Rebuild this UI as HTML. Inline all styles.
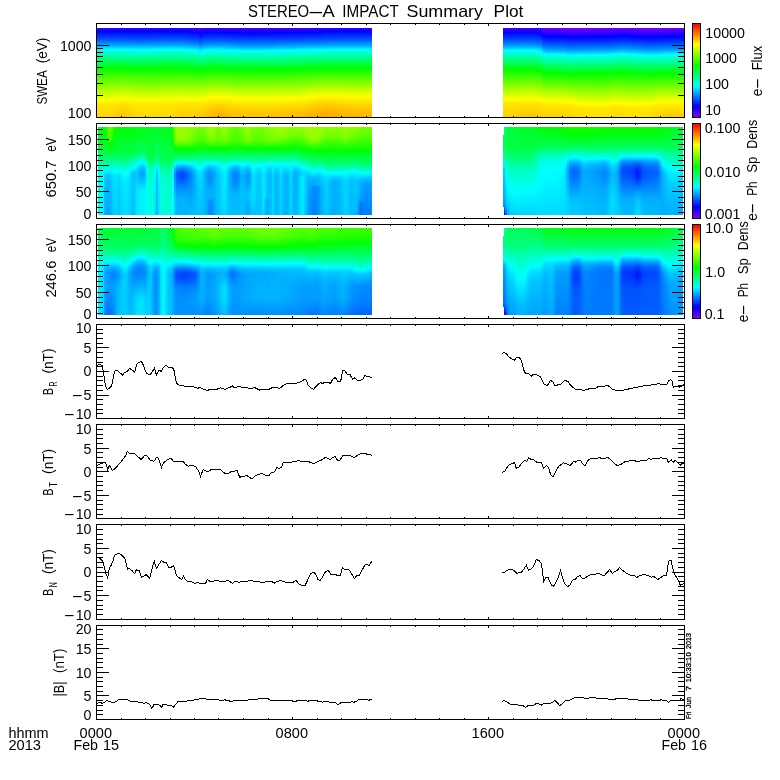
<!DOCTYPE html>
<html lang="en"><head><meta charset="utf-8"><title>STEREO-A IMPACT Summary Plot</title>
<style>
html,body{margin:0;padding:0;background:#fff;width:780px;height:780px;overflow:hidden}
#plot{position:relative;width:780px;height:780px;background:#fff;overflow:hidden}
.bk{position:absolute;overflow:hidden}
.cb{position:absolute;left:693px;width:7px;background:linear-gradient(#f00,#ff0 22.2%,#0f0 45.2%,#0ff 66.9%,#00f 88.2%,#8000ff)}
.bk i{position:absolute;top:0;height:100%;width:2px}
.w3 i{width:3px}
svg{position:absolute;left:0;top:0;display:block;font-family:"Liberation Sans",sans-serif;font-size:14px;fill:#000}
</style></head><body>
<div id="plot">
<div class="bk w3" style="left:97px;top:28px;width:275px;height:89px"><i style="left:0px;background:linear-gradient(#2c00ff 0.5px,#00f 3.5px,#05f 11.5px,#00abff 17.5px,#00feff 21.5px,#00ff9b 28.5px,#02ff00 40.5px,#ff0 72.5px,#ffe800 76.5px,#ffd400 88.5px)"></i><i style="left:3px;background:linear-gradient(#2c00ff 0.5px,#00f 3.5px,#05f 11.5px,#00abff 17.5px,#00feff 21.5px,#00ff9b 28.5px,#02ff00 40.5px,#ff0 72.5px,#ffe800 76.5px,#ffd400 88.5px)"></i><i style="left:6px;background:linear-gradient(#2c00ff 0.5px,#00f 3.5px,#05f 11.5px,#00abff 17.5px,#00feff 21.5px,#00ff9b 28.5px,#02ff00 40.5px,#ff0 72.5px,#ffe800 76.5px,#ffd400 88.5px)"></i><i style="left:9px;background:linear-gradient(#2c00ff 0.5px,#00f 3.5px,#05f 11.5px,#00abff 17.5px,#00feff 21.5px,#00ff9b 28.5px,#02ff00 40.5px,#ff0 72.5px,#ffe800 76.5px,#ffd400 88.5px)"></i><i style="left:12px;background:linear-gradient(#2c00ff 0.5px,#00f 3.5px,#05f 11.5px,#00abff 17.5px,#00feff 21.5px,#00ff9b 28.5px,#02ff00 40.5px,#fffe00 72.5px,#ffe800 76.5px,#ffd300 88.5px)"></i><i style="left:15px;background:linear-gradient(#2c00ff 0.5px,#00f 3.5px,#05f 11.5px,#00abff 17.5px,#00feff 21.5px,#00ff9b 28.5px,#02ff00 40.5px,#fcff00 71.5px,#ffe600 76.5px,#ffce00 88.5px)"></i><i style="left:18px;background:linear-gradient(#2c00ff 0.5px,#00f 3.5px,#05f 11.5px,#00abff 17.5px,#00feff 21.5px,#00ff9b 28.5px,#02ff00 40.5px,#fffe00 71.5px,#ffe500 76.5px,#ffc900 88.5px)"></i><i style="left:21px;background:linear-gradient(#2c00ff 0.5px,#00f 3.5px,#05f 11.5px,#00abff 17.5px,#00feff 21.5px,#00ff9b 28.5px,#02ff00 40.5px,#fcff00 70.5px,#ffe600 75.5px,#ffc400 88.5px)"></i><i style="left:24px;background:linear-gradient(#2c00ff 0.5px,#00f 3.5px,#05f 11.5px,#00abff 17.5px,#00feff 21.5px,#00ff9b 28.5px,#02ff00 40.5px,#ff0 70.5px,#ffe400 75.5px,#ffbf00 88.5px)"></i><i style="left:27px;background:linear-gradient(#2c00ff 0.5px,#00f 3.5px,#05f 11.5px,#00abff 17.5px,#00feff 21.5px,#00ff9b 28.5px,#02ff00 40.5px,#fdff00 70.5px,#ffe500 75.5px,#ffc200 88.5px)"></i><i style="left:30px;background:linear-gradient(#2c00ff 0.5px,#00f 3.5px,#0054ff 11.5px,#00abff 17.5px,#00fdff 21.5px,#00ff9b 28.5px,#01ff00 40.5px,#faff00 70.5px,#ffe400 76.5px,#ffc800 88.5px)"></i><i style="left:33px;background:linear-gradient(#2e00ff 0.5px,#0200ff 3.5px,#0053ff 11.5px,#00a9ff 17.5px,#00fbff 21.5px,#00fff3 22.5px,#00ff9c 28.5px,#0f0 40.5px,#feff00 71.5px,#ffe500 76.5px,#ffce00 88.5px)"></i><i style="left:36px;background:linear-gradient(#2f00ff 0.5px,#0300ff 3.5px,#0052ff 11.5px,#0086ff 15.5px,#00faff 21.5px,#00fff5 22.5px,#00ff01 40.5px,#faff00 71.5px,#ffe700 76.5px,#ffd500 88.5px)"></i><i style="left:39px;background:linear-gradient(#3000ff 0.5px,#0400ff 3.5px,#0052ff 11.5px,#0086ff 15.5px,#00b9ff 18.5px,#00f9ff 21.5px,#00fff6 22.5px,#00ff01 40.5px,#fffe00 72.5px,#ffe800 76.5px,#ffd900 88.5px)"></i><i style="left:42px;background:linear-gradient(#3000ff 0.5px,#0400ff 3.5px,#0052ff 11.5px,#0086ff 15.5px,#00f9ff 21.5px,#00fff5 22.5px,#00ff01 40.5px,#fffe00 72.5px,#ffe800 76.5px,#ffd900 88.5px)"></i><i style="left:45px;background:linear-gradient(#2f00ff 0.5px,#0400ff 3.5px,#0052ff 11.5px,#0086ff 15.5px,#00f9ff 21.5px,#00fff5 22.5px,#00ff01 40.5px,#fffe00 72.5px,#ffe800 76.5px,#ffda00 88.5px)"></i><i style="left:48px;background:linear-gradient(#2f00ff 0.5px,#0300ff 3.5px,#0052ff 11.5px,#00a8ff 17.5px,#00faff 21.5px,#00fff5 22.5px,#0f0 40.5px,#fffe00 72.5px,#ffe800 76.5px,#ffda00 88.5px)"></i><i style="left:51px;background:linear-gradient(#2f00ff 0.5px,#0300ff 3.5px,#0052ff 11.5px,#00a8ff 17.5px,#00faff 21.5px,#00fff4 22.5px,#0f0 40.5px,#fffe00 72.5px,#ffe800 76.5px,#ffdb00 88.5px)"></i><i style="left:54px;background:linear-gradient(#2e00ff 0.5px,#0200ff 3.5px,#0053ff 11.5px,#00a9ff 17.5px,#00fbff 21.5px,#00fff4 22.5px,#0f0 40.5px,#fffe00 72.5px,#ffe800 76.5px,#ffda00 88.5px)"></i><i style="left:57px;background:linear-gradient(#2d00ff 0.5px,#0200ff 3.5px,#0054ff 11.5px,#0af 17.5px,#00fcff 21.5px,#00fff3 22.5px,#00ff9c 28.5px,#01ff00 40.5px,#fffd00 72.5px,#ffe800 76.5px,#ffda00 88.5px)"></i><i style="left:60px;background:linear-gradient(#2c00ff 0.5px,#0100ff 3.5px,#0054ff 11.5px,#00abff 17.5px,#00fdff 21.5px,#00ff9b 28.5px,#01ff00 40.5px,#fffd00 72.5px,#ffe800 76.5px,#ffda00 88.5px)"></i><i style="left:63px;background:linear-gradient(#2b00ff 0.5px,#00f 3.5px,#05f 11.5px,#00acff 17.5px,#00feff 21.5px,#00ffa8 27.5px,#02ff00 40.5px,#faff00 71.5px,#ffe800 76.5px,#ffd900 88.5px)"></i><i style="left:66px;background:linear-gradient(#2a00ff 0.5px,#00f 3.5px,#05f 11.5px,#00adff 17.5px,#0ff 21.5px,#00ffa7 27.5px,#02ff00 40.5px,#faff00 71.5px,#ffe700 76.5px,#ffd900 88.5px)"></i><i style="left:69px;background:linear-gradient(#2a00ff 0.5px,#0001ff 3.5px,#0056ff 11.5px,#00aeff 17.5px,#00fffe 21.5px,#00ffa6 27.5px,#03ff00 40.5px,#fbff00 71.5px,#ffe700 76.5px,#ffd900 88.5px)"></i><i style="left:72px;background:linear-gradient(#2900ff 0.5px,#0001ff 3.5px,#0056ff 11.5px,#00aeff 17.5px,#0df 19.5px,#00fffd 21.5px,#00ffa5 27.5px,#03ff00 40.5px,#fbff00 71.5px,#ffe700 76.5px,#ffd800 88.5px)"></i><i style="left:75px;background:linear-gradient(#2a00ff 0.5px,#0001ff 3.5px,#0056ff 11.5px,#00aeff 17.5px,#0df 19.5px,#00fffe 21.5px,#00ffa6 27.5px,#03ff00 40.5px,#fdff00 71.5px,#ffe700 76.5px,#ffd500 88.5px)"></i><i style="left:78px;background:linear-gradient(#2a00ff 0.5px,#0001ff 3.5px,#0056ff 11.5px,#00adff 17.5px,#0ff 21.5px,#00ffa7 27.5px,#02ff00 40.5px,#feff00 71.5px,#ffe600 76.5px,#ffd200 88.5px)"></i><i style="left:81px;background:linear-gradient(#2b00ff 0.5px,#00f 3.5px,#05f 11.5px,#00acff 17.5px,#0ff 21.5px,#00ffa7 27.5px,#02ff00 40.5px,#fffe00 71.5px,#ffe800 75.5px,#ffcf00 88.5px)"></i><i style="left:84px;background:linear-gradient(#2c00ff 0.5px,#00f 3.5px,#0054ff 11.5px,#00abff 17.5px,#00feff 21.5px,#00ff9b 28.5px,#02ff00 40.5px,#faff00 70.5px,#ffe700 75.5px,#fc0 88.5px)"></i><i style="left:87px;background:linear-gradient(#2e00ff 0.5px,#0300ff 3.5px,#0053ff 11.5px,#00a9ff 17.5px,#00fbff 21.5px,#00fff4 22.5px,#0f0 40.5px,#fffd00 71.5px,#ffe700 75.5px,#ffcd00 88.5px)"></i><i style="left:90px;background:linear-gradient(#3100ff 0.5px,#0600ff 3.5px,#0005ff 4.5px,#005cff 12.5px,#0084ff 15.5px,#00b6ff 18.5px,#00f7ff 21.5px,#00fff7 22.5px,#00ffa0 28.5px,#00ff03 40.5px,#fffe00 71.5px,#ffe800 75.5px,#ffcf00 88.5px)"></i><i style="left:93px;background:linear-gradient(#3400ff 0.5px,#0003ff 4.5px,#0059ff 12.5px,#00b2ff 18.5px,#00e1ff 20.5px,#00fffa 22.5px,#00ffa2 28.5px,#00ff05 40.5px,#05ff00 41.5px,#ff0 71.5px,#ffe800 75.5px,#ffd000 88.5px)"></i><i style="left:96px;background:linear-gradient(#3700ff 0.5px,#0002ff 4.5px,#0057ff 12.5px,#00afff 18.5px,#00deff 20.5px,#00fffd 22.5px,#00ffa5 28.5px,#03ff00 41.5px,#ff0 71.5px,#ffe800 75.5px,#ffd000 88.5px)"></i><i style="left:99px;background:linear-gradient(#3b00ff 0.5px,#0200ff 4.5px,#0032ff 9.5px,#008aff 16.5px,#00fcff 22.5px,#00fff3 23.5px,#00ffa9 28.5px,#01ff00 41.5px,#ff0 71.5px,#ffe800 75.5px,#ffcf00 88.5px)"></i><i style="left:102px;background:linear-gradient(#4b00ff 0.5px,#0600ff 5.5px,#0010ff 7.5px,#0087ff 17.5px,#00e7ff 22.5px,#00fff5 24.5px,#00ff9e 30.5px,#00ff03 42.5px,#faff00 70.5px,#ffe700 75.5px,#ffcb00 88.5px)"></i><i style="left:105px;background:linear-gradient(#3e00ff 0.5px,#0500ff 4.5px,#002fff 9.5px,#0086ff 16.5px,#00f7ff 22.5px,#00fff7 23.5px,#00ffa0 29.5px,#00ff03 41.5px,#feff00 70.5px,#ffe500 75.5px,#ffc400 88.5px)"></i><i style="left:108px;background:linear-gradient(#3800ff 0.5px,#0001ff 4.5px,#0056ff 12.5px,#00aeff 18.5px,#00fffe 22.5px,#00ffa6 28.5px,#03ff00 41.5px,#fffd00 70.5px,#ffd500 79.5px,#ffbe00 88.5px)"></i><i style="left:111px;background:linear-gradient(#3500ff 0.5px,#0003ff 4.5px,#0058ff 12.5px,#00b1ff 18.5px,#00e0ff 20.5px,#00fffb 22.5px,#00ffa3 28.5px,#00ff06 40.5px,#05ff00 41.5px,#fcff00 69.5px,#ffd100 79.5px,#ffb900 88.5px)"></i><i style="left:114px;background:linear-gradient(#30f 0.5px,#0004ff 4.5px,#005aff 12.5px,#00b3ff 18.5px,#00e3ff 20.5px,#00fff9 22.5px,#00ffa1 28.5px,#00ff04 40.5px,#06ff00 41.5px,#ff0 69.5px,#ffcd00 79.5px,#ffb400 88.5px)"></i><i style="left:117px;background:linear-gradient(#30f 0.5px,#0004ff 4.5px,#005aff 12.5px,#00b4ff 18.5px,#00e3ff 20.5px,#00fff9 22.5px,#00ffa1 28.5px,#00ff04 40.5px,#06ff00 41.5px,#fffe00 69.5px,#ffcb00 79.5px,#ffb100 88.5px)"></i><i style="left:120px;background:linear-gradient(#30f 0.5px,#0004ff 4.5px,#005aff 12.5px,#00b4ff 18.5px,#00e3ff 20.5px,#00fff9 22.5px,#00ffa1 28.5px,#00ff04 40.5px,#06ff00 41.5px,#fffd00 69.5px,#ffc900 79.5px,#ffae00 88.5px)"></i><i style="left:123px;background:linear-gradient(#30f 0.5px,#0004ff 4.5px,#005aff 12.5px,#00b3ff 18.5px,#00e2ff 20.5px,#00fff9 22.5px,#00ffa1 28.5px,#00ff05 40.5px,#06ff00 41.5px,#fffd00 69.5px,#ffcd00 78.5px,#ffad00 88.5px)"></i><i style="left:126px;background:linear-gradient(#3500ff 0.5px,#0002ff 4.5px,#0058ff 12.5px,#00b0ff 18.5px,#00dfff 20.5px,#00fffc 22.5px,#00ffa4 28.5px,#05ff00 41.5px,#ff0 69.5px,#ffd000 78.5px,#ffb100 88.5px)"></i><i style="left:129px;background:linear-gradient(#3800ff 0.5px,#0001ff 4.5px,#0056ff 12.5px,#00aeff 18.5px,#00dcff 20.5px,#00fffe 22.5px,#00ffa6 28.5px,#03ff00 41.5px,#fdff00 69.5px,#ffcf00 79.5px,#ffb500 88.5px)"></i><i style="left:132px;background:linear-gradient(#3a00ff 0.5px,#00f 4.5px,#0054ff 12.5px,#00abff 18.5px,#00feff 22.5px,#00ff9b 29.5px,#02ff00 41.5px,#faff00 69.5px,#ffd200 79.5px,#ffb900 88.5px)"></i><i style="left:135px;background:linear-gradient(#3b00ff 0.5px,#0200ff 4.5px,#0031ff 9.5px,#0089ff 16.5px,#00fcff 22.5px,#00fff3 23.5px,#00ff9c 29.5px,#0f0 41.5px,#fffd00 70.5px,#ffd300 79.5px,#ffba00 88.5px)"></i><i style="left:138px;background:linear-gradient(#3c00ff 0.5px,#0300ff 4.5px,#0030ff 9.5px,#0087ff 16.5px,#00faff 22.5px,#00fff5 23.5px,#00ff9d 29.5px,#00ff01 41.5px,#ff0 70.5px,#ffd400 79.5px,#fb0 88.5px)"></i><i style="left:141px;background:linear-gradient(#3e00ff 0.5px,#0500ff 4.5px,#002fff 9.5px,#0085ff 16.5px,#00b8ff 19.5px,#00f8ff 22.5px,#00fff6 23.5px,#00ff9f 29.5px,#00ff02 41.5px,#feff00 70.5px,#ffd500 79.5px,#ffbc00 88.5px)"></i><i style="left:144px;background:linear-gradient(#3f00ff 0.5px,#0600ff 4.5px,#000dff 6.5px,#0084ff 16.5px,#00b6ff 19.5px,#00f6ff 22.5px,#00fff8 23.5px,#00ffa0 29.5px,#00ff03 41.5px,#fdff00 70.5px,#ffd600 79.5px,#ffbd00 88.5px)"></i><i style="left:147px;background:linear-gradient(#4000ff 0.5px,#0700ff 4.5px,#000cff 6.5px,#0083ff 16.5px,#00b4ff 19.5px,#00f5ff 22.5px,#00fff9 23.5px,#00ffa1 29.5px,#00ff04 41.5px,#06ff00 42.5px,#fcff00 70.5px,#ffd300 80.5px,#ffbe00 88.5px)"></i><i style="left:150px;background:linear-gradient(#4000ff 0.5px,#0700ff 4.5px,#000cff 6.5px,#0082ff 16.5px,#00b4ff 19.5px,#00f5ff 22.5px,#00fff9 23.5px,#00ffa1 29.5px,#00ff04 41.5px,#06ff00 42.5px,#fcff00 70.5px,#ffd300 80.5px,#ffbe00 88.5px)"></i><i style="left:153px;background:linear-gradient(#4000ff 0.5px,#0700ff 4.5px,#000cff 6.5px,#0082ff 16.5px,#00b4ff 19.5px,#00f5ff 22.5px,#00fff9 23.5px,#00ffa1 29.5px,#00ff04 41.5px,#06ff00 42.5px,#fcff00 70.5px,#ffd400 80.5px,#ffbe00 88.5px)"></i><i style="left:156px;background:linear-gradient(#4000ff 0.5px,#0700ff 4.5px,#000cff 6.5px,#0082ff 16.5px,#00b4ff 19.5px,#00f5ff 22.5px,#00fff9 23.5px,#00ffa1 29.5px,#00ff04 41.5px,#06ff00 42.5px,#fbff00 70.5px,#ffd400 80.5px,#ffbe00 88.5px)"></i><i style="left:159px;background:linear-gradient(#4000ff 0.5px,#0700ff 4.5px,#000cff 6.5px,#0082ff 16.5px,#00b4ff 19.5px,#00f5ff 22.5px,#00fff9 23.5px,#00ffa1 29.5px,#00ff04 41.5px,#06ff00 42.5px,#fbff00 70.5px,#ffd400 80.5px,#ffbe00 88.5px)"></i><i style="left:162px;background:linear-gradient(#4000ff 0.5px,#0700ff 4.5px,#000cff 6.5px,#0083ff 16.5px,#00b4ff 19.5px,#00f5ff 22.5px,#00fff9 23.5px,#00ffa1 29.5px,#00ff04 41.5px,#06ff00 42.5px,#fbff00 70.5px,#ffd400 80.5px,#ffbe00 88.5px)"></i><i style="left:165px;background:linear-gradient(#4000ff 0.5px,#0700ff 4.5px,#000dff 6.5px,#0083ff 16.5px,#00b5ff 19.5px,#00f6ff 22.5px,#00fff8 23.5px,#00ffa0 29.5px,#00ff03 41.5px,#fbff00 70.5px,#ffd400 80.5px,#ffbd00 88.5px)"></i><i style="left:168px;background:linear-gradient(#3f00ff 0.5px,#0600ff 4.5px,#000dff 6.5px,#0084ff 16.5px,#00b6ff 19.5px,#00f7ff 22.5px,#00fff7 23.5px,#00ffa0 29.5px,#00ff03 41.5px,#fbff00 70.5px,#ffd300 80.5px,#ffbd00 88.5px)"></i><i style="left:171px;background:linear-gradient(#3e00ff 0.5px,#0500ff 4.5px,#000eff 6.5px,#0085ff 16.5px,#00b7ff 19.5px,#00f7ff 22.5px,#00fff7 23.5px,#00ff9f 29.5px,#00ff02 41.5px,#fbff00 70.5px,#ffd300 80.5px,#ffbd00 88.5px)"></i><i style="left:174px;background:linear-gradient(#3e00ff 0.5px,#0500ff 4.5px,#002fff 9.5px,#0085ff 16.5px,#00b8ff 19.5px,#00f8ff 22.5px,#00fff6 23.5px,#00ff9f 29.5px,#00ff02 41.5px,#fcff00 70.5px,#ffd300 80.5px,#ffbc00 88.5px)"></i><i style="left:177px;background:linear-gradient(#3d00ff 0.5px,#0400ff 4.5px,#0030ff 9.5px,#0086ff 16.5px,#00baff 19.5px,#00f9ff 22.5px,#00fff5 23.5px,#00ff01 41.5px,#fcff00 70.5px,#ffd300 80.5px,#ffbc00 88.5px)"></i><i style="left:180px;background:linear-gradient(#3c00ff 0.5px,#0300ff 4.5px,#0030ff 9.5px,#0087ff 16.5px,#00faff 22.5px,#00fff5 23.5px,#0f0 41.5px,#fcff00 70.5px,#ffd200 80.5px,#ffbc00 88.5px)"></i><i style="left:183px;background:linear-gradient(#3c00ff 0.5px,#0300ff 4.5px,#0031ff 9.5px,#08f 16.5px,#00fbff 22.5px,#00fff4 23.5px,#0f0 41.5px,#fdff00 70.5px,#ffd200 80.5px,#fb0 88.5px)"></i><i style="left:186px;background:linear-gradient(#3b00ff 0.5px,#0200ff 4.5px,#0032ff 9.5px,#0089ff 16.5px,#00fcff 22.5px,#00fff3 23.5px,#00ff9c 29.5px,#01ff00 41.5px,#feff00 70.5px,#ffd500 79.5px,#fb0 88.5px)"></i><i style="left:189px;background:linear-gradient(#3a00ff 0.5px,#0100ff 4.5px,#0032ff 9.5px,#008aff 16.5px,#00fdff 22.5px,#00fff2 23.5px,#00ff9b 29.5px,#01ff00 41.5px,#feff00 70.5px,#ffd400 79.5px,#fb0 88.5px)"></i><i style="left:192px;background:linear-gradient(#3900ff 0.5px,#0100ff 4.5px,#05f 12.5px,#00acff 18.5px,#00feff 22.5px,#00ffa8 28.5px,#02ff00 41.5px,#ff0 70.5px,#ffd400 79.5px,#ffba00 88.5px)"></i><i style="left:195px;background:linear-gradient(#3900ff 0.5px,#00f 4.5px,#05f 12.5px,#00adff 18.5px,#0ff 22.5px,#00ffa7 28.5px,#02ff00 41.5px,#fffe00 70.5px,#ffd300 79.5px,#ffba00 88.5px)"></i><i style="left:198px;background:linear-gradient(#3800ff 0.5px,#0001ff 4.5px,#0056ff 12.5px,#00aeff 18.5px,#00fffe 22.5px,#00ffa6 28.5px,#03ff00 41.5px,#fffd00 70.5px,#ffd300 79.5px,#ffba00 88.5px)"></i><i style="left:201px;background:linear-gradient(#3700ff 0.5px,#0001ff 4.5px,#0056ff 12.5px,#00afff 18.5px,#0df 20.5px,#00fffd 22.5px,#00ffa5 28.5px,#03ff00 41.5px,#fbff00 69.5px,#ffd200 79.5px,#ffb900 88.5px)"></i><i style="left:204px;background:linear-gradient(#3600ff 0.5px,#0002ff 4.5px,#0057ff 12.5px,#00b0ff 18.5px,#00dfff 20.5px,#00fffc 22.5px,#00ffa4 28.5px,#04ff00 41.5px,#fdff00 69.5px,#ffd400 78.5px,#ffb700 88.5px)"></i><i style="left:207px;background:linear-gradient(#3500ff 0.5px,#0003ff 4.5px,#0058ff 12.5px,#00b1ff 18.5px,#00e0ff 20.5px,#00fffb 22.5px,#00ffa3 28.5px,#00ff06 40.5px,#05ff00 41.5px,#ff0 69.5px,#ffd100 78.5px,#ffb500 88.5px)"></i><i style="left:210px;background:linear-gradient(#3400ff 0.5px,#0003ff 4.5px,#0059ff 12.5px,#00b2ff 18.5px,#00e1ff 20.5px,#00fffa 22.5px,#00ffa2 28.5px,#00ff05 40.5px,#06ff00 41.5px,#fbff00 68.5px,#ffce00 78.5px,#ffb300 88.5px)"></i><i style="left:213px;background:linear-gradient(#30f 0.5px,#0004ff 4.5px,#005aff 12.5px,#00b3ff 18.5px,#00e3ff 20.5px,#00fff9 22.5px,#00ffa1 28.5px,#00ff04 40.5px,#06ff00 41.5px,#feff00 68.5px,#fc0 78.5px,#ffb000 88.5px)"></i><i style="left:216px;background:linear-gradient(#3200ff 0.5px,#0004ff 4.5px,#005bff 12.5px,#0083ff 15.5px,#00b5ff 18.5px,#00f6ff 21.5px,#00fff8 22.5px,#00ffa0 28.5px,#00ff03 40.5px,#fffe00 68.5px,#ffca00 78.5px,#ffae00 88.5px)"></i><i style="left:219px;background:linear-gradient(#3100ff 0.5px,#0600ff 3.5px,#0005ff 4.5px,#005cff 12.5px,#0084ff 15.5px,#00b7ff 18.5px,#00f7ff 21.5px,#00fff7 22.5px,#00ff9f 28.5px,#00ff02 40.5px,#fffd00 68.5px,#ffc800 78.5px,#ffac00 88.5px)"></i><i style="left:222px;background:linear-gradient(#3000ff 0.5px,#0500ff 3.5px,#0005ff 4.5px,#005dff 12.5px,#00a6ff 17.5px,#00f8ff 21.5px,#00fff6 22.5px,#00ff9f 28.5px,#00ff02 40.5px,#fbff00 67.5px,#ffca00 77.5px,#ffa900 88.5px)"></i><i style="left:225px;background:linear-gradient(#2f00ff 0.5px,#0400ff 3.5px,#0052ff 11.5px,#0086ff 15.5px,#00f9ff 21.5px,#00fff5 22.5px,#00ff01 40.5px,#fdff00 67.5px,#ffc800 77.5px,#ffa700 88.5px)"></i><i style="left:228px;background:linear-gradient(#2f00ff 0.5px,#0300ff 3.5px,#0053ff 11.5px,#00a8ff 17.5px,#00faff 21.5px,#00fff4 22.5px,#0f0 40.5px,#ff0 67.5px,#ffc600 77.5px,#ffa500 88.5px)"></i><i style="left:231px;background:linear-gradient(#2e00ff 0.5px,#0200ff 3.5px,#0053ff 11.5px,#00a9ff 17.5px,#00fbff 21.5px,#00fff4 22.5px,#0f0 40.5px,#feff00 67.5px,#ffc800 77.5px,#ffa700 88.5px)"></i><i style="left:234px;background:linear-gradient(#2d00ff 0.5px,#0200ff 3.5px,#0053ff 11.5px,#0af 17.5px,#00fcff 21.5px,#00fff3 22.5px,#00ff9c 28.5px,#01ff00 40.5px,#fdff00 67.5px,#ffc900 77.5px,#fa0 88.5px)"></i><i style="left:237px;background:linear-gradient(#2d00ff 0.5px,#0100ff 3.5px,#0054ff 11.5px,#0af 17.5px,#00fdff 21.5px,#00fff2 22.5px,#00ff9b 28.5px,#01ff00 40.5px,#fcff00 67.5px,#ffcb00 77.5px,#ffac00 88.5px)"></i><i style="left:240px;background:linear-gradient(#2c00ff 0.5px,#00f 3.5px,#0054ff 11.5px,#00abff 17.5px,#00fdff 21.5px,#00ff9b 28.5px,#02ff00 40.5px,#fbff00 67.5px,#ffcd00 77.5px,#ffaf00 88.5px)"></i><i style="left:243px;background:linear-gradient(#2c00ff 0.5px,#00f 3.5px,#05f 11.5px,#00abff 17.5px,#00feff 21.5px,#00ff9b 28.5px,#02ff00 40.5px,#faff00 67.5px,#ffca00 78.5px,#ffb000 88.5px)"></i><i style="left:246px;background:linear-gradient(#2c00ff 0.5px,#00f 3.5px,#05f 11.5px,#00abff 17.5px,#00feff 21.5px,#00ff9b 28.5px,#02ff00 40.5px,#fffd00 68.5px,#ffcb00 78.5px,#ffb100 88.5px)"></i><i style="left:249px;background:linear-gradient(#2c00ff 0.5px,#00f 3.5px,#05f 11.5px,#00abff 17.5px,#00feff 21.5px,#00ff9b 28.5px,#02ff00 40.5px,#fffe00 68.5px,#fc0 78.5px,#ffb200 88.5px)"></i><i style="left:252px;background:linear-gradient(#2c00ff 0.5px,#00f 3.5px,#05f 11.5px,#00abff 17.5px,#00feff 21.5px,#00ff9b 28.5px,#02ff00 40.5px,#fffe00 68.5px,#ffcd00 78.5px,#ffb300 88.5px)"></i><i style="left:255px;background:linear-gradient(#2c00ff 0.5px,#00f 3.5px,#05f 11.5px,#00abff 17.5px,#00feff 21.5px,#00ff9b 28.5px,#02ff00 40.5px,#ff0 68.5px,#ffcd00 78.5px,#ffb400 88.5px)"></i><i style="left:258px;background:linear-gradient(#2c00ff 0.5px,#00f 3.5px,#05f 11.5px,#00abff 17.5px,#00feff 21.5px,#00ff9b 28.5px,#02ff00 40.5px,#ff0 68.5px,#ffce00 78.5px,#ffb400 88.5px)"></i><i style="left:261px;background:linear-gradient(#2c00ff 0.5px,#00f 3.5px,#05f 11.5px,#00abff 17.5px,#00feff 21.5px,#00ff9b 28.5px,#02ff00 40.5px,#ff0 68.5px,#ffce00 78.5px,#ffb400 88.5px)"></i><i style="left:264px;background:linear-gradient(#2c00ff 0.5px,#00f 3.5px,#05f 11.5px,#00abff 17.5px,#00feff 21.5px,#00ff9b 28.5px,#02ff00 40.5px,#ff0 68.5px,#ffce00 78.5px,#ffb400 88.5px)"></i><i style="left:267px;background:linear-gradient(#2c00ff 0.5px,#00f 3.5px,#05f 11.5px,#00abff 17.5px,#00feff 21.5px,#00ff9b 28.5px,#02ff00 40.5px,#ff0 68.5px,#ffce00 78.5px,#ffb400 88.5px)"></i><i style="left:270px;background:linear-gradient(#2c00ff 0.5px,#00f 3.5px,#05f 11.5px,#00abff 17.5px,#00feff 21.5px,#00ff9b 28.5px,#02ff00 40.5px,#ff0 68.5px,#ffce00 78.5px,#ffb400 88.5px)"></i><i style="left:273px;width:2px;background:linear-gradient(#2c00ff 0.5px,#00f 3.5px,#05f 11.5px,#00abff 17.5px,#00feff 21.5px,#00ff9b 28.5px,#02ff00 40.5px,#ff0 68.5px,#ffce00 78.5px,#ffb400 88.5px)"></i></div>
<div class="bk w3" style="left:503px;top:28px;width:181px;height:89px"><i style="left:0px;background:linear-gradient(#3b00ff 0.5px,#0100ff 4.5px,#0032ff 9.5px,#0089ff 16.5px,#00fcff 22.5px,#00fff3 23.5px,#00ff9c 29.5px,#01ff00 41.5px,#ff0 71.5px,#ffe800 75.5px,#ffd300 88.5px)"></i><i style="left:3px;background:linear-gradient(#3b00ff 0.5px,#0100ff 4.5px,#0032ff 9.5px,#0089ff 16.5px,#00fcff 22.5px,#00fff3 23.5px,#00ff9c 29.5px,#01ff00 41.5px,#fffe00 71.5px,#ffe800 75.5px,#ffd200 88.5px)"></i><i style="left:6px;background:linear-gradient(#3b00ff 0.5px,#0100ff 4.5px,#0032ff 9.5px,#0089ff 16.5px,#00fcff 22.5px,#00fff3 23.5px,#00ff9c 29.5px,#01ff00 41.5px,#fffe00 71.5px,#ffe800 75.5px,#ffd000 88.5px)"></i><i style="left:9px;background:linear-gradient(#3b00ff 0.5px,#0100ff 4.5px,#0032ff 9.5px,#0089ff 16.5px,#00fcff 22.5px,#00fff3 23.5px,#00ff9c 29.5px,#01ff00 41.5px,#fffd00 71.5px,#ffe700 75.5px,#ffce00 88.5px)"></i><i style="left:12px;background:linear-gradient(#3b00ff 0.5px,#0100ff 4.5px,#0032ff 9.5px,#0089ff 16.5px,#00fcff 22.5px,#00fff3 23.5px,#00ff9c 29.5px,#01ff00 41.5px,#fffd00 71.5px,#ffe700 75.5px,#fc0 88.5px)"></i><i style="left:15px;background:linear-gradient(#3a00ff 0.5px,#0100ff 4.5px,#0054ff 12.5px,#00abff 18.5px,#00fdff 22.5px,#00ff9b 29.5px,#01ff00 41.5px,#faff00 70.5px,#ffe700 75.5px,#ffca00 88.5px)"></i><i style="left:18px;background:linear-gradient(#3900ff 0.5px,#00f 4.5px,#05f 12.5px,#00acff 18.5px,#00feff 22.5px,#00ffa8 28.5px,#02ff00 41.5px,#fbff00 70.5px,#ffe600 75.5px,#ffc800 88.5px)"></i><i style="left:21px;background:linear-gradient(#3900ff 0.5px,#00f 4.5px,#05f 12.5px,#00acff 18.5px,#0ff 22.5px,#00ffa7 28.5px,#02ff00 41.5px,#fcff00 70.5px,#ffe600 75.5px,#ffc600 88.5px)"></i><i style="left:24px;background:linear-gradient(#3900ff 0.5px,#00f 4.5px,#05f 12.5px,#00adff 18.5px,#0ff 22.5px,#00ffa7 28.5px,#02ff00 41.5px,#fcff00 70.5px,#ffe600 75.5px,#ffc500 88.5px)"></i><i style="left:27px;background:linear-gradient(#3a00ff 0.5px,#0100ff 4.5px,#0054ff 12.5px,#00abff 18.5px,#00fdff 22.5px,#01ff00 41.5px,#fbff00 70.5px,#ffe600 75.5px,#ffc600 88.5px)"></i><i style="left:30px;background:linear-gradient(#3c00ff 0.5px,#0300ff 4.5px,#0031ff 9.5px,#08f 16.5px,#00fbff 22.5px,#00fff4 23.5px,#0f0 41.5px,#faff00 70.5px,#ffe700 75.5px,#ffc700 88.5px)"></i><i style="left:33px;background:linear-gradient(#3e00ff 0.5px,#0500ff 4.5px,#002fff 9.5px,#0085ff 16.5px,#00b9ff 19.5px,#00f8ff 22.5px,#00fff6 23.5px,#00ff02 41.5px,#fffd00 71.5px,#ffe700 75.5px,#ffc900 88.5px)"></i><i style="left:36px;background:linear-gradient(#4600ff 0.5px,#0100ff 5.5px,#03f 10.5px,#008cff 17.5px,#00fdff 23.5px,#00ffa8 29.5px,#01ff00 42.5px,#fcff00 71.5px,#ffe600 76.5px,#ffce00 88.5px)"></i><i style="left:39px;background:linear-gradient(#6100ff 0.5px,#0500ff 7.5px,#01f 9.5px,#0060ff 16.5px,#009bff 20.5px,#00fbff 25.5px,#00fff3 26.5px,#00ff9c 32.5px,#00ff01 44.5px,#feff00 72.5px,#ffe900 76.5px,#ffd100 88.5px)"></i><i style="left:42px;background:linear-gradient(#6900ff 0.5px,#0c00ff 7.5px,#000aff 9.5px,#007fff 19.5px,#00afff 22.5px,#00deff 24.5px,#00fffd 26.5px,#00ffa5 32.5px,#04ff00 45.5px,#fcff00 72.5px,#ffe700 77.5px,#ffd100 88.5px)"></i><i style="left:45px;background:linear-gradient(#6a00ff 0.5px,#0001ff 8.5px,#0009ff 9.5px,#007eff 19.5px,#00aeff 22.5px,#00fffe 26.5px,#00ffa6 32.5px,#03ff00 45.5px,#fcff00 72.5px,#ffe700 77.5px,#ffd100 88.5px)"></i><i style="left:48px;background:linear-gradient(#6b00ff 0.5px,#0001ff 8.5px,#0009ff 9.5px,#007dff 19.5px,#00adff 22.5px,#0ff 26.5px,#00ffa7 32.5px,#03ff00 45.5px,#fbff00 72.5px,#ffe700 77.5px,#ffd000 88.5px)"></i><i style="left:51px;background:linear-gradient(#6b00ff 0.5px,#00f 8.5px,#0008ff 9.5px,#007dff 19.5px,#00acff 22.5px,#0ff 26.5px,#00ffa7 32.5px,#02ff00 45.5px,#fbff00 72.5px,#ffe700 77.5px,#ffd000 88.5px)"></i><i style="left:54px;background:linear-gradient(#6c00ff 0.5px,#00f 8.5px,#0008ff 9.5px,#05f 16.5px,#008bff 20.5px,#00feff 26.5px,#00ffa8 32.5px,#02ff00 45.5px,#fbff00 72.5px,#ffe700 77.5px,#ffcf00 88.5px)"></i><i style="left:57px;background:linear-gradient(#6d00ff 0.5px,#0200ff 8.5px,#0007ff 9.5px,#007bff 19.5px,#0af 22.5px,#00fcff 26.5px,#00fff3 27.5px,#00ff9c 33.5px,#01ff00 45.5px,#faff00 72.5px,#ffe700 77.5px,#ffcf00 88.5px)"></i><i style="left:60px;background:linear-gradient(#6f00ff 0.5px,#0400ff 8.5px,#000fff 10.5px,#0086ff 20.5px,#00f8ff 26.5px,#00fff6 27.5px,#00ff02 45.5px,#fffd00 73.5px,#ffe700 77.5px,#ffd100 88.5px)"></i><i style="left:63px;background:linear-gradient(#7200ff 0.5px,#0700ff 8.5px,#000dff 10.5px,#0083ff 20.5px,#00b5ff 23.5px,#00f5ff 26.5px,#00fff9 27.5px,#00ffa1 33.5px,#00ff04 45.5px,#06ff00 46.5px,#fffe00 73.5px,#ffe800 77.5px,#ffd200 88.5px)"></i><i style="left:66px;background:linear-gradient(#7400ff 0.5px,#0a00ff 8.5px,#000bff 10.5px,#0080ff 20.5px,#00fffc 27.5px,#00ffa4 33.5px,#05ff00 46.5px,#ff0 73.5px,#ffe800 77.5px,#ffd400 88.5px)"></i><i style="left:69px;background:linear-gradient(#7400ff 0.5px,#0a00ff 8.5px,#000aff 10.5px,#0080ff 20.5px,#00b0ff 23.5px,#00dfff 25.5px,#00fffc 27.5px,#00ffa4 33.5px,#04ff00 46.5px,#faff00 73.5px,#ffe500 79.5px,#ffd700 88.5px)"></i><i style="left:72px;background:linear-gradient(#7300ff 0.5px,#0800ff 8.5px,#000bff 10.5px,#0081ff 20.5px,#00b2ff 23.5px,#00f3ff 26.5px,#00fffa 27.5px,#00ffa2 33.5px,#00ff05 45.5px,#05ff00 46.5px,#faff00 74.5px,#ffe700 79.5px,#ffdc00 88.5px)"></i><i style="left:75px;background:linear-gradient(#7200ff 0.5px,#0700ff 8.5px,#000cff 10.5px,#0083ff 20.5px,#00b4ff 23.5px,#00f5ff 26.5px,#00fff9 27.5px,#00ffa1 33.5px,#00ff04 45.5px,#ff0 75.5px,#ffe800 79.5px,#ffdf00 88.5px)"></i><i style="left:78px;background:linear-gradient(#7100ff 0.5px,#0700ff 8.5px,#000dff 10.5px,#0083ff 20.5px,#00b5ff 23.5px,#00f6ff 26.5px,#00fff8 27.5px,#00ffa0 33.5px,#00ff03 45.5px,#fdff00 75.5px,#ffe900 79.5px,#ffe000 88.5px)"></i><i style="left:81px;background:linear-gradient(#7100ff 0.5px,#0600ff 8.5px,#000dff 10.5px,#0084ff 20.5px,#00b6ff 23.5px,#00f6ff 26.5px,#00fff8 27.5px,#00ffa0 33.5px,#00ff03 45.5px,#fcff00 75.5px,#ffe800 80.5px,#ffe100 88.5px)"></i><i style="left:84px;background:linear-gradient(#7000ff 0.5px,#0500ff 8.5px,#000dff 10.5px,#0084ff 20.5px,#00b7ff 23.5px,#00f7ff 26.5px,#00fff7 27.5px,#00ff9f 33.5px,#00ff02 45.5px,#faff00 75.5px,#ffe800 80.5px,#ffe100 88.5px)"></i><i style="left:87px;background:linear-gradient(#7000ff 0.5px,#0500ff 8.5px,#000eff 10.5px,#0085ff 20.5px,#00b8ff 23.5px,#00f8ff 26.5px,#00fff6 27.5px,#00ff9f 33.5px,#00ff02 45.5px,#f9ff00 75.5px,#ffe800 80.5px,#ffe100 88.5px)"></i><i style="left:90px;background:linear-gradient(#6f00ff 0.5px,#0400ff 8.5px,#000eff 10.5px,#0085ff 20.5px,#00b8ff 23.5px,#00f8ff 26.5px,#00fff6 27.5px,#00ff9e 33.5px,#00ff01 45.5px,#fffe00 76.5px,#ffe800 80.5px,#ffe200 88.5px)"></i><i style="left:93px;background:linear-gradient(#6f00ff 0.5px,#0400ff 8.5px,#000eff 10.5px,#0085ff 20.5px,#00b9ff 23.5px,#00f8ff 26.5px,#00fff6 27.5px,#00ff01 45.5px,#fffe00 76.5px,#ffe800 80.5px,#ffe200 88.5px)"></i><i style="left:96px;background:linear-gradient(#6f00ff 0.5px,#0400ff 8.5px,#000eff 10.5px,#0085ff 20.5px,#00b9ff 23.5px,#00f8ff 26.5px,#00fff6 27.5px,#00ff01 45.5px,#fffe00 76.5px,#ffe800 80.5px,#ffe200 88.5px)"></i><i style="left:99px;background:linear-gradient(#6f00ff 0.5px,#0400ff 8.5px,#000eff 10.5px,#0085ff 20.5px,#00b9ff 23.5px,#00f8ff 26.5px,#00fff6 27.5px,#00ff01 45.5px,#fffe00 76.5px,#ffe800 80.5px,#ffe200 88.5px)"></i><i style="left:102px;background:linear-gradient(#6f00ff 0.5px,#0400ff 8.5px,#000eff 10.5px,#0086ff 20.5px,#00b9ff 23.5px,#00f9ff 26.5px,#00fff6 27.5px,#00ff01 45.5px,#f9ff00 75.5px,#ffe800 80.5px,#ffe200 88.5px)"></i><i style="left:105px;background:linear-gradient(#6e00ff 0.5px,#0300ff 8.5px,#0010ff 10.5px,#0087ff 20.5px,#00faff 26.5px,#00fff4 27.5px,#0f0 45.5px,#fcff00 75.5px,#ffe700 80.5px,#ffe000 88.5px)"></i><i style="left:108px;background:linear-gradient(#6c00ff 0.5px,#0100ff 8.5px,#0008ff 9.5px,#05f 16.5px,#008bff 20.5px,#00feff 26.5px,#00ffa8 32.5px,#02ff00 45.5px,#faff00 74.5px,#ffe900 79.5px,#ffdc00 88.5px)"></i><i style="left:111px;background:linear-gradient(#6900ff 0.5px,#0b00ff 7.5px,#000aff 9.5px,#007fff 19.5px,#00afff 22.5px,#00deff 24.5px,#00fffd 26.5px,#00ffa5 32.5px,#04ff00 45.5px,#feff00 74.5px,#ffe900 78.5px,#ffda00 88.5px)"></i><i style="left:114px;background:linear-gradient(#6700ff 0.5px,#0800ff 7.5px,#000cff 9.5px,#0082ff 19.5px,#00b4ff 22.5px,#00f4ff 25.5px,#00fffa 26.5px,#00ffa2 32.5px,#00ff05 44.5px,#05ff00 45.5px,#fbff00 74.5px,#ffe700 79.5px,#ffdc00 88.5px)"></i><i style="left:117px;background:linear-gradient(#6400ff 0.5px,#0500ff 7.5px,#000eff 9.5px,#0085ff 19.5px,#00b7ff 22.5px,#00f7ff 25.5px,#00fff7 26.5px,#00ff9f 32.5px,#00ff02 44.5px,#fffe00 75.5px,#ffe800 79.5px,#ffdf00 88.5px)"></i><i style="left:120px;background:linear-gradient(#60f 0.5px,#0700ff 7.5px,#000dff 9.5px,#0083ff 19.5px,#00b6ff 22.5px,#00f6ff 25.5px,#00fff8 26.5px,#00ffa1 32.5px,#00ff03 44.5px,#feff00 75.5px,#ffe900 79.5px,#ffe000 88.5px)"></i><i style="left:123px;background:linear-gradient(#6800ff 0.5px,#0900ff 7.5px,#000bff 9.5px,#0081ff 19.5px,#00fffb 26.5px,#00ffa3 32.5px,#00ff06 44.5px,#05ff00 45.5px,#fdff00 75.5px,#ffe900 79.5px,#ffe000 88.5px)"></i><i style="left:126px;background:linear-gradient(#6a00ff 0.5px,#0001ff 8.5px,#000aff 9.5px,#007fff 19.5px,#00afff 22.5px,#00fffe 26.5px,#00ffa6 32.5px,#03ff00 45.5px,#fcff00 75.5px,#ffe800 80.5px,#ffe100 88.5px)"></i><i style="left:129px;background:linear-gradient(#6c00ff 0.5px,#0100ff 8.5px,#0008ff 9.5px,#05f 16.5px,#008aff 20.5px,#00fdff 26.5px,#00ff9b 33.5px,#02ff00 45.5px,#fbff00 75.5px,#ffe800 80.5px,#ffe100 88.5px)"></i><i style="left:132px;background:linear-gradient(#6e00ff 0.5px,#0200ff 8.5px,#0010ff 10.5px,#08f 20.5px,#00fbff 26.5px,#00fff4 27.5px,#0f0 45.5px,#fbff00 75.5px,#ffe800 80.5px,#ffe100 88.5px)"></i><i style="left:135px;background:linear-gradient(#6f00ff 0.5px,#0400ff 8.5px,#000fff 10.5px,#0086ff 20.5px,#00f8ff 26.5px,#00fff6 27.5px,#00ff9f 33.5px,#00ff02 45.5px,#fcff00 75.5px,#ffe800 80.5px,#ffe100 88.5px)"></i><i style="left:138px;background:linear-gradient(#7100ff 0.5px,#0700ff 8.5px,#000dff 10.5px,#0084ff 20.5px,#00b6ff 23.5px,#00f6ff 26.5px,#00fff8 27.5px,#00ffa0 33.5px,#00ff04 45.5px,#fdff00 75.5px,#ffe900 79.5px,#ffe000 88.5px)"></i><i style="left:141px;background:linear-gradient(#7300ff 0.5px,#0800ff 8.5px,#000cff 10.5px,#0082ff 20.5px,#00b3ff 23.5px,#00f3ff 26.5px,#00fffa 27.5px,#00ffa2 33.5px,#00ff05 45.5px,#feff00 75.5px,#ffe900 79.5px,#ffe000 88.5px)"></i><i style="left:144px;background:linear-gradient(#7400ff 0.5px,#0a00ff 8.5px,#000bff 10.5px,#0080ff 20.5px,#00fffb 27.5px,#00ffa3 33.5px,#00ff06 45.5px,#05ff00 46.5px,#fffe00 75.5px,#ffe800 79.5px,#ffdf00 88.5px)"></i><i style="left:147px;background:linear-gradient(#7300ff 0.5px,#0900ff 8.5px,#000bff 10.5px,#0081ff 20.5px,#00fffb 27.5px,#00ffa3 33.5px,#00ff06 45.5px,#05ff00 46.5px,#fbff00 74.5px,#ffe700 79.5px,#ffdb00 88.5px)"></i><i style="left:150px;background:linear-gradient(#7200ff 0.5px,#0800ff 8.5px,#000cff 10.5px,#0082ff 20.5px,#00b3ff 23.5px,#00f4ff 26.5px,#00fffa 27.5px,#00ffa2 33.5px,#00ff05 45.5px,#06ff00 46.5px,#ff0 74.5px,#ffe600 79.5px,#ffd700 88.5px)"></i><i style="left:153px;background:linear-gradient(#7100ff 0.5px,#0700ff 8.5px,#000cff 10.5px,#0083ff 20.5px,#00b4ff 23.5px,#00f5ff 26.5px,#00fff9 27.5px,#00ffa1 33.5px,#00ff04 45.5px,#faff00 73.5px,#ffe700 78.5px,#ffd400 88.5px)"></i><i style="left:156px;background:linear-gradient(#7000ff 0.5px,#0600ff 8.5px,#000dff 10.5px,#0084ff 20.5px,#00b6ff 23.5px,#00f7ff 26.5px,#00fff7 27.5px,#00ffa0 33.5px,#00ff03 45.5px,#fcff00 73.5px,#ffe700 78.5px,#ffd000 88.5px)"></i><i style="left:159px;background:linear-gradient(#6f00ff 0.5px,#0400ff 8.5px,#000eff 10.5px,#0086ff 20.5px,#00b9ff 23.5px,#00f8ff 26.5px,#00fff6 27.5px,#00ff9e 33.5px,#00ff02 45.5px,#fdff00 73.5px,#ffe600 78.5px,#ffcd00 88.5px)"></i><i style="left:162px;background:linear-gradient(#6e00ff 0.5px,#0300ff 8.5px,#000fff 10.5px,#0087ff 20.5px,#00faff 26.5px,#00fff5 27.5px,#0f0 45.5px,#feff00 73.5px,#ffe900 77.5px,#ffc900 88.5px)"></i><i style="left:165px;background:linear-gradient(#6d00ff 0.5px,#0200ff 8.5px,#0007ff 9.5px,#007bff 19.5px,#0af 22.5px,#00fcff 26.5px,#00fff3 27.5px,#00ff9c 33.5px,#01ff00 45.5px,#ff0 73.5px,#ffe800 77.5px,#ffc600 88.5px)"></i><i style="left:168px;background:linear-gradient(#6d00ff 0.5px,#0100ff 8.5px,#0007ff 9.5px,#007bff 19.5px,#0af 22.5px,#00fdff 26.5px,#00fff3 27.5px,#00ff9b 33.5px,#01ff00 45.5px,#feff00 73.5px,#ffe900 77.5px,#ffc700 88.5px)"></i><i style="left:171px;background:linear-gradient(#6c00ff 0.5px,#00f 8.5px,#0008ff 9.5px,#0054ff 16.5px,#008aff 20.5px,#00fdff 26.5px,#00ff9b 33.5px,#02ff00 45.5px,#fdff00 73.5px,#ffe900 77.5px,#ffca00 88.5px)"></i><i style="left:174px;background:linear-gradient(#6c00ff 0.5px,#00f 8.5px,#0008ff 9.5px,#0054ff 16.5px,#008aff 20.5px,#00feff 26.5px,#00ff9b 33.5px,#02ff00 45.5px,#fcff00 73.5px,#ffe600 78.5px,#fc0 88.5px)"></i><i style="left:177px;background:linear-gradient(#6c00ff 0.5px,#00f 8.5px,#0008ff 9.5px,#05f 16.5px,#008aff 20.5px,#00feff 26.5px,#00ff9b 33.5px,#02ff00 45.5px,#fbff00 73.5px,#ffe700 78.5px,#ffcf00 88.5px)"></i><i style="left:180px;width:1px;background:linear-gradient(#6c00ff 0.5px,#00f 8.5px,#0008ff 9.5px,#05f 16.5px,#008aff 20.5px,#00feff 26.5px,#00ff9b 33.5px,#02ff00 45.5px,#fbff00 73.5px,#ffe700 78.5px,#ffd000 88.5px)"></i></div>
<div class="bk" style="left:98px;top:127px;width:274px;height:88px"><i style="left:0px;background:linear-gradient(#00ff29 0.5px,#00ff29 16.5px,#00ff30 20.5px,#00ff7a 31.5px,#00ffd1 40.5px,#00ffeb 46.5px,#00fff9 87.5px)"></i><i style="left:2px;background:linear-gradient(#00ff28 0.5px,#00ff29 16.5px,#00ff30 20.5px,#00ff7a 31.5px,#00ffd1 40.5px,#00ffeb 46.5px,#00fff9 87.5px)"></i><i style="left:4px;background:linear-gradient(#00ff1d 0.5px,#00ff28 16.5px,#00ff34 21.5px,#00ff78 31.5px,#00ffdb 41.5px,#00fffb 47.5px,#00f1ff 87.5px)"></i><i style="left:6px;background:linear-gradient(#07ff00 0.5px,#00ff01 5.5px,#00ff12 12.5px,#00ff45 25.5px,#00ff62 29.5px,#00ff9a 35.5px,#00fffe 43.5px,#00dcff 47.5px,#00ceff 52.5px,#00c3ff 61.5px,#00b9ff 87.5px)"></i><i style="left:8px;background:linear-gradient(#30ff00 0.5px,#12ff00 12.5px,#0f0 14.5px,#00ff12 16.5px,#00ff3a 24.5px,#00ff56 28.5px,#0f9 35.5px,#00fff7 42.5px,#00f8ff 43.5px,#00ceff 47.5px,#0bf 53.5px,#00b0ff 61.5px,#00a6ff 87.5px)"></i><i style="left:10px;background:linear-gradient(#5bff00 0.5px,#3fff00 12.5px,#07ff00 15.5px,#00ff0f 18.5px,#00ff45 26.5px,#00ff85 33.5px,#00ffb0 37.5px,#00fff7 42.5px,#00f9ff 43.5px,#00cfff 47.5px,#00bdff 53.5px,#00b2ff 61.5px,#00a7ff 87.5px)"></i><i style="left:12px;background:linear-gradient(#5bff00 0.5px,#3fff00 12.5px,#07ff00 15.5px,#00ff0e 18.5px,#00ff3d 25.5px,#00ff68 30.5px,#00ffa5 36.5px,#00fcff 43.5px,#00d6ff 47.5px,#00c7ff 52.5px,#00bcff 61.5px,#00b2ff 87.5px)"></i><i style="left:14px;background:linear-gradient(#2fff00 0.5px,#13ff00 12.5px,#01ff00 14.5px,#00ff39 24.5px,#00ff7d 32.5px,#00fffc 43.5px,#00e1ff 47.5px,#00d8ff 51.5px,#00c5ff 87.5px)"></i><i style="left:16px;background:linear-gradient(#0eff00 0.5px,#00ff01 7.5px,#00ff42 25.5px,#00ff73 31.5px,#00fffe 44.5px,#00eaff 47.5px,#00e3ff 50.5px,#00d3ff 87.5px)"></i><i style="left:18px;background:linear-gradient(#01ff00 0.5px,#00ff1f 13.5px,#00ff49 26.5px,#00ff68 30.5px,#00ffd7 40.5px,#00fbff 45.5px,#00e6ff 47.5px,#00deff 50.5px,#00cfff 87.5px)"></i><i style="left:20px;background:linear-gradient(#00ff01 0.5px,#00ff49 26.5px,#00ff6e 31.5px,#00ffcb 39.5px,#00fcff 45.5px,#00e0ff 47.5px,#00d4ff 51.5px,#00c4ff 87.5px)"></i><i style="left:22px;background:linear-gradient(#00ff01 0.5px,#00ff39 22.5px,#00ff4d 27.5px,#00ff6b 31.5px,#00ffca 39.5px,#00fffc 45.5px,#00e7ff 48.5px,#00dbff 53.5px,#0cf 87.5px)"></i><i style="left:24px;background:linear-gradient(#00ff01 0.5px,#00ff4c 27.5px,#00ff72 32.5px,#00ffd2 40.5px,#00fffc 46.5px,#00e6ff 55.5px,#00d7ff 87.5px)"></i><i style="left:26px;background:linear-gradient(#00ff02 0.5px,#00ff4c 27.5px,#00ff71 32.5px,#00ffd3 40.5px,#00fffe 47.5px,#00e9ff 55.5px,#00daff 87.5px)"></i><i style="left:28px;background:linear-gradient(#00ff04 0.5px,#00ff49 26.5px,#00ff6f 31.5px,#00ffdb 40.5px,#0ff 46.5px,#00e8ff 54.5px,#00dbff 87.5px)"></i><i style="left:30px;background:linear-gradient(#00ff06 0.5px,#00ff3b 22.5px,#00ff4b 26.5px,#00ff79 31.5px,#00ffdc 39.5px,#00fcff 44.5px,#00e2ff 53.5px,#00d8ff 87.5px)"></i><i style="left:32px;background:linear-gradient(#00ff09 0.5px,#00ff47 25.5px,#00ff6a 29.5px,#00ffdc 38.5px,#0ff 42.5px,#0df 45.5px,#00d2ff 50.5px,#00caff 87.5px)"></i><i style="left:34px;background:linear-gradient(#00ff0c 0.5px,#00ff39 21.5px,#00ff48 25.5px,#00ff64 28.5px,#00ffdc 37.5px,#00feff 41.5px,#00c8ff 45.5px,#00c3ff 47.5px,#00bfff 87.5px)"></i><i style="left:36px;background:linear-gradient(#00ff0e 0.5px,#00ff3b 21.5px,#00ff4b 25.5px,#00ff5d 27.5px,#00ffc3 34.5px,#00fffd 39.5px,#00e9ff 42.5px,#00caff 45.5px,#00c6ff 47.5px,#00d0ff 63.5px,#00cfff 87.5px)"></i><i style="left:38px;background:linear-gradient(#00ff0f 0.5px,#00ff41 21.5px,#00ff52 25.5px,#00ff74 28.5px,#00ffe0 35.5px,#00faff 38.5px,#00d3ff 43.5px,#00c6ff 47.5px,#00e4ff 64.5px,#00e3ff 87.5px)"></i><i style="left:40px;background:linear-gradient(#00ff10 0.5px,#00ff54 24.5px,#00ff70 27.5px,#00fffe 36.5px,#00cdff 41.5px,#00bdff 44.5px,#00b8ff 47.5px,#00bfff 51.5px,#0ef 64.5px,#00ecff 87.5px)"></i><i style="left:42px;background:linear-gradient(#00ff10 0.5px,#00ff5b 24.5px,#00ff6b 26.5px,#00ff86 28.5px,#00fffe 35.5px,#00c5ff 40.5px,#00b2ff 43.5px,#0af 46.5px,#00b3ff 51.5px,#00e4ff 60.5px,#00f2ff 64.5px,#00efff 87.5px)"></i><i style="left:44px;background:linear-gradient(#00ff10 0.5px,#00ff5c 24.5px,#00ff79 27.5px,#00fdff 35.5px,#00c1ff 40.5px,#00aeff 43.5px,#00a6ff 46.5px,#00b0ff 51.5px,#00e4ff 60.5px,#00f3ff 64.5px,#00f0ff 87.5px)"></i><i style="left:46px;background:linear-gradient(#00ff12 0.5px,#00ff4d 21.5px,#00ff5f 25.5px,#00ff80 28.5px,#0ff 36.5px,#00caff 41.5px,#0bf 44.5px,#00b6ff 47.5px,#00c2ff 52.5px,#00f9ff 64.5px,#00f4ff 87.5px)"></i><i style="left:48px;background:linear-gradient(#00ff16 0.5px,#00ff45 22.5px,#0f5 26.5px,#00ff83 31.5px,#00ffe9 39.5px,#0ff 42.5px,#00f0ff 49.5px,#0ff 57.5px,#00fff1 65.5px,#00fff8 87.5px)"></i><i style="left:50px;background:linear-gradient(#00ff1b 0.5px,#00ff3c 23.5px,#00ff4b 29.5px,#0f6 33.5px,#00ffb9 40.5px,#00ffd1 46.5px,#00ffdc 53.5px,#00ffe7 87.5px)"></i><i style="left:52px;background:linear-gradient(#00ff1c 0.5px,#00ff45 30.5px,#00ff57 33.5px,#00ffa9 40.5px,#00ffb9 43.5px,#00ffc9 49.5px,#00ffd5 58.5px,#00ffe3 87.5px)"></i><i style="left:54px;background:linear-gradient(#00ff1c 0.5px,#00ff4a 30.5px,#00ff5d 33.5px,#00ffb3 40.5px,#00ffd0 47.5px,#00ffde 56.5px,#0fe 87.5px)"></i><i style="left:56px;background:linear-gradient(#00ff1e 0.5px,#0f6 31.5px,#00ff82 34.5px,#00ffed 41.5px,#00fffd 44.5px,#00efff 54.5px,#00e1ff 87.5px)"></i><i style="left:58px;background:linear-gradient(#00ff1e 0.5px,#00ff78 31.5px,#00ffa3 35.5px,#00ffd3 38.5px,#00fcff 40.5px,#00e8ff 41.5px,#00e0ff 42.5px,#00c8ff 48.5px,#00b8ff 87.5px)"></i><i style="left:60px;background:linear-gradient(#00ff1e 0.5px,#00ff6b 31.5px,#00ff8d 35.5px,#00ffe3 41.5px,#00feff 46.5px,#00efff 58.5px,#00e6ff 87.5px)"></i><i style="left:62px;background:linear-gradient(#00ff1c 0.5px,#00ff58 31.5px,#00ff68 34.5px,#00ffb7 43.5px,#00ffcd 48.5px,#00ffdc 60.5px,#00ffe5 87.5px)"></i><i style="left:64px;background:linear-gradient(#00ff1a 0.5px,#00ff52 31.5px,#00ff61 34.5px,#00ffaf 44.5px,#00ffc2 49.5px,#00ffd0 60.5px,#00ffd9 87.5px)"></i><i style="left:66px;background:linear-gradient(#00ff18 0.5px,#00ff52 31.5px,#00ff61 34.5px,#00ffaf 44.5px,#00ffc1 49.5px,#00ffd0 60.5px,#00ffd8 87.5px)"></i><i style="left:68px;background:linear-gradient(#00ff15 0.5px,#00ff51 31.5px,#00ff61 34.5px,#00ffa8 43.5px,#00ffbf 48.5px,#00ffd0 60.5px,#00ffd8 87.5px)"></i><i style="left:70px;background:linear-gradient(#00ff13 0.5px,#00ff51 31.5px,#00ff61 34.5px,#00ffa9 43.5px,#00ffc0 48.5px,#00ffd0 60.5px,#00ffd8 87.5px)"></i><i style="left:72px;background:linear-gradient(#00ff08 0.5px,#00ff1f 12.5px,#00ff50 30.5px,#0f6 34.5px,#00ffb3 43.5px,#00ffca 48.5px,#00ffd7 59.5px,#00ffde 87.5px)"></i><i style="left:74px;background:linear-gradient(#28ff00 0.5px,#18ff00 11.5px,#00ff01 16.5px,#00ff26 21.5px,#00ff59 30.5px,#00ffdb 41.5px,#00fdff 46.5px,#00f6ff 51.5px,#0ff 66.5px,#00fffc 87.5px)"></i><i style="left:76px;background:linear-gradient(#7bff00 0.5px,#7f0 9.5px,#6dff00 12.5px,#50ff00 15.5px,#05ff00 20.5px,#00ff5b 29.5px,#00ff7d 31.5px,#00fffd 37.5px,#0cf 40.5px,#00a4ff 43.5px,#08f 47.5px,#008cff 51.5px,#00c7ff 71.5px,#00caff 87.5px)"></i><i style="left:78px;background:linear-gradient(#97ff00 0.5px,#95ff00 9.5px,#8cff00 12.5px,#6bff00 15.5px,#02ff00 21.5px,#00ff5f 29.5px,#00ff86 31.5px,#00fbff 36.5px,#00baff 39.5px,#08f 42.5px,#06f 45.5px,#005cff 47.5px,#0060ff 50.5px,#00b2ff 71.5px,#00b7ff 87.5px)"></i><i style="left:80px;background:linear-gradient(#98ff00 0.5px,#97ff00 9.5px,#8eff00 12.5px,#6fff00 15.5px,#03ff00 21.5px,#00ff5f 29.5px,#00ff86 31.5px,#00ffec 35.5px,#00f9ff 36.5px,#00b5ff 39.5px,#0080ff 42.5px,#005bff 45.5px,#0051ff 47.5px,#0056ff 50.5px,#008aff 60.5px,#00afff 70.5px,#00b6ff 87.5px)"></i><i style="left:82px;background:linear-gradient(#98ff00 0.5px,#96ff00 10.5px,#89ff00 13.5px,#71ff00 15.5px,#04ff00 21.5px,#00ff5f 29.5px,#00ff86 31.5px,#00ffed 35.5px,#00f7ff 36.5px,#00b1ff 39.5px,#0079ff 42.5px,#0053ff 45.5px,#0048ff 47.5px,#004dff 50.5px,#0089ff 60.5px,#00afff 70.5px,#00b6ff 87.5px)"></i><i style="left:84px;background:linear-gradient(#97ff00 0.5px,#95ff00 10.5px,#89ff00 13.5px,#72ff00 15.5px,#04ff00 21.5px,#00ff5f 29.5px,#00ff86 31.5px,#00ffed 35.5px,#00f7ff 36.5px,#00b0ff 39.5px,#07f 42.5px,#004fff 45.5px,#0045ff 47.5px,#004aff 50.5px,#008aff 60.5px,#00acff 69.5px,#00b5ff 74.5px,#00b6ff 87.5px)"></i><i style="left:86px;background:linear-gradient(#95ff00 0.5px,#91ff00 10.5px,#84ff00 13.5px,#6eff00 15.5px,#03ff00 21.5px,#00ff5f 29.5px,#00ff86 31.5px,#00faff 36.5px,#00b6ff 39.5px,#0080ff 42.5px,#005bff 45.5px,#0050ff 47.5px,#0054ff 50.5px,#008bff 60.5px,#00adff 70.5px,#00b8ff 87.5px)"></i><i style="left:88px;background:linear-gradient(#92ff00 0.5px,#8bff00 10.5px,#7eff00 13.5px,#67ff00 15.5px,#02ff00 21.5px,#00ff5e 29.5px,#00ff85 31.5px,#00feff 36.5px,#00bfff 39.5px,#008dff 42.5px,#006bff 45.5px,#0061ff 47.5px,#0067ff 51.5px,#008eff 60.5px,#00abff 70.5px,#00baff 87.5px)"></i><i style="left:90px;background:linear-gradient(#90ff00 0.5px,#85ff00 10.5px,#7f0 13.5px,#61ff00 15.5px,#01ff00 21.5px,#00ff5e 29.5px,#00ff84 31.5px,#00fffc 36.5px,#00edff 37.5px,#00b7ff 40.5px,#008fff 43.5px,#0076ff 46.5px,#0072ff 48.5px,#00a8ff 70.5px,#00bcff 87.5px)"></i><i style="left:92px;background:linear-gradient(#8dff00 0.5px,#80ff00 9.5px,#70ff00 13.5px,#5bff00 15.5px,#0f0 21.5px,#00ff5e 29.5px,#00ff84 31.5px,#00fff7 36.5px,#00f3ff 37.5px,#00c2ff 40.5px,#009eff 43.5px,#08f 46.5px,#0083ff 48.5px,#00beff 87.5px)"></i><i style="left:94px;background:linear-gradient(#8f0 0.5px,#6eff00 12.5px,#53ff00 15.5px,#00ff01 21.5px,#00ff60 29.5px,#00fcff 37.5px,#00d0ff 40.5px,#00b1ff 43.5px,#09f 48.5px,#009eff 59.5px,#00c0ff 87.5px)"></i><i style="left:96px;background:linear-gradient(#82ff00 0.5px,#64ff00 12.5px,#4bff00 15.5px,#00ff03 21.5px,#00ff63 29.5px,#00ffe6 36.5px,#00f9ff 38.5px,#00c6ff 43.5px,#00b1ff 48.5px,#00afff 60.5px,#00c1ff 87.5px)"></i><i style="left:98px;background:linear-gradient(#7cff00 0.5px,#5aff00 12.5px,#43ff00 15.5px,#00ff06 21.5px,#00ff67 29.5px,#00ffdc 36.5px,#00fcff 39.5px,#00d7ff 44.5px,#00c8ff 49.5px,#00bfff 61.5px,#00c2ff 87.5px)"></i><i style="left:100px;background:linear-gradient(#76ff00 0.5px,#51ff00 12.5px,#3cff00 15.5px,#04ff00 20.5px,#00ff6a 29.5px,#00ffd5 36.5px,#00fffe 40.5px,#00e1ff 46.5px,#00cfff 58.5px,#00c2ff 87.5px)"></i><i style="left:102px;background:linear-gradient(#73ff00 0.5px,#4cff00 12.5px,#38ff00 15.5px,#03ff00 20.5px,#00ff6c 29.5px,#00ffd6 36.5px,#0ff 40.5px,#00e7ff 44.5px,#00daff 49.5px,#00cdff 61.5px,#00c2ff 87.5px)"></i><i style="left:104px;background:linear-gradient(#74ff00 0.5px,#4dff00 12.5px,#38ff00 15.5px,#03ff00 20.5px,#00ff60 28.5px,#00ffdf 36.5px,#00fff9 38.5px,#00faff 39.5px,#00d3ff 44.5px,#00c7ff 48.5px,#00c0ff 87.5px)"></i><i style="left:106px;background:linear-gradient(#7bff00 0.5px,#56ff00 12.5px,#3fff00 15.5px,#05ff00 20.5px,#00ff6f 29.5px,#00ffea 36.5px,#00fffa 37.5px,#00f6ff 38.5px,#00c3ff 43.5px,#00b0ff 48.5px,#0bf 67.5px,#00b7ff 87.5px)"></i><i style="left:108px;background:linear-gradient(#89ff00 0.5px,#7dff00 6.5px,#65ff00 12.5px,#4bff00 15.5px,#07ff00 20.5px,#00ff06 21.5px,#00ff6f 29.5px,#00fff3 36.5px,#00f9ff 37.5px,#00d8ff 39.5px,#00b7ff 42.5px,#009dff 47.5px,#009cff 52.5px,#00b6ff 67.5px,#00abff 73.5px,#00a5ff 87.5px)"></i><i style="left:110px;background:linear-gradient(#94ff00 0.5px,#8bff00 6.5px,#73ff00 12.5px,#5f0 15.5px,#00ff05 21.5px,#00ff70 29.5px,#00ffa5 32.5px,#00fff9 36.5px,#00f0ff 37.5px,#00b2ff 41.5px,#009bff 44.5px,#0090ff 47.5px,#0090ff 52.5px,#00b4ff 67.5px,#00b1ff 70.5px,#009aff 73.5px,#008eff 87.5px)"></i><i style="left:112px;background:linear-gradient(#97ff00 0.5px,#8fff00 6.5px,#7f0 12.5px,#58ff00 15.5px,#00ff04 21.5px,#00ff70 29.5px,#00ffa5 32.5px,#00fffa 36.5px,#00f0ff 37.5px,#00b3ff 41.5px,#0094ff 46.5px,#0092ff 51.5px,#00afff 63.5px,#00b3ff 68.5px,#00b0ff 70.5px,#0092ff 73.5px,#0087ff 87.5px)"></i><i style="left:114px;background:linear-gradient(#94ff00 0.5px,#8cff00 6.5px,#75ff00 12.5px,#57ff00 15.5px,#00ff04 21.5px,#00ff70 29.5px,#00fff8 36.5px,#00f3ff 37.5px,#00b9ff 41.5px,#009dff 46.5px,#009cff 50.5px,#00b5ff 68.5px,#00b3ff 70.5px,#009dff 73.5px,#0096ff 87.5px)"></i><i style="left:116px;background:linear-gradient(#8aff00 0.5px,#81ff00 6.5px,#6dff00 12.5px,#51ff00 15.5px,#00ff05 21.5px,#00ff70 29.5px,#00fff4 36.5px,#00f8ff 37.5px,#00c5ff 41.5px,#00acff 46.5px,#00baff 67.5px,#00b0ff 73.5px,#00abff 87.5px)"></i><i style="left:118px;background:linear-gradient(#7eff00 0.5px,#65ff00 12.5px,#4cff00 15.5px,#00ff06 21.5px,#00ff6f 29.5px,#00feff 37.5px,#00d2ff 41.5px,#0bf 47.5px,#00c0ff 67.5px,#0bf 87.5px)"></i><i style="left:120px;background:linear-gradient(#7cff00 0.5px,#63ff00 12.5px,#4bff00 15.5px,#00ff06 21.5px,#00ff6d 29.5px,#00ffe8 36.5px,#00faff 38.5px,#00d9ff 42.5px,#00caff 47.5px,#00c5ff 87.5px)"></i><i style="left:122px;background:linear-gradient(#84ff00 0.5px,#79ff00 7.5px,#68ff00 12.5px,#4eff00 15.5px,#00ff05 21.5px,#00ff69 29.5px,#00ffde 36.5px,#00fcff 39.5px,#00e3ff 43.5px,#00d8ff 47.5px,#00cdff 87.5px)"></i><i style="left:124px;background:linear-gradient(#8dff00 0.5px,#85ff00 6.5px,#6fff00 12.5px,#53ff00 15.5px,#00ff04 21.5px,#00ff72 30.5px,#00ffe1 37.5px,#00fffe 40.5px,#00ecff 44.5px,#00e5ff 48.5px,#00e2ff 67.5px,#00d4ff 87.5px)"></i><i style="left:126px;background:linear-gradient(#91ff00 0.5px,#89ff00 6.5px,#72ff00 12.5px,#5f0 15.5px,#00ff03 21.5px,#00ff6f 30.5px,#00ffdb 37.5px,#0ff 41.5px,#00e9ff 48.5px,#00e7ff 67.5px,#00d7ff 87.5px)"></i><i style="left:128px;background:linear-gradient(#86ff00 0.5px,#7bff00 7.5px,#6aff00 12.5px,#4fff00 15.5px,#00ff04 21.5px,#00ff71 30.5px,#00ffd7 36.5px,#0ff 39.5px,#00e3ff 43.5px,#00d5ff 48.5px,#00cfff 87.5px)"></i><i style="left:130px;background:linear-gradient(#76ff00 0.5px,#5eff00 12.5px,#47ff00 15.5px,#00ff06 21.5px,#00ff76 30.5px,#00ffe5 36.5px,#00f9ff 38.5px,#00e1ff 40.5px,#00c9ff 43.5px,#00baff 48.5px,#00c4ff 87.5px)"></i><i style="left:132px;background:linear-gradient(#6bff00 0.5px,#5f0 12.5px,#40ff00 15.5px,#06ff00 20.5px,#00ff6b 29.5px,#00fcff 37.5px,#00dcff 39.5px,#0bf 42.5px,#00a8ff 45.5px,#00a2ff 48.5px,#00a5ff 55.5px,#00baff 67.5px,#00c2ff 87.5px)"></i><i style="left:134px;background:linear-gradient(#63ff00 0.5px,#4dff00 12.5px,#3aff00 15.5px,#04ff00 20.5px,#00ff6e 29.5px,#00ffa2 32.5px,#00fff7 36.5px,#00f3ff 37.5px,#00c0ff 40.5px,#00a9ff 42.5px,#0095ff 45.5px,#008dff 48.5px,#0093ff 55.5px,#00b7ff 67.5px,#00c1ff 87.5px)"></i><i style="left:136px;background:linear-gradient(#5eff00 0.5px,#49ff00 12.5px,#37ff00 15.5px,#03ff00 20.5px,#00ff6f 29.5px,#00ffa5 32.5px,#00fffb 36.5px,#0ef 37.5px,#00b8ff 40.5px,#00a0ff 42.5px,#008aff 45.5px,#0082ff 48.5px,#008aff 55.5px,#00b6ff 67.5px,#00c1ff 87.5px)"></i><i style="left:138px;background:linear-gradient(#5fff00 0.5px,#49ff00 12.5px,#37ff00 15.5px,#03ff00 20.5px,#00ff70 29.5px,#00ffa5 32.5px,#00fffb 36.5px,#0ef 37.5px,#00b9ff 40.5px,#00a1ff 42.5px,#008bff 45.5px,#0083ff 48.5px,#008bff 55.5px,#00b6ff 67.5px,#00c1ff 87.5px)"></i><i style="left:140px;background:linear-gradient(#64ff00 0.5px,#4eff00 12.5px,#3bff00 15.5px,#04ff00 20.5px,#00ff70 29.5px,#00fff7 36.5px,#00f4ff 37.5px,#00d2ff 39.5px,#00afff 42.5px,#009cff 45.5px,#0094ff 48.5px,#09f 55.5px,#00b9ff 67.5px,#00c1ff 87.5px)"></i><i style="left:142px;background:linear-gradient(#6eff00 0.5px,#58ff00 12.5px,#42ff00 15.5px,#06ff00 20.5px,#00ff07 21.5px,#00ff70 29.5px,#00fcff 37.5px,#00e1ff 39.5px,#00c5ff 42.5px,#00adff 48.5px,#00beff 67.5px,#00c2ff 87.5px)"></i><i style="left:144px;background:linear-gradient(#79ff00 0.5px,#61ff00 12.5px,#49ff00 15.5px,#07ff00 20.5px,#00ff06 21.5px,#00ff70 29.5px,#0ff 37.5px,#00cdff 42.5px,#00b5ff 48.5px,#00c1ff 67.5px,#00c0ff 87.5px)"></i><i style="left:146px;background:linear-gradient(#83ff00 0.5px,#79ff00 7.5px,#68ff00 12.5px,#4eff00 15.5px,#00ff06 21.5px,#00ff70 29.5px,#00fcff 37.5px,#00e0ff 39.5px,#00c4ff 42.5px,#00acff 47.5px,#00aeff 55.5px,#00c2ff 68.5px,#00b9ff 87.5px)"></i><i style="left:148px;background:linear-gradient(#8dff00 0.5px,#85ff00 6.5px,#6fff00 12.5px,#53ff00 15.5px,#00ff05 21.5px,#00ff70 29.5px,#00fff5 36.5px,#00f7ff 37.5px,#00d8ff 39.5px,#00b7ff 42.5px,#009dff 47.5px,#00a1ff 55.5px,#00c2ff 68.5px,#00c2ff 72.5px,#00adff 76.5px,#00adff 87.5px)"></i><i style="left:150px;background:linear-gradient(#91ff00 0.5px,#89ff00 6.5px,#72ff00 12.5px,#5f0 15.5px,#00ff05 21.5px,#00ff6f 29.5px,#00fff4 36.5px,#00f8ff 37.5px,#00d8ff 39.5px,#00b6ff 42.5px,#009bff 47.5px,#00a0ff 55.5px,#00bfff 64.5px,#00c6ff 68.5px,#00c6ff 72.5px,#00afff 76.5px,#00adff 87.5px)"></i><i style="left:152px;background:linear-gradient(#86ff00 0.5px,#7bff00 7.5px,#6aff00 12.5px,#4fff00 15.5px,#00ff05 21.5px,#00ff6b 29.5px,#00ffe6 36.5px,#00faff 38.5px,#00d4ff 42.5px,#00bfff 47.5px,#00c0ff 55.5px,#00d4ff 68.5px,#0bf 87.5px)"></i><i style="left:154px;background:linear-gradient(#78ff00 0.5px,#60ff00 12.5px,#49ff00 15.5px,#00ff05 21.5px,#00ff76 30.5px,#00ffe6 37.5px,#00fcff 40.5px,#00e3ff 47.5px,#00deff 70.5px,#00c3ff 87.5px)"></i><i style="left:156px;background:linear-gradient(#75ff00 0.5px,#5eff00 12.5px,#47ff00 15.5px,#00ff06 21.5px,#00ff67 29.5px,#00ffdb 36.5px,#00fffc 39.5px,#00e6ff 44.5px,#0df 48.5px,#00d3ff 71.5px,#00c3ff 87.5px)"></i><i style="left:158px;background:linear-gradient(#74ff00 0.5px,#5eff00 12.5px,#47ff00 15.5px,#00ff06 21.5px,#00ff67 29.5px,#00ffe0 36.5px,#00fffb 38.5px,#00f9ff 39.5px,#00deff 43.5px,#00ceff 48.5px,#00c2ff 87.5px)"></i><i style="left:160px;background:linear-gradient(#74ff00 0.5px,#5eff00 12.5px,#47ff00 15.5px,#00ff06 21.5px,#00ff76 30.5px,#00ffe2 36.5px,#00fffd 38.5px,#00dbff 43.5px,#0cf 48.5px,#00c2ff 87.5px)"></i><i style="left:162px;background:linear-gradient(#75ff00 0.5px,#5eff00 12.5px,#47ff00 15.5px,#00ff06 21.5px,#00ff76 30.5px,#00ffe2 36.5px,#00fffd 38.5px,#0df 43.5px,#00cfff 48.5px,#00c5ff 87.5px)"></i><i style="left:164px;background:linear-gradient(#78ff00 0.5px,#61ff00 12.5px,#49ff00 15.5px,#00ff05 21.5px,#00ff69 29.5px,#00ffe4 36.5px,#0ff 38.5px,#00f5ff 39.5px,#00f7ff 42.5px,#00e6ff 48.5px,#00e5ff 70.5px,#00daff 87.5px)"></i><i style="left:166px;background:linear-gradient(#7dff00 0.5px,#6f0 12.5px,#4dff00 15.5px,#00ff05 21.5px,#00ff6a 29.5px,#00ffe6 36.5px,#00fcff 38.5px,#00f1ff 39.5px,#00f2ff 42.5px,#00e1ff 48.5px,#00e2ff 69.5px,#00cdff 73.5px,#00c9ff 87.5px)"></i><i style="left:168px;background:linear-gradient(#83ff00 0.5px,#6bff00 12.5px,#51ff00 15.5px,#00ff05 21.5px,#00ff6c 29.5px,#00ffe9 36.5px,#00f9ff 38.5px,#00d7ff 42.5px,#00c4ff 47.5px,#00c5ff 69.5px,#00c4ff 70.5px,#00a9ff 73.5px,#00a8ff 87.5px)"></i><i style="left:170px;background:linear-gradient(#8f0 0.5px,#70ff00 12.5px,#5f0 15.5px,#00ff04 21.5px,#00ff6e 29.5px,#00ffeb 36.5px,#00fffa 37.5px,#00f6ff 38.5px,#00d1ff 42.5px,#00bdff 47.5px,#00bfff 69.5px,#00b6ff 73.5px,#00b7ff 87.5px)"></i><i style="left:172px;background:linear-gradient(#8cff00 0.5px,#81ff00 8.5px,#73ff00 12.5px,#56ff00 15.5px,#00ff04 21.5px,#00ff6f 29.5px,#00fffc 37.5px,#00f5ff 38.5px,#00cdff 43.5px,#00beff 48.5px,#00c3ff 87.5px)"></i><i style="left:174px;background:linear-gradient(#8fff00 0.5px,#84ff00 8.5px,#73ff00 12.5px,#5f0 15.5px,#00ff04 21.5px,#00ff70 29.5px,#00fffc 37.5px,#00f5ff 38.5px,#00e9ff 39.5px,#00eaff 42.5px,#00d5ff 49.5px,#00daff 87.5px)"></i><i style="left:176px;background:linear-gradient(#91ff00 0.5px,#8aff00 7.5px,#7bff00 11.5px,#60ff00 14.5px,#00ff04 21.5px,#00ff71 29.5px,#00fffb 37.5px,#00f5ff 38.5px,#00cdff 43.5px,#00bcff 48.5px,#00bdff 87.5px)"></i><i style="left:178px;background:linear-gradient(#93ff00 0.5px,#8dff00 7.5px,#7cff00 11.5px,#5eff00 14.5px,#00ff05 21.5px,#00ff71 29.5px,#00ffec 36.5px,#00fffb 37.5px,#00f6ff 38.5px,#00cbff 43.5px,#00b9ff 48.5px,#00b6ff 87.5px)"></i><i style="left:180px;background:linear-gradient(#95ff00 0.5px,#90ff00 7.5px,#84ff00 10.5px,#68ff00 13.5px,#00ff05 21.5px,#00ff72 29.5px,#00ffec 36.5px,#00fffb 37.5px,#00f6ff 38.5px,#00e6ff 40.5px,#00c9ff 48.5px,#00c2ff 87.5px)"></i><i style="left:182px;background:linear-gradient(#96ff00 0.5px,#92ff00 7.5px,#85ff00 10.5px,#67ff00 13.5px,#00ff05 21.5px,#00ff72 29.5px,#00ffec 36.5px,#00f7ff 38.5px,#00ecff 39.5px,#00f1ff 42.5px,#00deff 46.5px,#00d9ff 49.5px,#00d1ff 87.5px)"></i><i style="left:184px;background:linear-gradient(#96ff00 0.5px,#90ff00 7.5px,#82ff00 10.5px,#00ff05 21.5px,#00ff72 29.5px,#00ffeb 36.5px,#00f8ff 38.5px,#00edff 39.5px,#00d0ff 45.5px,#00c8ff 48.5px,#00bfff 87.5px)"></i><i style="left:186px;background:linear-gradient(#93ff00 0.5px,#8dff00 6.5px,#7aff00 10.5px,#00ff04 21.5px,#00ff62 28.5px,#00ffea 36.5px,#00f9ff 38.5px,#00c6ff 44.5px,#00b9ff 48.5px,#00b1ff 87.5px)"></i><i style="left:188px;background:linear-gradient(#8fff00 0.5px,#86ff00 6.5px,#79ff00 9.5px,#61ff00 12.5px,#00ff04 21.5px,#00ff6f 29.5px,#00ffe9 36.5px,#00faff 38.5px,#00cbff 43.5px,#00b7ff 48.5px,#00b2ff 87.5px)"></i><i style="left:190px;background:linear-gradient(#8cff00 0.5px,#83ff00 5.5px,#72ff00 9.5px,#00ff04 21.5px,#00ff6e 29.5px,#00ffe8 36.5px,#00fbff 38.5px,#00ceff 44.5px,#00c1ff 48.5px,#00bfff 87.5px)"></i><i style="left:192px;background:linear-gradient(#8bff00 0.5px,#80ff00 5.5px,#6eff00 9.5px,#00ff05 21.5px,#00ff60 28.5px,#00ffe8 36.5px,#00faff 38.5px,#0ef 39.5px,#00f2ff 42.5px,#0df 46.5px,#00d9ff 49.5px,#00d9ff 87.5px)"></i><i style="left:194px;background:linear-gradient(#8aff00 0.5px,#7fff00 5.5px,#6dff00 9.5px,#05ff00 20.5px,#00ff07 21.5px,#00ff62 28.5px,#00ffeb 36.5px,#00f7ff 38.5px,#00c9ff 44.5px,#00bdff 48.5px,#00c0ff 87.5px)"></i><i style="left:196px;background:linear-gradient(#8aff00 0.5px,#7fff00 5.5px,#6dff00 9.5px,#03ff00 20.5px,#00ff65 28.5px,#00fffc 37.5px,#00c2ff 43.5px,#00b1ff 47.5px,#00b7ff 87.5px)"></i><i style="left:198px;background:linear-gradient(#8aff00 0.5px,#7fff00 5.5px,#6dff00 9.5px,#03ff00 20.5px,#00ff64 28.5px,#00ffec 36.5px,#00fffb 37.5px,#00f5ff 38.5px,#00c2ff 43.5px,#00b2ff 47.5px,#00bcff 87.5px)"></i><i style="left:200px;background:linear-gradient(#8aff00 0.5px,#7fff00 5.5px,#6dff00 9.5px,#00ff04 21.5px,#00ff69 29.5px,#00fffc 38.5px,#00cfff 43.5px,#00bfff 47.5px,#00caff 50.5px,#00cdff 87.5px)"></i><i style="left:202px;background:linear-gradient(#8aff00 0.5px,#6eff00 9.5px,#03ff00 21.5px,#00ff5c 29.5px,#00ffec 38.5px,#00f9ff 40.5px,#00dfff 43.5px,#00d1ff 47.5px,#00e6ff 50.5px,#00e1ff 87.5px)"></i><i style="left:204px;background:linear-gradient(#8cff00 0.5px,#71ff00 9.5px,#00ff01 22.5px,#00ff6b 31.5px,#00ffde 38.5px,#00fbff 41.5px,#00e6ff 44.5px,#00dcff 47.5px,#00efff 50.5px,#00e4ff 87.5px)"></i><i style="left:206px;background:linear-gradient(#90ff00 0.5px,#87ff00 6.5px,#76ff00 10.5px,#02ff00 22.5px,#00ff65 31.5px,#00ffd8 38.5px,#0ff 41.5px,#00d7ff 47.5px,#00dbff 50.5px,#00c9ff 87.5px)"></i><i style="left:208px;background:linear-gradient(#95ff00 0.5px,#8fff00 7.5px,#82ff00 10.5px,#5eff00 14.5px,#04ff00 22.5px,#00ff6f 32.5px,#00fffd 41.5px,#00d4ff 46.5px,#00c3ff 51.5px,#00abff 87.5px)"></i><i style="left:210px;background:linear-gradient(#97ff00 0.5px,#95ff00 7.5px,#85ff00 11.5px,#69ff00 14.5px,#06ff00 22.5px,#00ff05 23.5px,#00ff74 33.5px,#0ff 42.5px,#00cdff 47.5px,#00b6ff 52.5px,#00a5ff 61.5px,#0098ff 87.5px)"></i><i style="left:212px;background:linear-gradient(#98ff00 0.5px,#96ff00 8.5px,#87ff00 12.5px,#69ff00 15.5px,#00ff03 23.5px,#00ff73 34.5px,#00fffc 43.5px,#00f5ff 44.5px,#00bdff 50.5px,#00acff 57.5px,#09f 60.5px,#008dff 87.5px)"></i><i style="left:214px;background:linear-gradient(#98ff00 0.5px,#97ff00 8.5px,#8dff00 12.5px,#71ff00 15.5px,#00ff01 23.5px,#00ff72 35.5px,#00ff9c 38.5px,#0ff 44.5px,#00c0ff 50.5px,#00b0ff 53.5px,#0af 57.5px,#008eff 60.5px,#0084ff 87.5px)"></i><i style="left:216px;background:linear-gradient(#98ff00 0.5px,#96ff00 8.5px,#89ff00 12.5px,#6dff00 15.5px,#00ff01 23.5px,#00ff73 35.5px,#00feff 44.5px,#00c0ff 50.5px,#00b1ff 53.5px,#00acff 57.5px,#008aff 60.5px,#0082ff 87.5px)"></i><i style="left:218px;background:linear-gradient(#98ff00 0.5px,#97ff00 7.5px,#8aff00 11.5px,#70ff00 14.5px,#00ff03 23.5px,#00ff6e 34.5px,#00ff97 37.5px,#00ffeb 42.5px,#00f7ff 44.5px,#00bfff 50.5px,#00b4ff 53.5px,#00b0ff 57.5px,#008fff 60.5px,#0089ff 87.5px)"></i><i style="left:220px;background:linear-gradient(#97ff00 0.5px,#95ff00 7.5px,#8bff00 10.5px,#72ff00 13.5px,#00ff04 23.5px,#00ff72 34.5px,#0ff 43.5px,#00c6ff 49.5px,#00b9ff 52.5px,#00b5ff 57.5px,#009aff 60.5px,#0097ff 87.5px)"></i><i style="left:222px;background:linear-gradient(#95ff00 0.5px,#90ff00 7.5px,#83ff00 10.5px,#00ff05 23.5px,#00ff70 34.5px,#0fe 42.5px,#00f7ff 44.5px,#00daff 47.5px,#00c7ff 50.5px,#00bdff 57.5px,#00abff 60.5px,#00a8ff 87.5px)"></i><i style="left:224px;background:linear-gradient(#91ff00 0.5px,#8aff00 6.5px,#79ff00 10.5px,#00ff05 23.5px,#00ff75 35.5px,#00fffc 44.5px,#00d3ff 50.5px,#00beff 60.5px,#00b9ff 87.5px)"></i><i style="left:226px;background:linear-gradient(#8dff00 0.5px,#75ff00 9.5px,#00ff05 23.5px,#00ff76 36.5px,#00fffc 45.5px,#00e3ff 49.5px,#00d3ff 54.5px,#00caff 61.5px,#00c4ff 87.5px)"></i><i style="left:228px;background:linear-gradient(#8bff00 0.5px,#70ff00 9.5px,#00ff04 23.5px,#00ff6f 36.5px,#00ff97 39.5px,#00ffe9 44.5px,#00fdff 46.5px,#00e1ff 50.5px,#00d1ff 55.5px,#00c6ff 87.5px)"></i><i style="left:230px;background:linear-gradient(#8aff00 0.5px,#6eff00 9.5px,#00ff04 23.5px,#00ff78 37.5px,#00ffe7 44.5px,#00fdff 46.5px,#00d6ff 51.5px,#00c7ff 55.5px,#00beff 87.5px)"></i><i style="left:232px;background:linear-gradient(#8aff00 0.5px,#6eff00 9.5px,#00ff04 23.5px,#0f7 37.5px,#00ff92 39.5px,#00ffe7 44.5px,#00fcff 46.5px,#00cdff 51.5px,#00baff 55.5px,#00b4ff 87.5px)"></i><i style="left:234px;background:linear-gradient(#8aff00 0.5px,#6eff00 9.5px,#00ff04 23.5px,#00ff76 37.5px,#00ff91 39.5px,#00ffe6 44.5px,#00fbff 46.5px,#00c6ff 51.5px,#00b1ff 55.5px,#00adff 87.5px)"></i><i style="left:236px;background:linear-gradient(#8aff00 0.5px,#6eff00 9.5px,#00ff04 23.5px,#00ff76 37.5px,#00ff91 39.5px,#00ffe7 44.5px,#00faff 46.5px,#00c5ff 51.5px,#00b1ff 55.5px,#00aeff 87.5px)"></i><i style="left:238px;background:linear-gradient(#8aff00 0.5px,#6eff00 9.5px,#00ff04 23.5px,#0f7 37.5px,#00ff92 39.5px,#00ffe8 44.5px,#00faff 46.5px,#00c7ff 51.5px,#00b4ff 55.5px,#00b1ff 87.5px)"></i><i style="left:240px;background:linear-gradient(#8bff00 0.5px,#70ff00 9.5px,#00ff04 23.5px,#00ff78 37.5px,#00ffe9 44.5px,#00faff 46.5px,#00caff 51.5px,#00b8ff 55.5px,#00b5ff 87.5px)"></i><i style="left:242px;background:linear-gradient(#8dff00 0.5px,#75ff00 9.5px,#00ff04 23.5px,#00ff78 37.5px,#00ffe9 44.5px,#00fbff 46.5px,#00cfff 51.5px,#00bfff 55.5px,#00bdff 87.5px)"></i><i style="left:244px;background:linear-gradient(#91ff00 0.5px,#8aff00 6.5px,#79ff00 10.5px,#00ff03 23.5px,#00ff6e 36.5px,#00ff95 39.5px,#00ffe9 44.5px,#00fdff 46.5px,#00d7ff 51.5px,#00caff 55.5px,#00c8ff 87.5px)"></i><i style="left:246px;background:linear-gradient(#94ff00 0.5px,#8eff00 7.5px,#81ff00 10.5px,#00ff03 23.5px,#00ff6f 36.5px,#00ff96 39.5px,#00ffe9 44.5px,#00feff 46.5px,#00e2ff 50.5px,#00d2ff 55.5px,#00d1ff 87.5px)"></i><i style="left:248px;background:linear-gradient(#94ff00 0.5px,#8dff00 7.5px,#80ff00 10.5px,#00ff03 23.5px,#00ff70 36.5px,#00ff98 39.5px,#00ffeb 44.5px,#00fcff 46.5px,#00e0ff 50.5px,#00d1ff 55.5px,#00d0ff 87.5px)"></i><i style="left:250px;background:linear-gradient(#90ff00 0.5px,#87ff00 6.5px,#75ff00 10.5px,#00ff04 23.5px,#00ff72 36.5px,#00fffc 45.5px,#00d7ff 50.5px,#00c6ff 55.5px,#00c4ff 87.5px)"></i><i style="left:252px;background:linear-gradient(#8cff00 0.5px,#71ff00 9.5px,#00ff05 23.5px,#00ff75 36.5px,#00feff 45.5px,#00d0ff 50.5px,#00beff 54.5px,#00baff 87.5px)"></i><i style="left:254px;background:linear-gradient(#8aff00 0.5px,#6eff00 9.5px,#00ff05 23.5px,#00ff78 36.5px,#00ffe8 43.5px,#00fcff 45.5px,#00d2ff 50.5px,#00c2ff 54.5px,#0bf 87.5px)"></i><i style="left:256px;background:linear-gradient(#89ff00 0.5px,#6dff00 9.5px,#00ff05 23.5px,#00ff6e 35.5px,#00ff96 38.5px,#00ffea 43.5px,#00fcff 45.5px,#00d6ff 50.5px,#00c8ff 54.5px,#00bdff 87.5px)"></i><i style="left:258px;background:linear-gradient(#86ff00 0.5px,#6aff00 9.5px,#00ff05 23.5px,#00ff78 36.5px,#00ffe6 43.5px,#0ff 45.5px,#00d8ff 50.5px,#00c5ff 55.5px,#00b1ff 87.5px)"></i><i style="left:260px;background:linear-gradient(#7fff00 0.5px,#64ff00 9.5px,#00ff05 23.5px,#00ff72 36.5px,#00ff9a 39.5px,#00ffeb 44.5px,#00faff 46.5px,#00cfff 51.5px,#00bdff 55.5px,#00adff 72.5px,#0092ff 76.5px,#008cff 87.5px)"></i><i style="left:262px;background:linear-gradient(#78ff00 0.5px,#5dff00 9.5px,#00ff05 23.5px,#00ff76 37.5px,#00feff 46.5px,#00caff 51.5px,#00b3ff 55.5px,#009dff 72.5px,#0078ff 76.5px,#0071ff 87.5px)"></i><i style="left:264px;background:linear-gradient(#74ff00 0.5px,#5aff00 9.5px,#00ff05 23.5px,#00ff71 37.5px,#0f9 40.5px,#00fffd 46.5px,#00beff 52.5px,#00a8ff 56.5px,#0093ff 72.5px,#0083ff 76.5px,#007bff 87.5px)"></i><i style="left:266px;background:linear-gradient(#73ff00 0.5px,#59ff00 9.5px,#00ff05 23.5px,#00ff70 37.5px,#00ff98 40.5px,#00fffe 46.5px,#00baff 52.5px,#00a3ff 56.5px,#0080ff 87.5px)"></i><i style="left:268px;background:linear-gradient(#73ff00 0.5px,#59ff00 9.5px,#00ff05 23.5px,#00ff71 37.5px,#00ff98 40.5px,#0ff 46.5px,#00c1ff 51.5px,#00a0ff 56.5px,#008fff 67.5px,#007eff 87.5px)"></i><i style="left:270px;background:linear-gradient(#73ff00 0.5px,#59ff00 9.5px,#00ff05 23.5px,#00ff73 37.5px,#00ff8c 39.5px,#00fcff 46.5px,#00c0ff 51.5px,#00a1ff 56.5px,#007fff 87.5px)"></i><i style="left:272px;background:linear-gradient(#73ff00 0.5px,#59ff00 9.5px,#00ff05 23.5px,#00ff76 37.5px,#00ff91 39.5px,#00fff7 45.5px,#00f9ff 46.5px,#00bfff 51.5px,#00a3ff 56.5px,#0083ff 87.5px)"></i></div>
<div class="bk" style="left:503px;top:127px;width:180px;height:88px"><i style="left:0px;background:linear-gradient(#00ff9e 0.5px,#00ff62 9.5px,#00ff56 18.5px,#00ff65 22.5px,#00ffa3 30.5px,#00ffb7 32.5px,#00f9ff 37.5px,#00e2ff 39.5px,#00d4ff 42.5px,#00a3ff 74.5px,#008bff 78.5px,#002fff 84.5px,#000cff 87.5px)"></i><i style="left:2px;background:linear-gradient(#00ff62 0.5px,#00ff4a 9.5px,#00ff50 20.5px,#00ff97 31.5px,#00ffe4 39.5px,#00feff 48.5px,#00c2ff 76.5px,#00afff 79.5px,#0067ff 87.5px)"></i><i style="left:4px;background:linear-gradient(#00ff3b 0.5px,#00ff3d 11.5px,#00ff48 20.5px,#00ff78 29.5px,#00ffc3 40.5px,#00fffd 58.5px,#00daff 76.5px,#00afff 87.5px)"></i><i style="left:6px;background:linear-gradient(#00ff32 0.5px,#00ff46 20.5px,#00ff6c 28.5px,#00ffbe 41.5px,#00fffb 60.5px,#00c6ff 87.5px)"></i><i style="left:8px;background:linear-gradient(#00ff32 0.5px,#00ff49 21.5px,#00ff6f 29.5px,#0fb 41.5px,#00fff9 60.5px,#0ff 63.5px,#00cdff 87.5px)"></i><i style="left:10px;background:linear-gradient(#00ff31 0.5px,#00ff48 21.5px,#00ff6c 29.5px,#00ffb9 41.5px,#00fff7 60.5px,#0ff 64.5px,#00d3ff 87.5px)"></i><i style="left:12px;background:linear-gradient(#00ff2d 0.5px,#00ff48 21.5px,#00ff6b 29.5px,#00ffb8 41.5px,#00fff6 60.5px,#00feff 65.5px,#00d5ff 87.5px)"></i><i style="left:14px;background:linear-gradient(#00ff27 0.5px,#00ff48 21.5px,#00ff6b 29.5px,#00ffb8 41.5px,#00fff6 60.5px,#00feff 65.5px,#00d5ff 87.5px)"></i><i style="left:16px;background:linear-gradient(#00ff23 0.5px,#00ff48 21.5px,#00ff6c 29.5px,#00ffb9 41.5px,#00fff4 59.5px,#00feff 65.5px,#00d5ff 87.5px)"></i><i style="left:18px;background:linear-gradient(#0f2 0.5px,#00ff48 21.5px,#00ff6d 29.5px,#00ffb9 41.5px,#00fff4 59.5px,#0ff 64.5px,#00d5ff 87.5px)"></i><i style="left:20px;background:linear-gradient(#0f2 0.5px,#00ff48 21.5px,#00ff6f 29.5px,#00ffba 41.5px,#00fff5 59.5px,#0ff 64.5px,#00d4ff 87.5px)"></i><i style="left:22px;background:linear-gradient(#0f2 0.5px,#00ff45 20.5px,#00ff70 29.5px,#00ffbc 41.5px,#00fff6 59.5px,#00feff 64.5px,#00d4ff 87.5px)"></i><i style="left:24px;background:linear-gradient(#0f2 0.5px,#00ff45 20.5px,#00ff72 29.5px,#00ffb8 40.5px,#00fff6 59.5px,#00fdff 64.5px,#00d4ff 87.5px)"></i><i style="left:26px;background:linear-gradient(#0f2 0.5px,#00ff45 20.5px,#00ff6e 28.5px,#00ffb9 40.5px,#00fff7 59.5px,#0ff 63.5px,#00d3ff 87.5px)"></i><i style="left:28px;background:linear-gradient(#0f2 0.5px,#00ff45 20.5px,#00ff6f 28.5px,#0fb 40.5px,#00fff5 58.5px,#00feff 63.5px,#00d3ff 87.5px)"></i><i style="left:30px;background:linear-gradient(#00ff20 0.5px,#00ff43 19.5px,#0fb 39.5px,#00fff7 58.5px,#0ff 62.5px,#00d4ff 87.5px)"></i><i style="left:32px;background:linear-gradient(#00ff17 0.5px,#00ff48 19.5px,#00ffb7 35.5px,#00ffda 44.5px,#0ff 60.5px,#00d6ff 87.5px)"></i><i style="left:34px;background:linear-gradient(#00ff0d 0.5px,#00ff48 18.5px,#00ffb7 31.5px,#00ffce 35.5px,#00ffe0 40.5px,#0ff 57.5px,#00d9ff 87.5px)"></i><i style="left:36px;background:linear-gradient(#00ff05 0.5px,#00ff4c 18.5px,#00ff65 21.5px,#0fb 29.5px,#00ffd7 33.5px,#00ffe7 37.5px,#0ff 52.5px,#00dbff 87.5px)"></i><i style="left:38px;background:linear-gradient(#00ff03 0.5px,#00ff4d 18.5px,#00ff67 21.5px,#00ffc1 29.5px,#0fd 33.5px,#00ffe9 36.5px,#0ff 48.5px,#00dcff 87.5px)"></i><i style="left:40px;background:linear-gradient(#00ff03 0.5px,#00ff4d 18.5px,#00ff67 21.5px,#00ffc1 29.5px,#0fd 33.5px,#00ffed 37.5px,#0ff 47.5px,#00dbff 87.5px)"></i><i style="left:42px;background:linear-gradient(#00ff03 0.5px,#00ff4d 18.5px,#00ff67 21.5px,#00ffc1 29.5px,#0fd 33.5px,#00ffed 37.5px,#0ff 46.5px,#00dbff 87.5px)"></i><i style="left:44px;background:linear-gradient(#00ff03 0.5px,#00ff4d 18.5px,#00ff67 21.5px,#00ffc2 29.5px,#00ffde 33.5px,#0fe 37.5px,#00feff 46.5px,#00dbff 87.5px)"></i><i style="left:46px;background:linear-gradient(#00ff03 0.5px,#00ff4d 18.5px,#00ff68 21.5px,#00ffc4 29.5px,#00ffe0 33.5px,#00ffef 37.5px,#0ff 45.5px,#00dbff 87.5px)"></i><i style="left:48px;background:linear-gradient(#00ff03 0.5px,#00ff4d 18.5px,#00ff68 21.5px,#00ffc6 29.5px,#00ffe1 33.5px,#00fff0 37.5px,#0ff 44.5px,#00dbff 87.5px)"></i><i style="left:50px;background:linear-gradient(#00ff02 0.5px,#00ff4d 18.5px,#00ff69 21.5px,#00ffa9 26.5px,#00ffc8 29.5px,#0fd 32.5px,#0fe 36.5px,#00feff 44.5px,#00dbff 87.5px)"></i><i style="left:52px;background:linear-gradient(#00ff01 0.5px,#00ff4d 18.5px,#00ff69 21.5px,#0fa 26.5px,#00ffc9 29.5px,#00ffde 32.5px,#00ffef 36.5px,#0ff 43.5px,#00dbff 87.5px)"></i><i style="left:54px;background:linear-gradient(#01ff00 0.5px,#00ff10 5.5px,#00ff4d 18.5px,#00ff69 21.5px,#0fa 26.5px,#00ffc9 29.5px,#00ffe4 33.5px,#00fff3 37.5px,#00feff 43.5px,#00dbff 87.5px)"></i><i style="left:56px;background:linear-gradient(#03ff00 0.5px,#00ff09 4.5px,#00ff4c 18.5px,#00ff5e 20.5px,#0fa 26.5px,#00ffc9 29.5px,#00ffe4 33.5px,#00fff3 37.5px,#0ff 42.5px,#00f1ff 52.5px,#00dbff 87.5px)"></i><i style="left:58px;background:linear-gradient(#05ff00 0.5px,#00ff07 4.5px,#00ff4c 18.5px,#00ff5d 20.5px,#0fa 26.5px,#00ffc9 29.5px,#00ffe5 33.5px,#00fff4 37.5px,#00fdff 42.5px,#00f1ff 50.5px,#00dbff 87.5px)"></i><i style="left:60px;background:linear-gradient(#08ff00 0.5px,#00ff04 4.5px,#00ff45 17.5px,#00ff5d 20.5px,#00ffac 26.5px,#00ffcb 29.5px,#00ffe8 33.5px,#00fffd 38.5px,#00ecff 48.5px,#00daff 87.5px)"></i><i style="left:62px;background:linear-gradient(#0bff00 0.5px,#00ff01 4.5px,#00ff4b 18.5px,#00ff6b 21.5px,#00ffc9 28.5px,#0ff 34.5px,#00e0ff 40.5px,#00d1ff 47.5px,#00daff 71.5px,#00d7ff 87.5px)"></i><i style="left:64px;background:linear-gradient(#0fff00 0.5px,#00ff01 5.5px,#00ff4b 18.5px,#00ff6e 21.5px,#0fb 26.5px,#00fffd 31.5px,#00d5ff 35.5px,#00b8ff 39.5px,#00a1ff 46.5px,#00cdff 71.5px,#00d2ff 87.5px)"></i><i style="left:66px;background:linear-gradient(#12ff00 0.5px,#00ff03 6.5px,#00ff4b 18.5px,#00ff71 21.5px,#00fdff 30.5px,#00c3ff 34.5px,#0098ff 38.5px,#0083ff 41.5px,#07f 45.5px,#007eff 50.5px,#00c1ff 71.5px,#00ceff 87.5px)"></i><i style="left:68px;background:linear-gradient(#13ff00 0.5px,#00ff02 6.5px,#00ff4b 18.5px,#00ff62 20.5px,#00fff5 29.5px,#00f9ff 30.5px,#0bf 34.5px,#008eff 38.5px,#0078ff 41.5px,#006bff 45.5px,#0073ff 50.5px,#00beff 71.5px,#00cdff 87.5px)"></i><i style="left:70px;background:linear-gradient(#13ff00 0.5px,#00ff02 6.5px,#00ff4b 18.5px,#00ff62 20.5px,#00fff6 29.5px,#00f8ff 30.5px,#0bf 34.5px,#008dff 38.5px,#07f 41.5px,#006aff 45.5px,#0072ff 50.5px,#00beff 71.5px,#00cdff 87.5px)"></i><i style="left:72px;background:linear-gradient(#13ff00 0.5px,#00ff02 6.5px,#00ff4b 18.5px,#00ff62 20.5px,#00fff5 29.5px,#00f9ff 30.5px,#0bf 34.5px,#008dff 38.5px,#07f 41.5px,#006aff 45.5px,#0073ff 50.5px,#00beff 71.5px,#00cdff 87.5px)"></i><i style="left:74px;background:linear-gradient(#13ff00 0.5px,#00ff02 6.5px,#00ff4b 18.5px,#00ff71 21.5px,#00ffc5 26.5px,#00fbff 30.5px,#00bfff 34.5px,#0092ff 38.5px,#007dff 41.5px,#0070ff 45.5px,#0078ff 50.5px,#00beff 71.5px,#0cf 87.5px)"></i><i style="left:76px;background:linear-gradient(#13ff00 0.5px,#00ff02 6.5px,#00ff43 17.5px,#00ff61 20.5px,#00ffcf 27.5px,#00fff9 30.5px,#00f6ff 31.5px,#00c1ff 35.5px,#00a3ff 38.5px,#0091ff 41.5px,#0085ff 45.5px,#008aff 50.5px,#00bdff 71.5px,#00c8ff 87.5px)"></i><i style="left:78px;background:linear-gradient(#13ff00 0.5px,#00ff02 6.5px,#00ff42 17.5px,#00ff60 20.5px,#00ffbc 26.5px,#00fffc 31.5px,#00f6ff 32.5px,#00b7ff 38.5px,#00a4ff 42.5px,#009cff 46.5px,#00bcff 71.5px,#00c4ff 87.5px)"></i><i style="left:80px;background:linear-gradient(#13ff00 0.5px,#00ff02 6.5px,#00ff42 17.5px,#00ff60 20.5px,#00ffb9 26.5px,#00fcff 32.5px,#00c0ff 38.5px,#00a9ff 45.5px,#00c2ff 87.5px)"></i><i style="left:82px;background:linear-gradient(#13ff00 0.5px,#00ff02 6.5px,#00ff42 17.5px,#00ff60 20.5px,#00ffb9 26.5px,#00fbff 32.5px,#00d8ff 35.5px,#00beff 38.5px,#00a9ff 45.5px,#00c1ff 87.5px)"></i><i style="left:84px;background:linear-gradient(#13ff00 0.5px,#00ff02 6.5px,#00ff42 17.5px,#00ff60 20.5px,#00ffb9 26.5px,#00fff8 31.5px,#00f9ff 32.5px,#00d4ff 35.5px,#0bf 38.5px,#00a6ff 45.5px,#00c1ff 87.5px)"></i><i style="left:86px;background:linear-gradient(#13ff00 0.5px,#00ff02 6.5px,#00ff42 17.5px,#00ff60 20.5px,#00ffc7 27.5px,#00fffa 31.5px,#00f6ff 32.5px,#00d1ff 35.5px,#00b7ff 38.5px,#00a2ff 45.5px,#00baff 70.5px,#00c1ff 87.5px)"></i><i style="left:88px;background:linear-gradient(#12ff00 0.5px,#00ff03 6.5px,#00ff4b 18.5px,#00ff60 20.5px,#00fffc 31.5px,#00f5ff 32.5px,#00ceff 35.5px,#00b4ff 38.5px,#009fff 45.5px,#00b9ff 70.5px,#00c1ff 87.5px)"></i><i style="left:90px;background:linear-gradient(#1f0 0.5px,#00ff04 6.5px,#00ff4b 18.5px,#00ff6e 21.5px,#00fffd 31.5px,#00b9ff 37.5px,#00a8ff 40.5px,#009bff 45.5px,#00b6ff 68.5px,#00c0ff 87.5px)"></i><i style="left:92px;background:linear-gradient(#10ff00 0.5px,#00ff01 5.5px,#00ff4b 18.5px,#00ff6e 21.5px,#00fffe 31.5px,#00b6ff 37.5px,#00a5ff 40.5px,#0097ff 45.5px,#00b1ff 64.5px,#00bfff 87.5px)"></i><i style="left:94px;background:linear-gradient(#0eff00 0.5px,#00ff02 5.5px,#00ff4b 18.5px,#00ff6e 21.5px,#0ff 31.5px,#00b4ff 37.5px,#00a2ff 40.5px,#0094ff 45.5px,#00aeff 63.5px,#00beff 87.5px)"></i><i style="left:96px;background:linear-gradient(#0dff00 0.5px,#00ff03 5.5px,#00ff4b 18.5px,#00ff6e 21.5px,#00feff 31.5px,#00b2ff 37.5px,#00a0ff 40.5px,#0090ff 45.5px,#00acff 62.5px,#00beff 87.5px)"></i><i style="left:98px;background:linear-gradient(#0cff00 0.5px,#0f0 4.5px,#00ff4c 18.5px,#00ff6e 21.5px,#00fdff 31.5px,#00c4ff 35.5px,#00afff 37.5px,#009dff 40.5px,#008cff 45.5px,#008eff 49.5px,#00abff 62.5px,#00bdff 87.5px)"></i><i style="left:100px;background:linear-gradient(#0bff00 0.5px,#00ff01 4.5px,#00ff4c 18.5px,#00ff6e 21.5px,#00fcff 31.5px,#00c2ff 35.5px,#00adff 37.5px,#0096ff 41.5px,#0089ff 45.5px,#008bff 49.5px,#00a8ff 61.5px,#00bcff 87.5px)"></i><i style="left:102px;background:linear-gradient(#0aff00 0.5px,#00ff02 4.5px,#00ff4c 18.5px,#00ff6e 21.5px,#00fcff 31.5px,#00c3ff 35.5px,#00afff 37.5px,#0096ff 41.5px,#0089ff 45.5px,#008bff 49.5px,#00a9ff 61.5px,#00beff 87.5px)"></i><i style="left:104px;background:linear-gradient(#09ff00 0.5px,#00ff03 4.5px,#00ff4c 18.5px,#00ff6c 21.5px,#00fffa 31.5px,#00f6ff 32.5px,#00d0ff 35.5px,#00b5ff 38.5px,#0094ff 46.5px,#00b6ff 63.5px,#00c7ff 87.5px)"></i><i style="left:106px;background:linear-gradient(#09ff00 0.5px,#00ff03 4.5px,#00ff4c 18.5px,#00ff6a 21.5px,#00ffe2 30.5px,#00f9ff 33.5px,#0cf 38.5px,#00abff 46.5px,#00cfff 69.5px,#00d5ff 87.5px)"></i><i style="left:108px;background:linear-gradient(#09ff00 0.5px,#00ff03 4.5px,#00ff4b 18.5px,#00ff69 21.5px,#00ffd0 29.5px,#00fffb 33.5px,#00f9ff 34.5px,#00cfff 40.5px,#00b7ff 47.5px,#00d9ff 70.5px,#00dbff 87.5px)"></i><i style="left:110px;background:linear-gradient(#09ff00 0.5px,#00ff03 4.5px,#00ff4b 18.5px,#00ff69 21.5px,#00ffc3 28.5px,#00fbff 34.5px,#00d0ff 40.5px,#00b8ff 47.5px,#00d6ff 70.5px,#00d8ff 87.5px)"></i><i style="left:112px;background:linear-gradient(#09ff00 0.5px,#00ff03 4.5px,#00ff4b 18.5px,#00ff69 21.5px,#00ffac 26.5px,#00fffc 33.5px,#00ceff 39.5px,#00b2ff 46.5px,#00cfff 70.5px,#00d1ff 87.5px)"></i><i style="left:114px;background:linear-gradient(#09ff00 0.5px,#00ff03 4.5px,#00ff4c 18.5px,#00ff6b 21.5px,#00fcff 32.5px,#00d6ff 35.5px,#0bf 38.5px,#00a6ff 42.5px,#009cff 46.5px,#00c4ff 70.5px,#00caff 87.5px)"></i><i style="left:116px;background:linear-gradient(#09ff00 0.5px,#00ff03 4.5px,#00ff4d 18.5px,#00ff6f 21.5px,#00fffe 30.5px,#00bdff 34.5px,#009aff 37.5px,#0080ff 41.5px,#0076ff 45.5px,#007bff 49.5px,#00b9ff 71.5px,#00c3ff 87.5px)"></i><i style="left:118px;background:linear-gradient(#09ff00 0.5px,#00ff03 4.5px,#00ff4d 18.5px,#00ff73 21.5px,#00fffe 29.5px,#00aeff 33.5px,#0081ff 36.5px,#0060ff 40.5px,#0054ff 44.5px,#0059ff 48.5px,#00afff 71.5px,#00bdff 87.5px)"></i><i style="left:120px;background:linear-gradient(#09ff00 0.5px,#00ff03 4.5px,#00ff4e 18.5px,#00ff74 21.5px,#00fbff 29.5px,#00a6ff 33.5px,#07f 36.5px,#05f 40.5px,#0049ff 44.5px,#0050ff 48.5px,#00acff 71.5px,#0bf 87.5px)"></i><i style="left:122px;background:linear-gradient(#09ff00 0.5px,#00ff03 4.5px,#00ff4e 18.5px,#00ff74 21.5px,#00fbff 29.5px,#00a5ff 33.5px,#0076ff 36.5px,#0053ff 40.5px,#0048ff 44.5px,#004eff 48.5px,#00acff 71.5px,#0bf 87.5px)"></i><i style="left:124px;background:linear-gradient(#09ff00 0.5px,#00ff03 4.5px,#00ff4e 18.5px,#00ff74 21.5px,#00fbff 29.5px,#00a5ff 33.5px,#0075ff 36.5px,#0052ff 40.5px,#0047ff 44.5px,#004dff 48.5px,#00acff 71.5px,#0bf 87.5px)"></i><i style="left:126px;background:linear-gradient(#09ff00 0.5px,#00ff03 4.5px,#00ff4e 18.5px,#00ff74 21.5px,#00fbff 29.5px,#00a5ff 33.5px,#0075ff 36.5px,#0051ff 40.5px,#0046ff 44.5px,#0050ff 49.5px,#00acff 71.5px,#0bf 87.5px)"></i><i style="left:128px;background:linear-gradient(#09ff00 0.5px,#00ff03 4.5px,#00ff4e 18.5px,#00ff74 21.5px,#00fbff 29.5px,#00a5ff 33.5px,#0073ff 36.5px,#004fff 40.5px,#0042ff 44.5px,#004cff 49.5px,#00adff 71.5px,#00bdff 87.5px)"></i><i style="left:130px;background:linear-gradient(#09ff00 0.5px,#00ff03 4.5px,#00ff4e 18.5px,#00ff74 21.5px,#00fcff 29.5px,#0090ff 34.5px,#0063ff 37.5px,#0041ff 41.5px,#0037ff 45.5px,#0043ff 50.5px,#0084ff 61.5px,#00b2ff 71.5px,#00c6ff 87.5px)"></i><i style="left:132px;background:linear-gradient(#09ff00 0.5px,#00ff03 4.5px,#00ff4e 18.5px,#00ff74 21.5px,#00fdff 29.5px,#008eff 34.5px,#005bff 37.5px,#03f 41.5px,#0023ff 45.5px,#0026ff 48.5px,#03f 51.5px,#0084ff 61.5px,#00bcff 71.5px,#00d6ff 87.5px)"></i><i style="left:134px;background:linear-gradient(#09ff00 0.5px,#00ff03 4.5px,#00ff4e 18.5px,#00ff74 21.5px,#00feff 29.5px,#0079ff 35.5px,#0049ff 38.5px,#0024ff 42.5px,#0018ff 46.5px,#0027ff 51.5px,#007cff 60.5px,#00bdff 70.5px,#00d1ff 76.5px,#00e0ff 87.5px)"></i><i style="left:136px;background:linear-gradient(#09ff00 0.5px,#00ff03 4.5px,#00ff4e 18.5px,#00ff74 21.5px,#00feff 29.5px,#0092ff 34.5px,#0062ff 37.5px,#003bff 41.5px,#002aff 46.5px,#0039ff 51.5px,#0086ff 61.5px,#00bcff 71.5px,#00d6ff 87.5px)"></i><i style="left:138px;background:linear-gradient(#09ff00 0.5px,#00ff03 4.5px,#00ff4e 18.5px,#00ff74 21.5px,#00fdff 29.5px,#0af 33.5px,#007bff 36.5px,#0056ff 40.5px,#0045ff 45.5px,#0052ff 51.5px,#08f 61.5px,#00b3ff 71.5px,#00c6ff 87.5px)"></i><i style="left:140px;background:linear-gradient(#09ff00 0.5px,#00ff03 4.5px,#00ff4e 18.5px,#00ff74 21.5px,#00fdff 29.5px,#00adff 33.5px,#0082ff 36.5px,#0063ff 40.5px,#05f 44.5px,#005aff 49.5px,#00adff 71.5px,#00bdff 87.5px)"></i><i style="left:142px;background:linear-gradient(#09ff00 0.5px,#00ff03 4.5px,#00ff4e 18.5px,#00ff74 21.5px,#00feff 29.5px,#00afff 33.5px,#0085ff 36.5px,#0067ff 40.5px,#005aff 44.5px,#005fff 49.5px,#00acff 71.5px,#0bf 87.5px)"></i><i style="left:144px;background:linear-gradient(#09ff00 0.5px,#00ff03 4.5px,#00ff4e 18.5px,#00ff74 21.5px,#0ff 29.5px,#00b0ff 33.5px,#0086ff 36.5px,#0069ff 40.5px,#005cff 44.5px,#0060ff 49.5px,#00acff 71.5px,#0bf 87.5px)"></i><i style="left:146px;background:linear-gradient(#09ff00 0.5px,#00ff03 4.5px,#00ff4e 18.5px,#00ff74 21.5px,#00fffe 29.5px,#00b2ff 33.5px,#08f 36.5px,#006aff 40.5px,#005dff 44.5px,#0062ff 49.5px,#00acff 71.5px,#0bf 87.5px)"></i><i style="left:148px;background:linear-gradient(#09ff00 0.5px,#00ff03 4.5px,#00ff4e 18.5px,#00ff74 21.5px,#00fffd 29.5px,#00b4ff 33.5px,#008aff 36.5px,#006cff 40.5px,#005fff 44.5px,#0063ff 49.5px,#00acff 71.5px,#0bf 87.5px)"></i><i style="left:150px;background:linear-gradient(#09ff00 0.5px,#00ff03 4.5px,#00ff4e 18.5px,#00ff74 21.5px,#00fffd 29.5px,#00b6ff 33.5px,#008bff 36.5px,#006dff 40.5px,#0060ff 44.5px,#0065ff 49.5px,#00acff 71.5px,#0bf 87.5px)"></i><i style="left:152px;background:linear-gradient(#09ff00 0.5px,#00ff03 4.5px,#00ff4e 18.5px,#00ff74 21.5px,#00fffb 29.5px,#00f0ff 30.5px,#00a8ff 34.5px,#0084ff 37.5px,#006bff 41.5px,#0061ff 45.5px,#0069ff 50.5px,#00adff 71.5px,#0bf 87.5px)"></i><i style="left:154px;background:linear-gradient(#08ff00 0.5px,#00ff04 4.5px,#00ff4d 18.5px,#00ff64 20.5px,#00fff5 29.5px,#00f7ff 30.5px,#00b3ff 34.5px,#0090ff 37.5px,#0076ff 41.5px,#006bff 45.5px,#0071ff 50.5px,#00adff 71.5px,#00b9ff 87.5px)"></i><i style="left:156px;background:linear-gradient(#04ff00 0.5px,#00ff0c 5.5px,#00ff4d 18.5px,#00ff6e 21.5px,#00fffe 31.5px,#00caff 35.5px,#00adff 38.5px,#0095ff 42.5px,#0087ff 46.5px,#00adff 71.5px,#00b4ff 87.5px)"></i><i style="left:158px;background:linear-gradient(#0f0 0.5px,#00ff4d 18.5px,#00ff69 21.5px,#00ffb5 27.5px,#00fdff 34.5px,#00c4ff 41.5px,#00a6ff 47.5px,#00afff 87.5px)"></i><i style="left:160px;background:linear-gradient(#00ff05 0.5px,#00ff53 19.5px,#00ffb3 28.5px,#0ff 37.5px,#00cdff 44.5px,#00bdff 48.5px,#00acff 87.5px)"></i><i style="left:162px;background:linear-gradient(#00ff0a 0.5px,#00ff53 19.5px,#00ffac 28.5px,#00fffe 39.5px,#00d8ff 45.5px,#00cbff 49.5px,#00adff 87.5px)"></i><i style="left:164px;background:linear-gradient(#00ff0e 0.5px,#00ff53 19.5px,#00ffae 29.5px,#00feff 41.5px,#00deff 47.5px,#00c8ff 58.5px,#00afff 87.5px)"></i><i style="left:166px;background:linear-gradient(#00ff13 0.5px,#00ff53 19.5px,#0fa 29.5px,#00fffc 42.5px,#00e6ff 48.5px,#00cdff 59.5px,#00b1ff 87.5px)"></i><i style="left:168px;background:linear-gradient(#00ff17 0.5px,#00ff53 19.5px,#00ffa8 29.5px,#0ff 43.5px,#00e9ff 48.5px,#0cf 60.5px,#00b0ff 87.5px)"></i><i style="left:170px;background:linear-gradient(#00ff1c 0.5px,#00ff53 19.5px,#00ffa7 29.5px,#0ff 43.5px,#00e8ff 48.5px,#0cf 59.5px,#00aeff 87.5px)"></i><i style="left:172px;background:linear-gradient(#00ff21 0.5px,#00ff54 19.5px,#00ff9f 28.5px,#0ff 43.5px,#00e7ff 48.5px,#00caff 59.5px,#00adff 87.5px)"></i><i style="left:174px;background:linear-gradient(#00ff26 0.5px,#00ff57 19.5px,#00ff9e 28.5px,#0ff 43.5px,#00e6ff 48.5px,#00c8ff 59.5px,#00acff 87.5px)"></i><i style="left:176px;background:linear-gradient(#00ff2c 0.5px,#00ff5b 19.5px,#00feff 43.5px,#00e4ff 48.5px,#00c6ff 59.5px,#00abff 87.5px)"></i><i style="left:178px;background:linear-gradient(#00ff30 0.5px,#00ff5f 19.5px,#00ffd1 37.5px,#00feff 43.5px,#00e3ff 48.5px,#00c5ff 59.5px,#00abff 87.5px)"></i></div>
<div class="bk" style="left:98px;top:228px;width:274px;height:87px"><i style="left:0px;background:linear-gradient(#00ff48 0.5px,#00ff65 15.5px,#00ff73 19.5px,#0f9 24.5px,#00fff4 34.5px,#00fcff 36.5px,#00f1ff 41.5px,#00eaff 86.5px)"></i><i style="left:2px;background:linear-gradient(#00ff48 0.5px,#00ff65 15.5px,#00ff73 19.5px,#0f9 24.5px,#00fff4 34.5px,#00fbff 36.5px,#00f1ff 41.5px,#00e9ff 86.5px)"></i><i style="left:4px;background:linear-gradient(#00ff42 0.5px,#00ff62 15.5px,#00ff70 19.5px,#00ff9f 25.5px,#00fcff 35.5px,#00eaff 38.5px,#00deff 44.5px,#00deff 60.5px,#00d0ff 86.5px)"></i><i style="left:6px;background:linear-gradient(#0f3 0.5px,#00ff58 15.5px,#00ff69 19.5px,#00ffad 27.5px,#00fbff 34.5px,#00c6ff 39.5px,#00abff 45.5px,#00b4ff 59.5px,#008bff 86.5px)"></i><i style="left:8px;background:linear-gradient(#00ff2d 0.5px,#0f6 19.5px,#00ffac 27.5px,#00fff8 33.5px,#00f6ff 34.5px,#00b8ff 39.5px,#0095ff 45.5px,#00a3ff 59.5px,#0071ff 86.5px)"></i><i style="left:10px;background:linear-gradient(#00ff2d 0.5px,#0f6 19.5px,#00ffac 27.5px,#00fff8 33.5px,#00f6ff 34.5px,#00b5ff 39.5px,#008eff 45.5px,#009fff 59.5px,#0070ff 86.5px)"></i><i style="left:12px;background:linear-gradient(#00ff2d 0.5px,#0f6 19.5px,#00ffac 27.5px,#00fff8 33.5px,#00f6ff 34.5px,#00b4ff 39.5px,#09f 42.5px,#008aff 45.5px,#009dff 59.5px,#0073ff 86.5px)"></i><i style="left:14px;background:linear-gradient(#00ff2d 0.5px,#0f6 19.5px,#00ffac 27.5px,#00fff8 33.5px,#00f6ff 34.5px,#00b4ff 39.5px,#09f 42.5px,#0089ff 45.5px,#08f 48.5px,#00a0ff 59.5px,#0081ff 86.5px)"></i><i style="left:16px;background:linear-gradient(#00ff2d 0.5px,#0f6 19.5px,#00ffac 27.5px,#00fff7 33.5px,#00f8ff 34.5px,#00b6ff 39.5px,#009bff 42.5px,#008cff 45.5px,#008cff 48.5px,#00a8ff 60.5px,#09f 86.5px)"></i><i style="left:18px;background:linear-gradient(#00ff2d 0.5px,#0f6 19.5px,#00ffab 27.5px,#00fbff 34.5px,#00d1ff 37.5px,#00b1ff 40.5px,#0092ff 45.5px,#0093ff 48.5px,#00b2ff 60.5px,#00b1ff 86.5px)"></i><i style="left:20px;background:linear-gradient(#00ff2d 0.5px,#0f6 19.5px,#00ffa9 27.5px,#00fffc 34.5px,#00f4ff 35.5px,#00b5ff 41.5px,#009eff 46.5px,#00bdff 61.5px,#00c1ff 86.5px)"></i><i style="left:22px;background:linear-gradient(#00ff2d 0.5px,#00ff65 19.5px,#00ffa6 27.5px,#00fffd 35.5px,#00c8ff 41.5px,#00b2ff 46.5px,#00c6ff 61.5px,#00c7ff 86.5px)"></i><i style="left:24px;background:linear-gradient(#00ff2d 0.5px,#00ff65 19.5px,#00ff91 25.5px,#00fbff 37.5px,#00d6ff 42.5px,#00c7ff 46.5px,#00cfff 61.5px,#00cbff 86.5px)"></i><i style="left:26px;background:linear-gradient(#00ff2d 0.5px,#00ff65 19.5px,#00ff87 24.5px,#00fdff 38.5px,#0df 43.5px,#00d2ff 47.5px,#0cf 86.5px)"></i><i style="left:28px;background:linear-gradient(#00ff2d 0.5px,#00ff65 19.5px,#00ff9a 26.5px,#00fffd 36.5px,#00d4ff 42.5px,#00c6ff 46.5px,#00c6ff 86.5px)"></i><i style="left:30px;background:linear-gradient(#00ff2d 0.5px,#00ff65 19.5px,#00ff9e 26.5px,#00fff8 34.5px,#00f9ff 35.5px,#00caff 40.5px,#00b0ff 46.5px,#00baff 60.5px,#00beff 86.5px)"></i><i style="left:32px;background:linear-gradient(#00ff2d 0.5px,#0f5 15.5px,#00ff67 19.5px,#00ffb0 27.5px,#00fffb 33.5px,#00f4ff 34.5px,#0bf 39.5px,#00a3ff 43.5px,#009cff 46.5px,#00b0ff 61.5px,#0bf 86.5px)"></i><i style="left:34px;background:linear-gradient(#00ff2d 0.5px,#00ff62 18.5px,#00ff86 22.5px,#00fff7 31.5px,#00f8ff 32.5px,#00ceff 35.5px,#00afff 38.5px,#0097ff 42.5px,#0090ff 45.5px,#00bdff 69.5px,#00c4ff 86.5px)"></i><i style="left:36px;background:linear-gradient(#00ff2d 0.5px,#00ff53 14.5px,#00ff65 18.5px,#00ff82 21.5px,#00fcff 30.5px,#00c3ff 34.5px,#00a4ff 37.5px,#0091ff 40.5px,#0087ff 44.5px,#008bff 48.5px,#00cdff 70.5px,#00d2ff 86.5px)"></i><i style="left:38px;background:linear-gradient(#00ff2d 0.5px,#0f5 14.5px,#00ff68 18.5px,#0f8 21.5px,#00fdff 29.5px,#00c2ff 33.5px,#00a1ff 36.5px,#008dff 39.5px,#0081ff 43.5px,#08f 48.5px,#00d8ff 70.5px,#00dcff 86.5px)"></i><i style="left:40px;background:linear-gradient(#00ff2e 0.5px,#00ff58 14.5px,#00ff6c 18.5px,#00ff8d 21.5px,#00fff7 28.5px,#00f7ff 29.5px,#00beff 33.5px,#009fff 36.5px,#008bff 39.5px,#0080ff 43.5px,#0089ff 48.5px,#0df 69.5px,#00e3ff 86.5px)"></i><i style="left:42px;background:linear-gradient(#00ff2e 0.5px,#00ff5a 14.5px,#00ff6f 18.5px,#00ff8f 21.5px,#00fff8 28.5px,#00f7ff 29.5px,#00bfff 33.5px,#00a0ff 36.5px,#008bff 39.5px,#0081ff 43.5px,#008aff 48.5px,#00e0ff 69.5px,#00e6ff 86.5px)"></i><i style="left:44px;background:linear-gradient(#00ff2e 0.5px,#00ff58 14.5px,#00ff6c 18.5px,#00ff8d 21.5px,#00fcff 29.5px,#00c4ff 33.5px,#00a4ff 36.5px,#008fff 39.5px,#0085ff 43.5px,#008cff 48.5px,#00d9ff 69.5px,#00dfff 86.5px)"></i><i style="left:46px;background:linear-gradient(#00ff2f 0.5px,#00ff56 14.5px,#00ff69 18.5px,#00ff89 21.5px,#00fff9 29.5px,#00f7ff 30.5px,#00c2ff 34.5px,#00a5ff 37.5px,#008dff 43.5px,#0093ff 48.5px,#00d2ff 70.5px,#00d6ff 86.5px)"></i><i style="left:48px;background:linear-gradient(#00ff35 0.5px,#00ff58 14.5px,#00ff69 18.5px,#00ff85 21.5px,#00fcff 31.5px,#00bcff 37.5px,#00acff 40.5px,#00a3ff 44.5px,#00d0ff 70.5px,#00d3ff 86.5px)"></i><i style="left:50px;background:linear-gradient(#00ff3f 0.5px,#00ff6b 18.5px,#00ff8b 22.5px,#0ff 33.5px,#00cfff 39.5px,#00c0ff 45.5px,#00d2ff 70.5px,#00d3ff 86.5px)"></i><i style="left:52px;background:linear-gradient(#00ff40 0.5px,#00ff60 15.5px,#00ff70 19.5px,#00ff9a 24.5px,#00fffe 34.5px,#00d8ff 39.5px,#00c3ff 46.5px,#00c7ff 86.5px)"></i><i style="left:54px;background:linear-gradient(#00ff38 0.5px,#00ff5b 15.5px,#00ff6c 19.5px,#00ffab 26.5px,#00fffa 33.5px,#00f7ff 34.5px,#00c7ff 39.5px,#00abff 46.5px,#00afff 86.5px)"></i><i style="left:56px;background:linear-gradient(#00ff30 0.5px,#00ff57 15.5px,#00ff69 19.5px,#00ffa1 25.5px,#00faff 33.5px,#00d1ff 36.5px,#00b4ff 39.5px,#009cff 43.5px,#0093ff 46.5px,#09f 86.5px)"></i><i style="left:58px;background:linear-gradient(#00ff31 0.5px,#00ff58 15.5px,#00ff6a 19.5px,#00ffa2 25.5px,#00f9ff 33.5px,#00d1ff 36.5px,#00b4ff 39.5px,#009bff 43.5px,#0092ff 46.5px,#09f 86.5px)"></i><i style="left:60px;background:linear-gradient(#00ff41 0.5px,#00ff62 15.5px,#00ff72 19.5px,#00ffaf 26.5px,#00fffb 33.5px,#00f7ff 34.5px,#00c9ff 39.5px,#00afff 46.5px,#00b4ff 86.5px)"></i><i style="left:62px;background:linear-gradient(#00ff5a 0.5px,#00ff73 15.5px,#00ff80 19.5px,#00fffd 35.5px,#00e7ff 40.5px,#0df 46.5px,#00dfff 86.5px)"></i><i style="left:64px;background:linear-gradient(#00ff67 0.5px,#00ff82 18.5px,#00ffeb 34.5px,#00fffe 38.5px,#00f7ff 46.5px,#00f8ff 86.5px)"></i><i style="left:66px;background:linear-gradient(#00ff5a 0.5px,#00ff7b 18.5px,#00fffe 37.5px,#00ecff 46.5px,#0ef 86.5px)"></i><i style="left:68px;background:linear-gradient(#00ff41 0.5px,#00ff6d 18.5px,#00fbff 36.5px,#0df 41.5px,#00d0ff 46.5px,#00d5ff 86.5px)"></i><i style="left:70px;background:linear-gradient(#00ff31 0.5px,#00ff64 18.5px,#00ff79 21.5px,#00feff 35.5px,#00cfff 41.5px,#00beff 46.5px,#00c6ff 86.5px)"></i><i style="left:72px;background:linear-gradient(#00ff28 0.5px,#00ff5e 18.5px,#00ff75 21.5px,#00fcff 35.5px,#00c8ff 41.5px,#00b5ff 46.5px,#00bfff 60.5px,#00c0ff 86.5px)"></i><i style="left:74px;background:linear-gradient(#00ff09 0.5px,#00ff24 11.5px,#00ff48 18.5px,#00ff65 21.5px,#00fffe 34.5px,#00b2ff 41.5px,#0098ff 46.5px,#00afff 61.5px,#00b2ff 86.5px)"></i><i style="left:76px;background:linear-gradient(#2cff00 0.5px,#18ff00 10.5px,#00ff04 15.5px,#00ff3a 20.5px,#00fff9 33.5px,#00f4ff 34.5px,#08f 41.5px,#006dff 44.5px,#0064ff 46.5px,#0068ff 50.5px,#08f 57.5px,#0092ff 61.5px,#009aff 86.5px)"></i><i style="left:78px;background:linear-gradient(#42ff00 0.5px,#29ff00 11.5px,#03ff00 16.5px,#00ff2f 20.5px,#00fffc 33.5px,#0078ff 41.5px,#0059ff 44.5px,#0050ff 46.5px,#05f 50.5px,#007bff 57.5px,#0087ff 61.5px,#0092ff 71.5px,#0092ff 86.5px)"></i><i style="left:80px;background:linear-gradient(#48ff00 0.5px,#2dff00 11.5px,#00ff06 17.5px,#00ff3d 21.5px,#00fffc 33.5px,#0075ff 41.5px,#05f 44.5px,#004cff 46.5px,#0051ff 50.5px,#0078ff 57.5px,#0085ff 61.5px,#0091ff 71.5px,#0092ff 86.5px)"></i><i style="left:82px;background:linear-gradient(#4dff00 0.5px,#31ff00 11.5px,#00ff04 17.5px,#00ff3d 21.5px,#00fffc 33.5px,#0072ff 41.5px,#0051ff 44.5px,#0048ff 46.5px,#004eff 50.5px,#0076ff 57.5px,#0085ff 62.5px,#0091ff 71.5px,#0092ff 86.5px)"></i><i style="left:84px;background:linear-gradient(#52ff00 0.5px,#34ff00 11.5px,#00ff03 17.5px,#00fffc 33.5px,#006fff 41.5px,#004dff 44.5px,#04f 46.5px,#004bff 50.5px,#0074ff 57.5px,#0084ff 62.5px,#0091ff 71.5px,#0092ff 86.5px)"></i><i style="left:86px;background:linear-gradient(#56ff00 0.5px,#37ff00 11.5px,#00ff02 17.5px,#00fffc 33.5px,#00f0ff 34.5px,#006eff 41.5px,#004bff 44.5px,#0042ff 46.5px,#004aff 50.5px,#0073ff 57.5px,#0083ff 62.5px,#0091ff 71.5px,#0092ff 86.5px)"></i><i style="left:88px;background:linear-gradient(#57ff00 0.5px,#38ff00 11.5px,#2f0 14.5px,#0f0 17.5px,#00fff8 33.5px,#00f4ff 34.5px,#0071ff 41.5px,#004eff 44.5px,#04f 46.5px,#0048ff 49.5px,#0079ff 58.5px,#0086ff 63.5px,#0093ff 72.5px,#0092ff 86.5px)"></i><i style="left:90px;background:linear-gradient(#57ff00 0.5px,#38ff00 11.5px,#23ff00 14.5px,#02ff00 17.5px,#00ff36 21.5px,#00fff4 33.5px,#00f8ff 34.5px,#0076ff 41.5px,#0052ff 44.5px,#0049ff 46.5px,#0050ff 50.5px,#007fff 59.5px,#008cff 65.5px,#0095ff 72.5px,#0092ff 86.5px)"></i><i style="left:92px;background:linear-gradient(#57ff00 0.5px,#39ff00 11.5px,#23ff00 14.5px,#04ff00 17.5px,#0f3 21.5px,#00fcff 34.5px,#007aff 41.5px,#0057ff 44.5px,#004dff 46.5px,#05f 50.5px,#0081ff 59.5px,#0090ff 66.5px,#0097ff 72.5px,#0092ff 86.5px)"></i><i style="left:94px;background:linear-gradient(#57ff00 0.5px,#39ff00 11.5px,#24ff00 14.5px,#05ff00 17.5px,#00ff07 18.5px,#0fa 29.5px,#00fffe 34.5px,#007fff 41.5px,#005cff 44.5px,#0052ff 46.5px,#0059ff 50.5px,#0084ff 59.5px,#0094ff 67.5px,#09f 73.5px,#0093ff 86.5px)"></i><i style="left:96px;background:linear-gradient(#57ff00 0.5px,#39ff00 11.5px,#00ff05 18.5px,#00ff78 26.5px,#00fff9 34.5px,#00f2ff 35.5px,#0086ff 41.5px,#0063ff 44.5px,#005aff 46.5px,#0060ff 50.5px,#0087ff 59.5px,#09f 68.5px,#0093ff 86.5px)"></i><i style="left:98px;background:linear-gradient(#58ff00 0.5px,#3dff00 10.5px,#2bff00 13.5px,#00ff04 18.5px,#00ff65 25.5px,#00fff5 34.5px,#00f7ff 35.5px,#0094ff 41.5px,#0076ff 44.5px,#006dff 46.5px,#0072ff 50.5px,#0090ff 59.5px,#009fff 68.5px,#0093ff 86.5px)"></i><i style="left:100px;background:linear-gradient(#59ff00 0.5px,#52ff00 5.5px,#42ff00 9.5px,#00ff05 18.5px,#00ff53 24.5px,#00feff 35.5px,#00cdff 38.5px,#00a9ff 41.5px,#008dff 46.5px,#00a8ff 69.5px,#0094ff 86.5px)"></i><i style="left:102px;background:linear-gradient(#5aff00 0.5px,#4eff00 7.5px,#04ff00 17.5px,#00ff06 18.5px,#00ff50 24.5px,#00fffb 35.5px,#00f4ff 36.5px,#00c3ff 40.5px,#00abff 45.5px,#00aeff 70.5px,#0093ff 86.5px)"></i><i style="left:104px;background:linear-gradient(#5bff00 0.5px,#4fff00 7.5px,#03ff00 17.5px,#00ff06 18.5px,#00ff41 23.5px,#00fff8 35.5px,#00f7ff 36.5px,#00c9ff 40.5px,#00b3ff 45.5px,#00adff 70.5px,#008eff 86.5px)"></i><i style="left:106px;background:linear-gradient(#5bff00 0.5px,#50ff00 7.5px,#03ff00 17.5px,#00ff07 18.5px,#00ff41 23.5px,#00fff9 35.5px,#00f5ff 36.5px,#00c3ff 40.5px,#00a5ff 45.5px,#00a7ff 69.5px,#0086ff 86.5px)"></i><i style="left:108px;background:linear-gradient(#5cff00 0.5px,#50ff00 7.5px,#03ff00 17.5px,#00ff06 18.5px,#00ff4e 24.5px,#00fffa 35.5px,#00f4ff 36.5px,#00b2ff 41.5px,#0094ff 46.5px,#00a0ff 59.5px,#00a0ff 69.5px,#0080ff 86.5px)"></i><i style="left:110px;background:linear-gradient(#5fff00 0.5px,#54ff00 7.5px,#00ff03 18.5px,#00ff4e 24.5px,#00fffa 35.5px,#00f4ff 36.5px,#00b2ff 41.5px,#0094ff 46.5px,#00a1ff 68.5px,#0082ff 86.5px)"></i><i style="left:112px;background:linear-gradient(#64ff00 0.5px,#58ff00 7.5px,#01ff00 18.5px,#00ff3e 23.5px,#00fff9 35.5px,#00f5ff 36.5px,#00b5ff 41.5px,#09f 46.5px,#00a4ff 68.5px,#08f 86.5px)"></i><i style="left:114px;background:linear-gradient(#68ff00 0.5px,#5dff00 7.5px,#05ff00 18.5px,#00ff06 19.5px,#00ff3c 23.5px,#00fff8 35.5px,#00f6ff 36.5px,#00b9ff 41.5px,#009eff 46.5px,#00a6ff 69.5px,#008eff 86.5px)"></i><i style="left:116px;background:linear-gradient(#6bff00 0.5px,#5fff00 7.5px,#00ff04 19.5px,#00ff3b 23.5px,#00fff7 35.5px,#00f7ff 36.5px,#0bf 41.5px,#00a3ff 46.5px,#00abff 69.5px,#0095ff 86.5px)"></i><i style="left:118px;background:linear-gradient(#69ff00 0.5px,#5eff00 7.5px,#05ff00 18.5px,#00ff06 19.5px,#00ff3c 23.5px,#00fff7 35.5px,#00f8ff 36.5px,#00c5ff 40.5px,#00a9ff 45.5px,#00b6ff 68.5px,#009dff 86.5px)"></i><i style="left:120px;background:linear-gradient(#6f0 0.5px,#5aff00 7.5px,#03ff00 18.5px,#00ff2f 22.5px,#00fff7 35.5px,#00f8ff 36.5px,#00c6ff 40.5px,#00abff 45.5px,#00c0ff 58.5px,#00c2ff 66.5px,#00a7ff 86.5px)"></i><i style="left:122px;background:linear-gradient(#62ff00 0.5px,#57ff00 7.5px,#0f0 18.5px,#00ff3e 23.5px,#00fff7 35.5px,#00f8ff 36.5px,#00c7ff 40.5px,#00aeff 45.5px,#00caff 57.5px,#00ceff 63.5px,#00cbff 71.5px,#00b1ff 86.5px)"></i><i style="left:124px;background:linear-gradient(#5eff00 0.5px,#53ff00 7.5px,#00ff03 18.5px,#00ff3f 23.5px,#00fff7 35.5px,#00f8ff 36.5px,#00c8ff 40.5px,#00b1ff 45.5px,#00b5ff 48.5px,#00d4ff 57.5px,#00d9ff 62.5px,#00d7ff 71.5px,#00baff 86.5px)"></i><i style="left:126px;background:linear-gradient(#5cff00 0.5px,#50ff00 7.5px,#03ff00 17.5px,#00ff06 18.5px,#00ff40 23.5px,#00fff8 35.5px,#00f7ff 36.5px,#00c6ff 40.5px,#00afff 45.5px,#00b4ff 48.5px,#00d8ff 57.5px,#0df 61.5px,#00dbff 71.5px,#00beff 86.5px)"></i><i style="left:128px;background:linear-gradient(#5bff00 0.5px,#50ff00 7.5px,#03ff00 17.5px,#00ff07 18.5px,#00ff4f 24.5px,#00fffb 35.5px,#00f3ff 36.5px,#00b7ff 41.5px,#00a3ff 45.5px,#00a7ff 48.5px,#00c8ff 57.5px,#00cdff 61.5px,#00cbff 71.5px,#00b2ff 86.5px)"></i><i style="left:130px;background:linear-gradient(#5bff00 0.5px,#4fff00 7.5px,#03ff00 17.5px,#00ff07 18.5px,#00ff4f 24.5px,#00feff 35.5px,#0af 41.5px,#0090ff 45.5px,#0093ff 48.5px,#00b0ff 56.5px,#00b7ff 61.5px,#00b6ff 71.5px,#00a2ff 86.5px)"></i><i style="left:132px;background:linear-gradient(#5bff00 0.5px,#4fff00 7.5px,#03ff00 17.5px,#00ff07 18.5px,#00ff50 24.5px,#00fff4 34.5px,#00f9ff 35.5px,#009bff 41.5px,#0086ff 43.5px,#007bff 45.5px,#007eff 48.5px,#009fff 56.5px,#00a7ff 60.5px,#00a7ff 71.5px,#0098ff 86.5px)"></i><i style="left:134px;background:linear-gradient(#5bff00 0.5px,#4fff00 7.5px,#03ff00 17.5px,#00ff07 18.5px,#00ff50 24.5px,#00fff5 34.5px,#00f8ff 35.5px,#0097ff 41.5px,#0080ff 43.5px,#0075ff 45.5px,#07f 48.5px,#0097ff 56.5px,#009fff 60.5px,#0094ff 86.5px)"></i><i style="left:136px;background:linear-gradient(#5bff00 0.5px,#4fff00 7.5px,#03ff00 17.5px,#00ff07 18.5px,#00ff4f 24.5px,#00fcff 35.5px,#009fff 41.5px,#007eff 45.5px,#007eff 48.5px,#009eff 60.5px,#0093ff 86.5px)"></i><i style="left:138px;background:linear-gradient(#5bff00 0.5px,#4fff00 7.5px,#03ff00 17.5px,#00ff07 18.5px,#00ff4f 24.5px,#0ff 35.5px,#00a8ff 41.5px,#008eff 44.5px,#0087ff 46.5px,#009fff 61.5px,#0093ff 86.5px)"></i><i style="left:140px;background:linear-gradient(#5bff00 0.5px,#4fff00 7.5px,#03ff00 17.5px,#00ff07 18.5px,#00ff4f 24.5px,#00fffd 35.5px,#00aeff 41.5px,#0095ff 44.5px,#008fff 46.5px,#00a2ff 62.5px,#0093ff 86.5px)"></i><i style="left:142px;background:linear-gradient(#5bff00 0.5px,#4fff00 7.5px,#03ff00 17.5px,#00ff07 18.5px,#00ff4f 24.5px,#00fffb 35.5px,#00f3ff 36.5px,#00b2ff 41.5px,#0096ff 46.5px,#00a5ff 66.5px,#0093ff 86.5px)"></i><i style="left:144px;background:linear-gradient(#5bff00 0.5px,#4fff00 7.5px,#03ff00 17.5px,#00ff07 18.5px,#00ff41 23.5px,#00fff9 35.5px,#00f6ff 36.5px,#00b7ff 41.5px,#009dff 46.5px,#00a7ff 68.5px,#0093ff 86.5px)"></i><i style="left:146px;background:linear-gradient(#5bff00 0.5px,#50ff00 7.5px,#03ff00 17.5px,#00ff06 18.5px,#00ff40 23.5px,#00fff7 35.5px,#00f7ff 36.5px,#0bf 41.5px,#00a2ff 46.5px,#00a9ff 69.5px,#0093ff 86.5px)"></i><i style="left:148px;background:linear-gradient(#5dff00 0.5px,#52ff00 7.5px,#00ff05 18.5px,#00ff40 23.5px,#00fff7 35.5px,#00f8ff 36.5px,#00bcff 41.5px,#00a4ff 46.5px,#00abff 69.5px,#0092ff 86.5px)"></i><i style="left:150px;background:linear-gradient(#60ff00 0.5px,#54ff00 7.5px,#00ff02 18.5px,#00ff3f 23.5px,#00fff7 35.5px,#00f8ff 36.5px,#00bcff 41.5px,#00a4ff 46.5px,#00acff 69.5px,#0091ff 86.5px)"></i><i style="left:152px;background:linear-gradient(#62ff00 0.5px,#57ff00 7.5px,#0f0 18.5px,#00ff3e 23.5px,#00fff7 35.5px,#00f8ff 36.5px,#00bcff 41.5px,#00a4ff 46.5px,#00aeff 69.5px,#0090ff 86.5px)"></i><i style="left:154px;background:linear-gradient(#64ff00 0.5px,#59ff00 7.5px,#02ff00 18.5px,#00ff2f 22.5px,#00fff7 35.5px,#00f8ff 36.5px,#00c5ff 40.5px,#00a6ff 45.5px,#00afff 69.5px,#008eff 86.5px)"></i><i style="left:156px;background:linear-gradient(#67ff00 0.5px,#5bff00 7.5px,#03ff00 18.5px,#00ff2e 22.5px,#00fff7 35.5px,#00f8ff 36.5px,#00c5ff 40.5px,#00a6ff 45.5px,#00b1ff 69.5px,#008dff 86.5px)"></i><i style="left:158px;background:linear-gradient(#69ff00 0.5px,#5eff00 7.5px,#05ff00 18.5px,#00ff05 19.5px,#00ff3c 23.5px,#00fff7 35.5px,#00f8ff 36.5px,#00c5ff 40.5px,#00a7ff 45.5px,#00b3ff 59.5px,#00b2ff 69.5px,#008bff 86.5px)"></i><i style="left:160px;background:linear-gradient(#6bff00 0.5px,#60ff00 7.5px,#00ff04 19.5px,#00ff3b 23.5px,#00fff7 35.5px,#00f8ff 36.5px,#00c5ff 40.5px,#00a7ff 45.5px,#00b4ff 59.5px,#00b4ff 69.5px,#008aff 86.5px)"></i><i style="left:162px;background:linear-gradient(#6cff00 0.5px,#68ff00 5.5px,#5bff00 8.5px,#00ff03 19.5px,#00ff3b 23.5px,#00fff7 35.5px,#00f8ff 36.5px,#00c5ff 40.5px,#00a7ff 45.5px,#00b5ff 59.5px,#00b4ff 69.5px,#008aff 86.5px)"></i><i style="left:164px;background:linear-gradient(#6dff00 0.5px,#69ff00 5.5px,#5cff00 8.5px,#00ff03 19.5px,#00ff3a 23.5px,#00fff7 35.5px,#00f8ff 36.5px,#00c5ff 40.5px,#00a9ff 45.5px,#00b5ff 59.5px,#00b5ff 69.5px,#008cff 86.5px)"></i><i style="left:166px;background:linear-gradient(#6dff00 0.5px,#69ff00 5.5px,#5cff00 8.5px,#00ff03 19.5px,#00ff3a 23.5px,#00fff7 35.5px,#00f8ff 36.5px,#00c6ff 40.5px,#0af 45.5px,#00b5ff 59.5px,#00b5ff 69.5px,#008dff 86.5px)"></i><i style="left:168px;background:linear-gradient(#6dff00 0.5px,#69ff00 5.5px,#5cff00 8.5px,#00ff03 19.5px,#00ff3a 23.5px,#00fff7 35.5px,#00f8ff 36.5px,#00c6ff 40.5px,#00abff 45.5px,#00b5ff 69.5px,#008fff 86.5px)"></i><i style="left:170px;background:linear-gradient(#6dff00 0.5px,#69ff00 5.5px,#5cff00 8.5px,#00ff03 19.5px,#00ff3a 23.5px,#00fff7 35.5px,#00f8ff 36.5px,#00c7ff 40.5px,#00acff 45.5px,#00b5ff 69.5px,#0090ff 86.5px)"></i><i style="left:172px;background:linear-gradient(#6dff00 0.5px,#69ff00 5.5px,#5cff00 8.5px,#00ff03 19.5px,#00ff3a 23.5px,#00fff7 35.5px,#00f8ff 36.5px,#00c8ff 40.5px,#00aeff 45.5px,#00b5ff 69.5px,#0091ff 86.5px)"></i><i style="left:174px;background:linear-gradient(#6dff00 0.5px,#69ff00 5.5px,#5cff00 8.5px,#00ff03 19.5px,#00ff3b 23.5px,#00fff7 35.5px,#00f8ff 36.5px,#00c8ff 40.5px,#00afff 45.5px,#00b5ff 69.5px,#0093ff 86.5px)"></i><i style="left:176px;background:linear-gradient(#6cff00 0.5px,#68ff00 5.5px,#5bff00 8.5px,#00ff03 19.5px,#00ff3b 23.5px,#00fff7 35.5px,#00f8ff 36.5px,#00c9ff 40.5px,#00b0ff 45.5px,#00b5ff 69.5px,#0094ff 86.5px)"></i><i style="left:178px;background:linear-gradient(#6aff00 0.5px,#5fff00 7.5px,#00ff05 19.5px,#00ff3b 23.5px,#00fff7 35.5px,#00f8ff 36.5px,#00c9ff 40.5px,#00b1ff 45.5px,#00b3ff 69.5px,#0093ff 86.5px)"></i><i style="left:180px;background:linear-gradient(#68ff00 0.5px,#5cff00 7.5px,#04ff00 18.5px,#00ff06 19.5px,#00ff3c 23.5px,#00fff8 35.5px,#00f7ff 36.5px,#00c9ff 40.5px,#00b2ff 45.5px,#00b2ff 69.5px,#0091ff 86.5px)"></i><i style="left:182px;background:linear-gradient(#6f0 0.5px,#5aff00 7.5px,#03ff00 18.5px,#00ff2f 22.5px,#00fff8 35.5px,#00f7ff 36.5px,#00caff 40.5px,#00b3ff 45.5px,#00afff 70.5px,#0090ff 86.5px)"></i><i style="left:184px;background:linear-gradient(#63ff00 0.5px,#58ff00 7.5px,#01ff00 18.5px,#00ff3e 23.5px,#00fff8 35.5px,#00f7ff 36.5px,#00caff 40.5px,#00b4ff 45.5px,#00aeff 70.5px,#008eff 86.5px)"></i><i style="left:186px;background:linear-gradient(#61ff00 0.5px,#5f0 7.5px,#00ff01 18.5px,#00ff3f 23.5px,#00fff9 35.5px,#00f6ff 36.5px,#00caff 40.5px,#00b5ff 45.5px,#00acff 70.5px,#008cff 86.5px)"></i><i style="left:188px;background:linear-gradient(#5eff00 0.5px,#53ff00 7.5px,#00ff04 18.5px,#00ff40 23.5px,#00fff9 35.5px,#00f6ff 36.5px,#00caff 40.5px,#00b6ff 45.5px,#00abff 70.5px,#008bff 86.5px)"></i><i style="left:190px;background:linear-gradient(#5cff00 0.5px,#51ff00 7.5px,#04ff00 17.5px,#00ff06 18.5px,#00ff40 23.5px,#00fffa 35.5px,#00f6ff 36.5px,#00cbff 40.5px,#00b7ff 45.5px,#00a9ff 70.5px,#0089ff 86.5px)"></i><i style="left:192px;background:linear-gradient(#5aff00 0.5px,#4eff00 7.5px,#02ff00 17.5px,#00ff41 23.5px,#00fffa 35.5px,#00f5ff 36.5px,#00cbff 40.5px,#00b8ff 45.5px,#00abff 56.5px,#00a6ff 71.5px,#0089ff 86.5px)"></i><i style="left:194px;background:linear-gradient(#57ff00 0.5px,#4cff00 7.5px,#00ff01 17.5px,#00ff42 23.5px,#00fffb 35.5px,#00f5ff 36.5px,#00cbff 40.5px,#00b8ff 45.5px,#00a9ff 57.5px,#00a5ff 71.5px,#08f 86.5px)"></i><i style="left:196px;background:linear-gradient(#5f0 0.5px,#49ff00 7.5px,#00ff03 17.5px,#00ff43 23.5px,#00fffb 35.5px,#00f4ff 36.5px,#00caff 40.5px,#00b7ff 45.5px,#00a7ff 57.5px,#00a3ff 71.5px,#08f 86.5px)"></i><i style="left:198px;background:linear-gradient(#52ff00 0.5px,#47ff00 7.5px,#00ff05 17.5px,#0f4 23.5px,#00fffc 35.5px,#00f4ff 36.5px,#00caff 40.5px,#00b5ff 46.5px,#00a6ff 57.5px,#00a1ff 71.5px,#08f 86.5px)"></i><i style="left:200px;background:linear-gradient(#4fff00 0.5px,#4f0 7.5px,#01ff00 16.5px,#00ff07 17.5px,#00ff52 24.5px,#00fffc 35.5px,#00caff 40.5px,#00b7ff 45.5px,#00a4ff 57.5px,#00a0ff 71.5px,#08f 86.5px)"></i><i style="left:202px;background:linear-gradient(#4dff00 0.5px,#42ff00 7.5px,#00ff01 16.5px,#00ff24 20.5px,#00ff52 24.5px,#00fffd 35.5px,#00d1ff 39.5px,#00b7ff 45.5px,#00a4ff 56.5px,#009eff 71.5px,#08f 86.5px)"></i><i style="left:204px;background:linear-gradient(#4bff00 0.5px,#40ff00 7.5px,#00ff03 16.5px,#00ff25 20.5px,#00ff53 24.5px,#00fffc 35.5px,#00f4ff 36.5px,#00cbff 40.5px,#00b5ff 46.5px,#00a1ff 57.5px,#009dff 71.5px,#0087ff 86.5px)"></i><i style="left:206px;background:linear-gradient(#4dff00 0.5px,#42ff00 7.5px,#00ff01 16.5px,#00ff24 20.5px,#00ff52 24.5px,#00fcff 36.5px,#00d9ff 39.5px,#00c9ff 41.5px,#00b4ff 47.5px,#00a1ff 57.5px,#009cff 71.5px,#0085ff 86.5px)"></i><i style="left:208px;background:linear-gradient(#52ff00 0.5px,#47ff00 7.5px,#00ff05 17.5px,#00ff50 24.5px,#00fdff 37.5px,#00caff 42.5px,#00b3ff 48.5px,#00a1ff 57.5px,#009cff 71.5px,#0082ff 86.5px)"></i><i style="left:210px;background:linear-gradient(#57ff00 0.5px,#4bff00 7.5px,#00ff01 17.5px,#00ff35 22.5px,#00fdff 38.5px,#00d8ff 41.5px,#00c9ff 43.5px,#00b2ff 49.5px,#00a0ff 58.5px,#009bff 71.5px,#007eff 86.5px)"></i><i style="left:212px;background:linear-gradient(#57ff00 0.5px,#4cff00 7.5px,#0f0 17.5px,#00ff29 21.5px,#00ffb6 33.5px,#00fffb 38.5px,#00f5ff 39.5px,#00caff 43.5px,#00b2ff 49.5px,#00a0ff 58.5px,#009bff 71.5px,#007bff 86.5px)"></i><i style="left:214px;background:linear-gradient(#54ff00 0.5px,#49ff00 7.5px,#00ff03 17.5px,#00ff2a 21.5px,#00ffb6 33.5px,#00fffb 38.5px,#00f4ff 39.5px,#00c9ff 43.5px,#00b0ff 49.5px,#00a0ff 58.5px,#009bff 71.5px,#0078ff 86.5px)"></i><i style="left:216px;background:linear-gradient(#50ff00 0.5px,#4f0 7.5px,#01ff00 16.5px,#00ff43 23.5px,#00ffb8 33.5px,#00fffd 38.5px,#00c7ff 43.5px,#00b0ff 48.5px,#00a0ff 57.5px,#009aff 71.5px,#0076ff 86.5px)"></i><i style="left:218px;background:linear-gradient(#4bff00 0.5px,#40ff00 7.5px,#00ff02 16.5px,#00ff5b 25.5px,#00ffb8 33.5px,#0ff 38.5px,#00d8ff 41.5px,#00c6ff 43.5px,#00afff 48.5px,#00a1ff 57.5px,#009bff 71.5px,#0074ff 86.5px)"></i><i style="left:220px;background:linear-gradient(#47ff00 0.5px,#3cff00 7.5px,#02ff00 15.5px,#00ff06 16.5px,#00ff51 24.5px,#00ffb6 33.5px,#00fffb 38.5px,#00f4ff 39.5px,#00c8ff 43.5px,#00b2ff 48.5px,#00a3ff 57.5px,#009dff 71.5px,#07f 86.5px)"></i><i style="left:222px;background:linear-gradient(#4f0 0.5px,#38ff00 7.5px,#00ff01 15.5px,#00ff5c 25.5px,#00ffbd 34.5px,#00fcff 39.5px,#00cfff 43.5px,#00bcff 47.5px,#00a8ff 57.5px,#00a2ff 71.5px,#007fff 86.5px)"></i><i style="left:224px;background:linear-gradient(#41ff00 0.5px,#3aff00 6.5px,#00ff04 15.5px,#00ff5c 25.5px,#00ffb8 34.5px,#00fffb 39.5px,#00f5ff 40.5px,#00d4ff 43.5px,#00c3ff 47.5px,#00abff 58.5px,#00a5ff 71.5px,#0086ff 86.5px)"></i><i style="left:226px;background:linear-gradient(#40ff00 0.5px,#39ff00 6.5px,#00ff05 15.5px,#00ff35 21.5px,#00ffa2 32.5px,#00fffa 39.5px,#00f6ff 40.5px,#00ceff 44.5px,#00b2ff 54.5px,#00a5ff 71.5px,#0086ff 86.5px)"></i><i style="left:228px;background:linear-gradient(#40ff00 0.5px,#39ff00 6.5px,#00ff05 15.5px,#00ff5c 25.5px,#00ffb8 34.5px,#00fffb 39.5px,#00f5ff 40.5px,#00cdff 44.5px,#00b0ff 54.5px,#00a3ff 71.5px,#0084ff 86.5px)"></i><i style="left:230px;background:linear-gradient(#40ff00 0.5px,#39ff00 6.5px,#00ff05 15.5px,#00ff35 21.5px,#00ffa3 32.5px,#00fffc 39.5px,#00d3ff 43.5px,#00bdff 48.5px,#00a8ff 57.5px,#00a1ff 71.5px,#0083ff 86.5px)"></i><i style="left:232px;background:linear-gradient(#40ff00 0.5px,#39ff00 6.5px,#00ff05 15.5px,#00ff3e 22.5px,#00ffa4 32.5px,#00fffe 39.5px,#00daff 42.5px,#00cbff 44.5px,#00b6ff 50.5px,#00a4ff 58.5px,#009fff 71.5px,#0081ff 86.5px)"></i><i style="left:234px;background:linear-gradient(#40ff00 0.5px,#39ff00 6.5px,#00ff05 15.5px,#00ff3f 22.5px,#00ffa4 32.5px,#0ff 39.5px,#00d0ff 43.5px,#00b4ff 50.5px,#00a2ff 58.5px,#009dff 71.5px,#007fff 86.5px)"></i><i style="left:236px;background:linear-gradient(#40ff00 0.5px,#39ff00 6.5px,#00ff05 15.5px,#00ff3f 22.5px,#00ffa5 32.5px,#00feff 39.5px,#00d0ff 43.5px,#00b3ff 50.5px,#00a2ff 58.5px,#009dff 71.5px,#007eff 86.5px)"></i><i style="left:238px;background:linear-gradient(#3eff00 0.5px,#37ff00 6.5px,#01ff00 14.5px,#00ff2e 20.5px,#00ff67 26.5px,#0fb 34.5px,#0ff 39.5px,#00d0ff 43.5px,#0bf 48.5px,#00a6ff 58.5px,#00a1ff 71.5px,#0080ff 86.5px)"></i><i style="left:240px;background:linear-gradient(#3cff00 0.5px,#35ff00 6.5px,#00ff01 14.5px,#00ff67 26.5px,#00ffba 34.5px,#00fffe 39.5px,#00d2ff 43.5px,#00c0ff 47.5px,#00adff 57.5px,#00a6ff 71.5px,#0083ff 86.5px)"></i><i style="left:242px;background:linear-gradient(#3aff00 0.5px,#3f0 6.5px,#00ff03 14.5px,#00ff39 21.5px,#00ff71 27.5px,#00ffb9 34.5px,#00fffd 39.5px,#00d3ff 43.5px,#00c5ff 46.5px,#00b2ff 57.5px,#00acff 71.5px,#0086ff 86.5px)"></i><i style="left:244px;background:linear-gradient(#38ff00 0.5px,#31ff00 6.5px,#00ff05 14.5px,#00ff3a 21.5px,#00ff71 27.5px,#00ffb9 34.5px,#00fffc 39.5px,#00d4ff 43.5px,#00c6ff 46.5px,#00b5ff 57.5px,#00afff 71.5px,#0087ff 86.5px)"></i><i style="left:246px;background:linear-gradient(#37ff00 0.5px,#30ff00 6.5px,#00ff05 14.5px,#00ff3a 21.5px,#00ff71 27.5px,#00ffb9 34.5px,#00fffc 39.5px,#00d4ff 43.5px,#00c6ff 46.5px,#00b0ff 57.5px,#0af 71.5px,#0084ff 86.5px)"></i><i style="left:248px;background:linear-gradient(#37ff00 0.5px,#30ff00 6.5px,#00ff05 14.5px,#00ff3a 21.5px,#00ff71 27.5px,#00ffb9 34.5px,#00fffc 39.5px,#00d3ff 43.5px,#00c1ff 47.5px,#00a8ff 58.5px,#00a2ff 71.5px,#007eff 86.5px)"></i><i style="left:250px;background:linear-gradient(#37ff00 0.5px,#30ff00 6.5px,#00ff05 14.5px,#00ff3a 21.5px,#00ff71 27.5px,#00ffb9 34.5px,#00fffc 39.5px,#00cbff 44.5px,#0af 54.5px,#009fff 59.5px,#009bff 71.5px,#0079ff 86.5px)"></i><i style="left:252px;background:linear-gradient(#37ff00 0.5px,#30ff00 6.5px,#00ff05 14.5px,#00ff67 26.5px,#00ffb8 34.5px,#00fffb 39.5px,#00f4ff 40.5px,#00dcff 42.5px,#00c6ff 45.5px,#009eff 56.5px,#0093ff 71.5px,#0074ff 86.5px)"></i><i style="left:254px;background:linear-gradient(#37ff00 0.5px,#30ff00 6.5px,#00ff05 14.5px,#0f6 26.5px,#00ffb5 34.5px,#00f9ff 40.5px,#00d6ff 43.5px,#00c8ff 45.5px,#0097ff 57.5px,#008eff 71.5px,#006fff 86.5px)"></i><i style="left:256px;background:linear-gradient(#37ff00 0.5px,#30ff00 6.5px,#00ff05 14.5px,#00ff42 22.5px,#00ff9d 32.5px,#00ffc6 36.5px,#00fffc 40.5px,#00f5ff 41.5px,#00c6ff 46.5px,#0095ff 57.5px,#008bff 71.5px,#006cff 86.5px)"></i><i style="left:258px;background:linear-gradient(#37ff00 0.5px,#30ff00 6.5px,#00ff05 14.5px,#00ff3a 21.5px,#00ffab 34.5px,#0ff 41.5px,#00caff 46.5px,#0093ff 57.5px,#08f 71.5px,#0069ff 86.5px)"></i><i style="left:260px;background:linear-gradient(#37ff00 0.5px,#30ff00 6.5px,#00ff05 14.5px,#00ffaf 35.5px,#00fff7 41.5px,#00f9ff 42.5px,#00cdff 46.5px,#008eff 58.5px,#0085ff 71.5px,#06f 86.5px)"></i><i style="left:262px;background:linear-gradient(#37ff00 0.5px,#30ff00 6.5px,#00ff05 14.5px,#00ffad 35.5px,#00fbff 42.5px,#00d6ff 45.5px,#00c6ff 47.5px,#008cff 58.5px,#0083ff 71.5px,#0065ff 86.5px)"></i><i style="left:264px;background:linear-gradient(#37ff00 0.5px,#30ff00 6.5px,#00ff05 14.5px,#00ffae 35.5px,#00fff8 41.5px,#00f8ff 42.5px,#00d3ff 45.5px,#00c3ff 47.5px,#008fff 57.5px,#0083ff 71.5px,#0065ff 86.5px)"></i><i style="left:266px;background:linear-gradient(#37ff00 0.5px,#30ff00 6.5px,#00ff05 14.5px,#00ffb1 35.5px,#00fffc 41.5px,#00c7ff 46.5px,#008eff 57.5px,#0083ff 71.5px,#0065ff 86.5px)"></i><i style="left:268px;background:linear-gradient(#37ff00 0.5px,#30ff00 6.5px,#00ff05 14.5px,#00ff3a 21.5px,#00ffab 34.5px,#00fbff 41.5px,#00c3ff 46.5px,#0090ff 56.5px,#0087ff 60.5px,#0083ff 71.5px,#0065ff 86.5px)"></i><i style="left:270px;background:linear-gradient(#37ff00 0.5px,#30ff00 6.5px,#00ff05 14.5px,#00ff42 22.5px,#00ffa7 33.5px,#00ffc6 36.5px,#00fffd 40.5px,#00d9ff 43.5px,#00bfff 46.5px,#008fff 56.5px,#0083ff 71.5px,#0065ff 86.5px)"></i><i style="left:272px;background:linear-gradient(#37ff00 0.5px,#30ff00 6.5px,#00ff05 14.5px,#00ff70 27.5px,#00ffb5 34.5px,#00f9ff 40.5px,#00c2ff 45.5px,#008fff 56.5px,#0083ff 71.5px,#0065ff 86.5px)"></i></div>
<div class="bk" style="left:503px;top:228px;width:180px;height:87px"><i style="left:0px;background:linear-gradient(#00fff7 0.5px,#00ff98 8.5px,#00ff84 11.5px,#00ff7d 14.5px,#00ff86 17.5px,#00ffa6 22.5px,#00ffce 27.5px,#00fffd 31.5px,#00f3ff 32.5px,#00b0ff 37.5px,#009cff 41.5px,#0070ff 75.5px,#0054ff 78.5px,#0009ff 83.5px,#0200ff 84.5px,#10f 86.5px)"></i><i style="left:2px;background:linear-gradient(#00ff93 0.5px,#00ff71 8.5px,#00ff79 15.5px,#00ff9a 21.5px,#00ffd0 28.5px,#00fff9 32.5px,#00faff 33.5px,#00d2ff 37.5px,#00b8ff 43.5px,#008aff 75.5px,#0035ff 86.5px)"></i><i style="left:4px;background:linear-gradient(#00ff5e 0.5px,#00ff65 8.5px,#00ff81 18.5px,#00ffcd 29.5px,#00fffe 35.5px,#00e9ff 39.5px,#00d6ff 45.5px,#00a2ff 75.5px,#0082ff 86.5px)"></i><i style="left:6px;background:linear-gradient(#00ff56 0.5px,#00ff7f 18.5px,#00fdff 37.5px,#00daff 48.5px,#09f 86.5px)"></i><i style="left:8px;background:linear-gradient(#0f5 0.5px,#00ff7f 18.5px,#00fdff 38.5px,#00dcff 48.5px,#009bff 86.5px)"></i><i style="left:10px;background:linear-gradient(#0f5 0.5px,#00ff7e 18.5px,#0fe 36.5px,#00feff 40.5px,#00e5ff 48.5px,#00b6ff 71.5px,#00a0ff 86.5px)"></i><i style="left:12px;background:linear-gradient(#0f5 0.5px,#00ff7e 18.5px,#00ffdb 35.5px,#0ff 44.5px,#00beff 71.5px,#00a8ff 86.5px)"></i><i style="left:14px;background:linear-gradient(#0f5 0.5px,#00ff7d 18.5px,#00ffc4 32.5px,#00fffd 48.5px,#00c4ff 72.5px,#00afff 86.5px)"></i><i style="left:16px;background:linear-gradient(#0f5 0.5px,#00ff7d 18.5px,#00ffc2 32.5px,#00fffd 50.5px,#00c6ff 72.5px,#00b1ff 86.5px)"></i><i style="left:18px;background:linear-gradient(#0f5 0.5px,#00ff7d 18.5px,#00ffc2 32.5px,#00fffd 50.5px,#00c6ff 72.5px,#00b2ff 86.5px)"></i><i style="left:20px;background:linear-gradient(#00ff54 0.5px,#00ff7e 18.5px,#00ffc4 32.5px,#00fffd 48.5px,#00c5ff 72.5px,#00b1ff 86.5px)"></i><i style="left:22px;background:linear-gradient(#00ff51 0.5px,#00ff81 18.5px,#0fc 32.5px,#0ff 44.5px,#00c1ff 71.5px,#00adff 86.5px)"></i><i style="left:24px;background:linear-gradient(#00ff4c 0.5px,#00ff85 18.5px,#00ffda 33.5px,#00fdff 41.5px,#00e3ff 47.5px,#00d1ff 56.5px,#00a9ff 86.5px)"></i><i style="left:26px;background:linear-gradient(#00ff49 0.5px,#00ff8d 19.5px,#00fffe 38.5px,#00d9ff 46.5px,#00c7ff 54.5px,#00a6ff 86.5px)"></i><i style="left:28px;background:linear-gradient(#00ff48 0.5px,#00ff8e 19.5px,#00fdff 38.5px,#00d5ff 46.5px,#00c5ff 53.5px,#00a5ff 86.5px)"></i><i style="left:30px;background:linear-gradient(#00ff48 0.5px,#00ff8e 19.5px,#00fdff 38.5px,#00d5ff 46.5px,#00c5ff 53.5px,#00a5ff 86.5px)"></i><i style="left:32px;background:linear-gradient(#00ff48 0.5px,#00ff8e 19.5px,#00fdff 38.5px,#00d5ff 46.5px,#00c5ff 53.5px,#00a5ff 86.5px)"></i><i style="left:34px;background:linear-gradient(#00ff47 0.5px,#00ff8e 19.5px,#00fdff 38.5px,#00d4ff 46.5px,#00c5ff 53.5px,#00a5ff 86.5px)"></i><i style="left:36px;background:linear-gradient(#0f4 0.5px,#00ff87 18.5px,#00feff 37.5px,#00d6ff 45.5px,#00c8ff 50.5px,#00a4ff 86.5px)"></i><i style="left:38px;background:linear-gradient(#0f3 0.5px,#00ff7f 18.5px,#0ff 34.5px,#00d5ff 42.5px,#00c4ff 47.5px,#00a0ff 86.5px)"></i><i style="left:40px;background:linear-gradient(#00ff1d 0.5px,#00ff74 18.5px,#00fffb 31.5px,#00f9ff 32.5px,#00d6ff 37.5px,#00baff 45.5px,#009cff 86.5px)"></i><i style="left:42px;background:linear-gradient(#00ff16 0.5px,#00ff71 18.5px,#00feff 31.5px,#00d1ff 37.5px,#00b9ff 45.5px,#009fff 86.5px)"></i><i style="left:44px;background:linear-gradient(#00ff16 0.5px,#00ff71 18.5px,#00feff 31.5px,#00d9ff 36.5px,#00c0ff 44.5px,#00a5ff 86.5px)"></i><i style="left:46px;background:linear-gradient(#00ff16 0.5px,#00ff71 18.5px,#0ff 31.5px,#00dcff 36.5px,#00c5ff 44.5px,#00abff 86.5px)"></i><i style="left:48px;background:linear-gradient(#00ff16 0.5px,#00ff71 18.5px,#00fffe 31.5px,#00dcff 36.5px,#00c5ff 44.5px,#0af 86.5px)"></i><i style="left:50px;background:linear-gradient(#00ff16 0.5px,#00ff71 18.5px,#0ff 31.5px,#00cdff 37.5px,#00b3ff 45.5px,#09f 86.5px)"></i><i style="left:52px;background:linear-gradient(#00ff16 0.5px,#00ff71 18.5px,#00feff 31.5px,#00c2ff 37.5px,#00a1ff 45.5px,#0086ff 86.5px)"></i><i style="left:54px;background:linear-gradient(#00ff16 0.5px,#00ff71 18.5px,#00feff 31.5px,#00daff 34.5px,#00bfff 37.5px,#009cff 45.5px,#0081ff 86.5px)"></i><i style="left:56px;background:linear-gradient(#00ff16 0.5px,#00ff71 18.5px,#00feff 31.5px,#00d9ff 34.5px,#00bfff 37.5px,#009cff 45.5px,#0081ff 86.5px)"></i><i style="left:58px;background:linear-gradient(#00ff16 0.5px,#00ff71 18.5px,#00feff 31.5px,#00d9ff 34.5px,#00bfff 37.5px,#009cff 45.5px,#0081ff 86.5px)"></i><i style="left:60px;background:linear-gradient(#00ff16 0.5px,#00ff71 18.5px,#00feff 31.5px,#00d9ff 34.5px,#00bfff 37.5px,#009cff 45.5px,#0081ff 86.5px)"></i><i style="left:62px;background:linear-gradient(#00ff16 0.5px,#00ff71 18.5px,#00feff 31.5px,#00d9ff 34.5px,#00bfff 37.5px,#009cff 45.5px,#0081ff 86.5px)"></i><i style="left:64px;background:linear-gradient(#00ff15 0.5px,#00ff71 18.5px,#00fbff 31.5px,#00d6ff 34.5px,#0bf 37.5px,#0097ff 45.5px,#007fff 86.5px)"></i><i style="left:66px;background:linear-gradient(#0f1 0.5px,#00ff71 18.5px,#00fcff 30.5px,#00c6ff 34.5px,#00a8ff 37.5px,#008eff 41.5px,#007fff 45.5px,#0081ff 62.5px,#0076ff 86.5px)"></i><i style="left:68px;background:linear-gradient(#00ff0b 0.5px,#00ff71 18.5px,#00fbff 29.5px,#00adff 34.5px,#008aff 37.5px,#006bff 41.5px,#005aff 45.5px,#0057ff 50.5px,#006aff 67.5px,#0067ff 86.5px)"></i><i style="left:70px;background:linear-gradient(#00ff07 0.5px,#00ff68 17.5px,#00ff95 21.5px,#00fffc 28.5px,#00f1ff 29.5px,#00acff 33.5px,#0076ff 37.5px,#05f 41.5px,#0043ff 45.5px,#0040ff 50.5px,#0054ff 59.5px,#005dff 68.5px,#005eff 86.5px)"></i><i style="left:72px;background:linear-gradient(#00ff06 0.5px,#00ff71 18.5px,#00ff95 21.5px,#00fffe 28.5px,#00a9ff 33.5px,#0072ff 37.5px,#0050ff 41.5px,#003eff 45.5px,#003bff 50.5px,#0051ff 59.5px,#005aff 68.5px,#005cff 86.5px)"></i><i style="left:74px;background:linear-gradient(#00ff06 0.5px,#00ff71 18.5px,#00ff95 21.5px,#00fffd 28.5px,#009bff 34.5px,#0075ff 37.5px,#0053ff 41.5px,#0041ff 45.5px,#003eff 50.5px,#0053ff 59.5px,#005cff 68.5px,#005eff 86.5px)"></i><i style="left:76px;background:linear-gradient(#00ff06 0.5px,#00ff68 17.5px,#00ff87 20.5px,#00fff7 28.5px,#00f7ff 29.5px,#00a5ff 34.5px,#0081ff 37.5px,#0061ff 41.5px,#0050ff 45.5px,#004dff 50.5px,#005dff 59.5px,#0064ff 68.5px,#0064ff 86.5px)"></i><i style="left:78px;background:linear-gradient(#00ff06 0.5px,#00ff68 17.5px,#00ff91 21.5px,#00fffb 29.5px,#00f3ff 30.5px,#00b7ff 34.5px,#0096ff 37.5px,#007bff 41.5px,#006bff 45.5px,#006eff 86.5px)"></i><i style="left:80px;background:linear-gradient(#00ff06 0.5px,#00ff70 18.5px,#0ff 30.5px,#00c6ff 34.5px,#00a8ff 37.5px,#0083ff 45.5px,#0078ff 86.5px)"></i><i style="left:82px;background:linear-gradient(#00ff06 0.5px,#00ff6f 18.5px,#00fffd 30.5px,#00c9ff 34.5px,#0af 37.5px,#0087ff 45.5px,#007aff 86.5px)"></i><i style="left:84px;background:linear-gradient(#00ff06 0.5px,#00ff6f 18.5px,#00fffd 30.5px,#00c7ff 34.5px,#00a8ff 37.5px,#0086ff 44.5px,#007aff 86.5px)"></i><i style="left:86px;background:linear-gradient(#00ff06 0.5px,#00ff6f 18.5px,#00fffe 30.5px,#00c5ff 34.5px,#00a4ff 37.5px,#0083ff 44.5px,#007aff 86.5px)"></i><i style="left:88px;background:linear-gradient(#00ff06 0.5px,#00ff6f 18.5px,#00ffca 26.5px,#0ff 30.5px,#00c2ff 34.5px,#00a1ff 37.5px,#008eff 40.5px,#0080ff 44.5px,#007aff 86.5px)"></i><i style="left:90px;background:linear-gradient(#00ff06 0.5px,#00ff6f 18.5px,#00feff 30.5px,#00c0ff 34.5px,#009eff 37.5px,#008aff 40.5px,#007dff 44.5px,#007aff 86.5px)"></i><i style="left:92px;background:linear-gradient(#00ff06 0.5px,#00ff6f 18.5px,#00fdff 30.5px,#00a5ff 36.5px,#008cff 39.5px,#007cff 43.5px,#007aff 86.5px)"></i><i style="left:94px;background:linear-gradient(#00ff06 0.5px,#00ff6f 18.5px,#00fcff 30.5px,#00bcff 34.5px,#0098ff 37.5px,#0083ff 40.5px,#0078ff 43.5px,#007aff 86.5px)"></i><i style="left:96px;background:linear-gradient(#00ff06 0.5px,#00ff6f 18.5px,#00fbff 30.5px,#00baff 34.5px,#0095ff 37.5px,#0080ff 40.5px,#0075ff 43.5px,#007aff 86.5px)"></i><i style="left:98px;background:linear-gradient(#00ff06 0.5px,#00ff6f 18.5px,#00faff 30.5px,#00b9ff 34.5px,#0094ff 37.5px,#007fff 40.5px,#0075ff 43.5px,#007aff 86.5px)"></i><i style="left:100px;background:linear-gradient(#00ff06 0.5px,#00ff6f 18.5px,#00ffbf 25.5px,#00fff5 29.5px,#00f9ff 30.5px,#00b8ff 34.5px,#0094ff 37.5px,#007fff 40.5px,#0075ff 43.5px,#007aff 86.5px)"></i><i style="left:102px;background:linear-gradient(#00ff06 0.5px,#00ff6f 18.5px,#00ffbf 25.5px,#00fff6 29.5px,#00f8ff 30.5px,#00b8ff 34.5px,#0094ff 37.5px,#007fff 40.5px,#0075ff 43.5px,#007aff 86.5px)"></i><i style="left:104px;background:linear-gradient(#00ff06 0.5px,#00ff6f 18.5px,#00ffb3 24.5px,#00fff6 29.5px,#00f8ff 30.5px,#00b7ff 34.5px,#0093ff 37.5px,#007fff 40.5px,#0075ff 43.5px,#007aff 86.5px)"></i><i style="left:106px;background:linear-gradient(#00ff06 0.5px,#00ff6f 18.5px,#00ffb3 24.5px,#00fff7 29.5px,#00f7ff 30.5px,#00b7ff 34.5px,#0094ff 37.5px,#007fff 40.5px,#0075ff 43.5px,#007aff 86.5px)"></i><i style="left:108px;background:linear-gradient(#00ff06 0.5px,#00ff6f 18.5px,#00faff 30.5px,#00beff 34.5px,#009cff 37.5px,#0087ff 40.5px,#007aff 44.5px,#007fff 86.5px)"></i><i style="left:110px;background:linear-gradient(#00ff06 0.5px,#00ff6f 18.5px,#00fbff 31.5px,#00b2ff 38.5px,#008eff 45.5px,#008fff 86.5px)"></i><i style="left:112px;background:linear-gradient(#00ff06 0.5px,#00ff67 17.5px,#00ffe0 29.5px,#00fbff 33.5px,#00b9ff 41.5px,#00a1ff 46.5px,#009fff 86.5px)"></i><i style="left:114px;background:linear-gradient(#00ff06 0.5px,#00ff6f 18.5px,#0ff 32.5px,#00b3ff 41.5px,#009bff 46.5px,#009cff 86.5px)"></i><i style="left:116px;background:linear-gradient(#00ff06 0.5px,#00ff70 18.5px,#00fffe 29.5px,#00cdff 33.5px,#009bff 38.5px,#007eff 42.5px,#0072ff 45.5px,#0080ff 86.5px)"></i><i style="left:118px;background:linear-gradient(#00ff06 0.5px,#00ff69 17.5px,#00ff8a 20.5px,#00fff5 27.5px,#00f7ff 28.5px,#00b2ff 32.5px,#007eff 36.5px,#005aff 40.5px,#0047ff 44.5px,#0046ff 48.5px,#005aff 60.5px,#0064ff 86.5px)"></i><i style="left:120px;background:linear-gradient(#00ff06 0.5px,#00ff69 17.5px,#00ff8b 20.5px,#00fffa 27.5px,#00f1ff 28.5px,#00a7ff 32.5px,#0070ff 36.5px,#004cff 40.5px,#003aff 44.5px,#003aff 48.5px,#0051ff 60.5px,#005cff 86.5px)"></i><i style="left:122px;background:linear-gradient(#00ff06 0.5px,#00ff69 17.5px,#00ff8b 20.5px,#00fffa 27.5px,#00f1ff 28.5px,#00a6ff 32.5px,#0070ff 36.5px,#004bff 40.5px,#0038ff 44.5px,#0038ff 48.5px,#0051ff 60.5px,#005cff 86.5px)"></i><i style="left:124px;background:linear-gradient(#00ff06 0.5px,#00ff69 17.5px,#00ff8b 20.5px,#00fffa 27.5px,#00f1ff 28.5px,#00a6ff 32.5px,#0070ff 36.5px,#004aff 40.5px,#0036ff 44.5px,#0036ff 48.5px,#0051ff 60.5px,#005cff 86.5px)"></i><i style="left:126px;background:linear-gradient(#00ff06 0.5px,#00ff69 17.5px,#00ff8b 20.5px,#00fffa 27.5px,#00f1ff 28.5px,#00a6ff 32.5px,#0070ff 36.5px,#0049ff 40.5px,#0035ff 44.5px,#0035ff 48.5px,#0051ff 60.5px,#005cff 86.5px)"></i><i style="left:128px;background:linear-gradient(#00ff06 0.5px,#00ff69 17.5px,#00ff8b 20.5px,#00fffa 27.5px,#00f1ff 28.5px,#00a6ff 32.5px,#006fff 36.5px,#0049ff 40.5px,#03f 44.5px,#03f 48.5px,#0051ff 60.5px,#005cff 86.5px)"></i><i style="left:130px;background:linear-gradient(#00ff06 0.5px,#00ff69 17.5px,#00ff8b 20.5px,#00fffa 27.5px,#00f1ff 28.5px,#00a6ff 32.5px,#006eff 36.5px,#0045ff 40.5px,#002eff 44.5px,#002eff 48.5px,#0050ff 60.5px,#005cff 86.5px)"></i><i style="left:132px;background:linear-gradient(#00ff06 0.5px,#00ff69 17.5px,#00ff8b 20.5px,#00fffa 27.5px,#00f1ff 28.5px,#0093ff 33.5px,#005bff 37.5px,#03f 41.5px,#001eff 45.5px,#02f 49.5px,#0050ff 60.5px,#005cff 86.5px)"></i><i style="left:134px;background:linear-gradient(#00ff06 0.5px,#00ff69 17.5px,#00ff8a 20.5px,#00fff9 27.5px,#00f2ff 28.5px,#0092ff 33.5px,#0056ff 37.5px,#002dff 41.5px,#0015ff 45.5px,#0018ff 49.5px,#0047ff 57.5px,#0050ff 60.5px,#005cff 86.5px)"></i><i style="left:136px;background:linear-gradient(#00ff06 0.5px,#00ff69 17.5px,#00ff89 20.5px,#00fff3 27.5px,#00f9ff 28.5px,#009aff 33.5px,#005fff 37.5px,#0038ff 41.5px,#0023ff 45.5px,#0026ff 49.5px,#0054ff 60.5px,#005cff 86.5px)"></i><i style="left:138px;background:linear-gradient(#00ff06 0.5px,#00ff68 17.5px,#0f8 20.5px,#00fffd 28.5px,#00a3ff 33.5px,#0076ff 36.5px,#004eff 40.5px,#0039ff 44.5px,#0038ff 48.5px,#0059ff 60.5px,#005cff 86.5px)"></i><i style="left:140px;background:linear-gradient(#00ff06 0.5px,#00ff68 17.5px,#0f8 20.5px,#00fff9 28.5px,#00f3ff 29.5px,#00a9ff 33.5px,#0071ff 37.5px,#0056ff 40.5px,#04f 44.5px,#04f 48.5px,#005bff 60.5px,#005cff 86.5px)"></i><i style="left:142px;background:linear-gradient(#00ff06 0.5px,#00ff68 17.5px,#0f8 20.5px,#00fff8 28.5px,#00f4ff 29.5px,#0af 33.5px,#007eff 36.5px,#0060ff 39.5px,#004aff 43.5px,#0046ff 47.5px,#005cff 60.5px,#005cff 86.5px)"></i><i style="left:144px;background:linear-gradient(#00ff06 0.5px,#00ff68 17.5px,#0f8 20.5px,#00fff8 28.5px,#00f4ff 29.5px,#0af 33.5px,#007eff 36.5px,#0060ff 39.5px,#004bff 43.5px,#0047ff 47.5px,#005cff 60.5px,#005cff 86.5px)"></i><i style="left:146px;background:linear-gradient(#00ff06 0.5px,#00ff68 17.5px,#0f8 20.5px,#00fff8 28.5px,#00f4ff 29.5px,#0af 33.5px,#007eff 36.5px,#0060ff 39.5px,#004bff 43.5px,#0047ff 47.5px,#005cff 60.5px,#005cff 86.5px)"></i><i style="left:148px;background:linear-gradient(#00ff06 0.5px,#00ff68 17.5px,#0f8 20.5px,#00fff8 28.5px,#00f4ff 29.5px,#0af 33.5px,#007eff 36.5px,#0060ff 39.5px,#004cff 43.5px,#0048ff 47.5px,#005cff 60.5px,#005cff 86.5px)"></i><i style="left:150px;background:linear-gradient(#00ff06 0.5px,#00ff68 17.5px,#0f8 20.5px,#00fff8 28.5px,#00f4ff 29.5px,#0af 33.5px,#007eff 36.5px,#0060ff 39.5px,#004cff 43.5px,#0049ff 47.5px,#005cff 60.5px,#005cff 86.5px)"></i><i style="left:152px;background:linear-gradient(#00ff06 0.5px,#00ff68 17.5px,#0f8 20.5px,#00fff8 28.5px,#00f5ff 29.5px,#0af 33.5px,#007fff 36.5px,#0061ff 39.5px,#004dff 43.5px,#0049ff 47.5px,#005cff 60.5px,#005cff 86.5px)"></i><i style="left:154px;background:linear-gradient(#00ff07 0.5px,#00ff68 17.5px,#00ff87 20.5px,#00fff4 28.5px,#00f9ff 29.5px,#00b2ff 33.5px,#08f 36.5px,#006aff 39.5px,#0054ff 43.5px,#0050ff 47.5px,#005fff 60.5px,#005eff 86.5px)"></i><i style="left:156px;background:linear-gradient(#00ff0c 0.5px,#00ff71 18.5px,#00fff6 29.5px,#00f9ff 30.5px,#00c1ff 34.5px,#0093ff 38.5px,#007aff 41.5px,#0067ff 45.5px,#06f 86.5px)"></i><i style="left:158px;background:linear-gradient(#00ff12 0.5px,#00ff70 18.5px,#00fffb 31.5px,#00f9ff 32.5px,#009cff 41.5px,#0080ff 46.5px,#006fff 86.5px)"></i><i style="left:160px;background:linear-gradient(#00ff18 0.5px,#00ff6b 17.5px,#00ffd1 28.5px,#00fbff 34.5px,#00aeff 42.5px,#0093ff 47.5px,#0084ff 59.5px,#0078ff 86.5px)"></i><i style="left:162px;background:linear-gradient(#00ff1d 0.5px,#00ff75 18.5px,#00ffc4 27.5px,#00fdff 35.5px,#00b9ff 43.5px,#00a1ff 48.5px,#008fff 59.5px,#007fff 86.5px)"></i><i style="left:164px;background:linear-gradient(#0f2 0.5px,#00ff78 18.5px,#00ffc1 27.5px,#00feff 36.5px,#00bdff 45.5px,#00abff 50.5px,#0098ff 60.5px,#0086ff 86.5px)"></i><i style="left:166px;background:linear-gradient(#00ff27 0.5px,#00ff7c 18.5px,#00ffc7 28.5px,#00feff 37.5px,#00c4ff 46.5px,#00a9ff 55.5px,#008cff 86.5px)"></i><i style="left:168px;background:linear-gradient(#00ff2c 0.5px,#00ff80 18.5px,#00ffd0 29.5px,#00fcff 37.5px,#00c5ff 46.5px,#00abff 55.5px,#0090ff 86.5px)"></i><i style="left:170px;background:linear-gradient(#00ff31 0.5px,#00ff83 18.5px,#00ffe2 31.5px,#00fcff 36.5px,#00c2ff 46.5px,#00acff 54.5px,#0094ff 86.5px)"></i><i style="left:172px;background:linear-gradient(#00ff35 0.5px,#00ff87 18.5px,#00fdff 35.5px,#00c3ff 45.5px,#00afff 52.5px,#00a3ff 60.5px,#0096ff 86.5px)"></i><i style="left:174px;background:linear-gradient(#00ff38 0.5px,#00ff8b 18.5px,#0ff 34.5px,#00c5ff 44.5px,#00b3ff 50.5px,#00a3ff 60.5px,#0098ff 86.5px)"></i><i style="left:176px;background:linear-gradient(#00ff39 0.5px,#00ff8f 18.5px,#00fcff 34.5px,#00c4ff 44.5px,#00b0ff 51.5px,#00a3ff 60.5px,#0098ff 86.5px)"></i><i style="left:178px;background:linear-gradient(#00ff39 0.5px,#00ff92 18.5px,#00fffe 33.5px,#00c3ff 44.5px,#00b2ff 50.5px,#00a3ff 60.5px,#0098ff 86.5px)"></i></div>
<div class="cb" style="top:24px;height:93px"></div><div class="cb" style="top:124px;height:94px"></div><div class="cb" style="top:225px;height:93px"></div>
<svg width="780" height="780" viewBox="0 0 780 780">
<rect x="503" y="127" width="1" height="8" fill="#fff"/>
<rect x="503" y="207" width="1" height="8" fill="#fff"/>
<rect x="503" y="228" width="1" height="8" fill="#fff"/>
<rect x="503" y="307" width="1" height="8" fill="#fff"/>
<g fill="none" stroke="#000" stroke-width="1" shape-rendering="crispEdges">
<polyline points="96.4,366.5 98.3,364.9 100.3,364.6 102.2,365.6 103.5,372.3 104.7,381.3 106.0,387.1 107.3,389.2 109.2,388.3 111.2,386.4 112.4,383.2 113.7,374.9 115.0,371.0 116.9,370.4 119.5,372.3 122.7,375.1 124.0,372.9 127.2,371.3 129.7,368.5 132.3,370.0 134.6,372.3 135.5,369.1 136.8,364.0 139.4,362.3 141.3,361.2 142.6,363.3 144.5,368.5 146.4,372.9 149.0,375.1 150.9,373.6 152.8,370.8 154.5,368.2 155.4,371.0 156.3,375.1 157.3,372.9 159.2,370.4 161.2,371.3 162.4,369.1 164.4,366.5 166.3,365.3 168.2,367.2 170.8,367.2 172.7,367.8 174.0,370.4 175.3,377.4 176.5,383.2 178.5,384.9 182.3,385.5 184.9,386.4 192.8,386.4 194.7,387.4 197.9,388.3 199.9,387.4 203.1,389.0 205.6,390.0 208.2,390.3 209.5,389.4 217.2,389.2 220.4,387.7 222.3,388.3 224.9,389.4 227.4,388.3 230.0,387.4 232.3,385.5 233.8,387.3 236.4,387.3 239.0,386.2 241.5,387.3 247.3,387.4 249.2,388.5 251.8,388.5 254.1,387.4 256.9,388.7 259.5,390.0 260.8,389.2 269.1,389.2 271.7,387.9 274.2,387.3 276.8,387.4 278.8,388.5 280.8,387.7 283.3,385.4 287.2,383.5 291.7,383.5 296.2,383.5 298.1,382.3 300.0,382.1 302.6,380.4 305.1,379.4 306.4,380.6 308.3,385.4 310.9,387.9 313.5,389.4 316.0,386.4 320.5,382.3 322.4,383.5 325.0,382.3 328.2,382.3 330.4,383.5 332.7,379.4 335.3,377.4 337.8,381.3 340.4,381.3 341.3,378.7 342.6,370.4 344.9,371.0 347.4,374.2 350.0,374.6 352.6,379.4 354.2,377.7 357.7,380.4 360.3,380.4 362.8,379.4 364.7,375.5 367.3,376.4 369.9,376.8 371.8,377.7"/>
<polyline points="502.1,353.3 504.0,352.4 506.5,353.7 509.1,357.2 512.3,359.2 514.5,360.4 516.2,357.3 518.7,357.2 520.6,358.8 522.6,365.3 524.5,372.3 525.8,373.3 528.6,373.6 531.5,376.2 533.2,374.5 536.0,374.5 540.5,376.8 542.4,381.3 544.4,384.5 547.3,385.4 548.8,383.8 550.4,380.4 552.9,381.7 555.3,386.0 557.8,384.9 560.4,384.5 564.2,380.6 568.1,381.3 570.6,385.4 575.1,389.0 579.6,389.6 583.5,390.3 586.7,389.6 589.9,388.5 595.8,388.3 598.3,386.4 604.7,386.2 607.3,385.4 609.2,386.4 612.4,389.2 615.0,390.0 617.6,391.0 618.8,390.3 624.0,390.0 628.5,389.0 634.9,387.7 641.3,386.4 645.1,385.4 650.3,385.4 652.8,384.5 656.0,384.5 658.6,383.2 660.5,384.5 666.9,384.5 668.2,381.3 670.8,379.4 672.1,381.3 673.3,387.1 674.6,386.2 678.5,386.2 679.7,387.3 681.7,386.4 684.2,384.5"/>
<polyline points="96.4,465.9 100.3,464.0 102.8,463.1 105.4,462.3 106.4,465.3 107.7,469.5 109.2,465.3 110.8,467.8 112.4,470.8 116.3,467.2 120.8,462.1 125.3,456.3 127.4,451.5 129.1,453.3 134.2,453.3 137.4,456.3 141.3,459.5 144.5,455.6 146.4,455.3 148.3,457.6 150.3,460.1 154.1,461.2 156.4,457.3 158.6,458.2 159.9,462.7 161.5,467.4 163.7,462.7 166.9,460.1 169.5,458.5 171.4,458.5 173.3,461.2 179.7,461.4 182.9,461.2 185.5,464.4 188.1,466.2 190.9,465.3 193.5,465.5 196.0,467.2 198.6,471.0 200.5,476.4 201.8,472.9 203.3,469.5 205.6,471.0 208.2,471.3 211.4,469.5 220.4,469.5 222.9,472.1 225.5,473.6 228.1,473.6 231.3,471.4 234.5,471.3 237.1,470.4 238.3,473.6 239.6,477.2 242.8,476.5 246.7,475.5 249.2,477.4 252.1,478.7 255.6,475.5 258.8,474.5 261.4,473.3 265.3,475.3 269.1,475.3 271.0,472.9 274.9,471.7 276.5,467.4 278.8,468.5 281.4,467.2 283.3,462.7 291.0,462.3 292.9,461.4 296.2,461.2 298.1,460.4 300.6,461.4 308.3,461.4 310.9,462.7 313.1,463.6 316.0,462.7 319.2,460.8 322.4,459.7 325.6,457.3 327.8,458.2 330.1,459.7 332.7,457.3 335.3,456.5 336.5,458.5 337.8,460.8 340.4,459.7 342.6,455.6 350.0,455.4 351.9,456.7 354.2,457.6 357.1,455.6 359.0,454.4 362.8,453.3 365.4,453.5 367.3,454.4 369.9,454.6 371.8,455.6"/>
<polyline points="502.1,472.6 505.0,471.0 507.2,467.2 509.7,464.4 512.9,463.6 514.5,462.3 516.2,468.2 518.7,467.2 521.9,463.1 524.7,460.4 526.8,461.2 528.6,457.6 530.9,459.2 533.5,459.7 536.7,462.3 540.9,462.4 542.4,464.9 543.7,468.5 546.3,465.5 548.6,467.8 550.8,475.1 552.9,476.5 554.6,474.2 556.5,470.0 559.1,465.9 561.7,464.4 563.6,462.7 566.8,464.0 570.0,465.6 571.9,463.6 573.8,461.4 575.1,462.3 578.3,460.4 580.6,460.5 582.8,464.0 585.0,465.5 586.7,462.7 588.6,459.7 591.2,458.5 597.1,458.5 599.0,457.3 601.5,458.5 605.4,458.2 607.3,457.3 609.9,458.8 613.1,462.3 615.6,464.6 617.6,465.5 620.8,464.4 625.3,461.4 628.5,461.2 631.0,460.4 634.2,460.4 636.2,461.4 639.4,461.4 641.3,460.4 646.4,460.4 648.7,458.2 650.9,459.5 652.8,458.5 659.2,458.2 661.2,457.3 663.1,458.5 666.9,458.5 668.5,462.7 671.0,459.7 673.3,462.1 675.3,460.4 677.8,462.7 680.4,465.3 682.6,463.1 684.2,463.1"/>
<polyline points="96.4,557.3 99.6,558.2 102.2,560.8 103.5,563.6 104.7,569.1 106.0,573.6 107.7,577.7 109.2,568.5 111.2,565.3 112.8,561.4 114.4,555.4 116.3,554.1 119.5,553.5 121.4,555.0 124.6,558.2 125.9,562.1 127.4,569.1 129.7,568.5 132.3,571.0 134.6,573.6 136.4,569.7 139.4,570.8 140.3,574.2 141.5,577.4 143.8,576.2 146.2,574.5 147.9,576.2 149.6,578.7 150.9,573.6 152.8,565.9 154.4,561.2 156.3,568.5 159.2,564.0 161.5,560.4 163.7,562.1 166.3,562.9 168.8,567.2 171.4,567.2 173.6,565.5 174.9,569.7 176.2,574.9 178.5,577.4 181.7,579.4 183.5,576.2 185.1,579.4 187.7,581.3 191.5,581.7 194.7,583.5 197.3,582.3 199.9,583.5 205.6,583.5 207.3,579.4 210.1,581.5 213.3,581.5 215.3,580.4 218.5,580.4 219.7,581.5 225.5,581.5 227.4,580.4 229.4,581.0 232.3,583.5 234.5,581.5 237.1,581.5 239.0,582.6 241.5,581.5 247.3,581.5 249.2,580.4 252.4,580.4 253.7,581.5 258.8,581.5 260.8,582.6 264.0,582.6 265.9,581.5 271.7,581.5 274.5,583.5 275.0,582.6 276.9,581.5 280.8,580.6 283.3,581.5 285.9,582.3 292.9,582.3 296.2,580.4 298.1,583.2 301.3,585.4 305.1,585.4 307.7,580.0 310.9,573.6 313.5,572.3 315.8,574.2 317.9,579.4 319.9,580.6 321.8,578.1 324.4,573.3 326.3,571.3 328.2,570.4 330.8,574.2 335.3,574.5 337.2,575.3 340.4,575.3 341.3,571.7 342.6,567.4 344.9,569.7 348.1,569.4 350.0,570.8 352.6,575.5 354.5,578.5 357.1,575.1 359.6,575.1 362.2,570.0 364.7,565.3 366.7,564.4 369.2,565.5 371.8,561.2"/>
<polyline points="502.1,572.6 504.6,572.1 507.8,570.1 510.4,569.1 512.9,569.7 514.9,571.3 516.8,573.6 518.7,572.6 521.3,572.3 523.8,569.1 526.4,565.3 528.6,570.4 530.9,569.1 533.5,566.5 536.3,559.5 539.2,560.8 541.4,563.6 542.4,571.0 543.7,581.5 545.6,577.7 548.2,577.7 549.5,581.3 551.4,585.1 553.6,586.4 555.9,581.9 558.5,576.8 560.6,570.4 562.3,577.4 564.2,582.6 566.2,585.4 568.1,586.4 570.0,584.9 572.6,580.0 575.1,579.4 577.7,576.4 579.9,575.5 582.2,578.3 584.7,578.5 587.3,576.4 591.2,574.5 592.6,574.5 595.8,574.2 597.7,573.3 599.6,573.6 602.8,575.5 604.7,575.1 607.3,572.3 609.5,569.4 612.4,573.3 614.4,571.7 616.9,570.8 619.5,567.4 622.7,570.4 626.5,573.3 630.4,575.1 634.2,575.3 636.8,577.4 640.0,575.5 643.8,574.5 648.3,575.5 651.5,577.2 653.5,576.4 657.9,579.4 661.2,577.4 663.7,575.1 666.5,575.1 667.6,568.5 668.5,561.2 671.0,560.4 672.3,565.9 673.6,572.3 675.9,576.2 678.5,580.6 680.4,585.4 682.3,584.5 684.2,582.6"/>
<polyline points="96.4,703.7 99.6,702.3 102.2,703.3 104.7,702.1 106.7,700.4 109.2,701.4 111.8,702.4 114.4,702.4 116.3,701.4 118.5,699.5 127.2,699.5 128.5,700.4 131.0,701.4 137.4,701.4 138.7,702.3 142.6,702.4 143.8,703.6 145.8,702.4 148.3,703.6 150.3,705.3 151.5,708.2 153.1,706.5 154.1,704.4 158.6,704.4 159.9,705.5 161.5,707.4 163.1,704.4 166.3,704.4 167.6,705.3 171.4,705.3 173.3,707.4 175.3,704.6 178.2,701.4 180.0,701.4 186.4,701.4 187.7,700.4 193.5,700.4 194.7,699.5 198.6,699.5 199.9,698.5 205.6,698.5 206.9,699.5 218.5,699.5 219.7,700.4 223.6,700.4 224.9,699.5 226.2,700.4 228.7,700.4 230.0,701.4 232.6,701.4 233.8,700.4 247.3,700.4 248.6,699.5 257.6,699.5 258.8,698.5 267.8,698.5 269.1,699.5 270.4,700.4 275.0,700.4 291.7,700.4 292.9,701.4 296.2,701.4 297.4,700.4 306.4,700.4 307.9,701.4 309.4,700.4 316.7,700.4 317.9,701.4 321.2,701.4 322.7,702.4 324.4,701.4 328.2,701.4 329.5,702.4 335.3,702.4 336.5,703.6 337.8,704.6 339.7,703.6 341.0,702.4 350.6,702.4 351.9,701.4 353.8,702.4 357.1,700.8 358.3,699.5 367.3,699.5 368.8,700.4 370.5,699.5 371.8,699.5"/>
<polyline points="502.1,701.4 504.0,700.4 507.8,702.3 510.4,704.4 517.4,704.4 518.7,705.3 522.6,705.5 525.8,707.4 528.3,705.5 533.5,705.3 536.0,703.6 538.6,703.6 541.2,705.3 543.5,703.3 550.1,703.3 552.7,702.1 555.0,700.4 557.2,702.7 559.7,705.5 561.7,704.4 565.5,700.5 568.7,700.4 571.9,699.2 574.5,697.6 583.5,697.6 584.7,698.5 587.9,698.5 589.9,697.6 595.1,697.6 596.4,698.5 607.3,698.5 608.6,699.5 615.0,699.5 616.3,698.5 627.2,698.5 628.5,699.5 637.4,699.5 638.7,700.4 649.6,700.4 650.9,699.5 652.2,700.4 659.9,700.4 661.2,699.5 662.4,700.4 666.3,700.5 668.5,702.3 670.1,700.8 672.1,700.4 679.7,700.4 681.0,698.5 682.9,699.5 684.2,700.4"/>
</g>
<g shape-rendering="crispEdges">
<rect x="96" y="23" width="589" height="1" fill="#000"/>
<rect x="96" y="117" width="589" height="1" fill="#000"/>
<rect x="96" y="23" width="1" height="95" fill="#000"/>
<rect x="684" y="23" width="1" height="95" fill="#000"/>
<rect x="121" y="24" width="1" height="1" fill="#000"/>
<rect x="121" y="116" width="1" height="1" fill="#000"/>
<rect x="145" y="24" width="1" height="1" fill="#000"/>
<rect x="145" y="116" width="1" height="1" fill="#000"/>
<rect x="170" y="24" width="1" height="1" fill="#000"/>
<rect x="170" y="116" width="1" height="1" fill="#000"/>
<rect x="194" y="24" width="1" height="1" fill="#000"/>
<rect x="194" y="116" width="1" height="1" fill="#000"/>
<rect x="218" y="24" width="1" height="1" fill="#000"/>
<rect x="218" y="116" width="1" height="1" fill="#000"/>
<rect x="243" y="24" width="1" height="1" fill="#000"/>
<rect x="243" y="116" width="1" height="1" fill="#000"/>
<rect x="268" y="24" width="1" height="1" fill="#000"/>
<rect x="268" y="116" width="1" height="1" fill="#000"/>
<rect x="292" y="24" width="1" height="2" fill="#000"/>
<rect x="292" y="115" width="1" height="2" fill="#000"/>
<rect x="317" y="24" width="1" height="1" fill="#000"/>
<rect x="317" y="116" width="1" height="1" fill="#000"/>
<rect x="341" y="24" width="1" height="1" fill="#000"/>
<rect x="341" y="116" width="1" height="1" fill="#000"/>
<rect x="366" y="24" width="1" height="1" fill="#000"/>
<rect x="366" y="116" width="1" height="1" fill="#000"/>
<rect x="390" y="24" width="1" height="1" fill="#000"/>
<rect x="390" y="116" width="1" height="1" fill="#000"/>
<rect x="415" y="24" width="1" height="1" fill="#000"/>
<rect x="415" y="116" width="1" height="1" fill="#000"/>
<rect x="439" y="24" width="1" height="1" fill="#000"/>
<rect x="439" y="116" width="1" height="1" fill="#000"/>
<rect x="464" y="24" width="1" height="1" fill="#000"/>
<rect x="464" y="116" width="1" height="1" fill="#000"/>
<rect x="488" y="24" width="1" height="2" fill="#000"/>
<rect x="488" y="115" width="1" height="2" fill="#000"/>
<rect x="513" y="24" width="1" height="1" fill="#000"/>
<rect x="513" y="116" width="1" height="1" fill="#000"/>
<rect x="537" y="24" width="1" height="1" fill="#000"/>
<rect x="537" y="116" width="1" height="1" fill="#000"/>
<rect x="562" y="24" width="1" height="1" fill="#000"/>
<rect x="562" y="116" width="1" height="1" fill="#000"/>
<rect x="586" y="24" width="1" height="1" fill="#000"/>
<rect x="586" y="116" width="1" height="1" fill="#000"/>
<rect x="611" y="24" width="1" height="1" fill="#000"/>
<rect x="611" y="116" width="1" height="1" fill="#000"/>
<rect x="635" y="24" width="1" height="1" fill="#000"/>
<rect x="635" y="116" width="1" height="1" fill="#000"/>
<rect x="660" y="24" width="1" height="1" fill="#000"/>
<rect x="660" y="116" width="1" height="1" fill="#000"/>
<rect x="96" y="123" width="589" height="1" fill="#000"/>
<rect x="96" y="218" width="589" height="1" fill="#000"/>
<rect x="96" y="123" width="1" height="96" fill="#000"/>
<rect x="684" y="123" width="1" height="96" fill="#000"/>
<rect x="121" y="124" width="1" height="1" fill="#000"/>
<rect x="121" y="217" width="1" height="1" fill="#000"/>
<rect x="145" y="124" width="1" height="1" fill="#000"/>
<rect x="145" y="217" width="1" height="1" fill="#000"/>
<rect x="170" y="124" width="1" height="1" fill="#000"/>
<rect x="170" y="217" width="1" height="1" fill="#000"/>
<rect x="194" y="124" width="1" height="1" fill="#000"/>
<rect x="194" y="217" width="1" height="1" fill="#000"/>
<rect x="218" y="124" width="1" height="1" fill="#000"/>
<rect x="218" y="217" width="1" height="1" fill="#000"/>
<rect x="243" y="124" width="1" height="1" fill="#000"/>
<rect x="243" y="217" width="1" height="1" fill="#000"/>
<rect x="268" y="124" width="1" height="1" fill="#000"/>
<rect x="268" y="217" width="1" height="1" fill="#000"/>
<rect x="292" y="124" width="1" height="2" fill="#000"/>
<rect x="292" y="216" width="1" height="2" fill="#000"/>
<rect x="317" y="124" width="1" height="1" fill="#000"/>
<rect x="317" y="217" width="1" height="1" fill="#000"/>
<rect x="341" y="124" width="1" height="1" fill="#000"/>
<rect x="341" y="217" width="1" height="1" fill="#000"/>
<rect x="366" y="124" width="1" height="1" fill="#000"/>
<rect x="366" y="217" width="1" height="1" fill="#000"/>
<rect x="390" y="124" width="1" height="1" fill="#000"/>
<rect x="390" y="217" width="1" height="1" fill="#000"/>
<rect x="415" y="124" width="1" height="1" fill="#000"/>
<rect x="415" y="217" width="1" height="1" fill="#000"/>
<rect x="439" y="124" width="1" height="1" fill="#000"/>
<rect x="439" y="217" width="1" height="1" fill="#000"/>
<rect x="464" y="124" width="1" height="1" fill="#000"/>
<rect x="464" y="217" width="1" height="1" fill="#000"/>
<rect x="488" y="124" width="1" height="2" fill="#000"/>
<rect x="488" y="216" width="1" height="2" fill="#000"/>
<rect x="513" y="124" width="1" height="1" fill="#000"/>
<rect x="513" y="217" width="1" height="1" fill="#000"/>
<rect x="537" y="124" width="1" height="1" fill="#000"/>
<rect x="537" y="217" width="1" height="1" fill="#000"/>
<rect x="562" y="124" width="1" height="1" fill="#000"/>
<rect x="562" y="217" width="1" height="1" fill="#000"/>
<rect x="586" y="124" width="1" height="1" fill="#000"/>
<rect x="586" y="217" width="1" height="1" fill="#000"/>
<rect x="611" y="124" width="1" height="1" fill="#000"/>
<rect x="611" y="217" width="1" height="1" fill="#000"/>
<rect x="635" y="124" width="1" height="1" fill="#000"/>
<rect x="635" y="217" width="1" height="1" fill="#000"/>
<rect x="660" y="124" width="1" height="1" fill="#000"/>
<rect x="660" y="217" width="1" height="1" fill="#000"/>
<rect x="96" y="224" width="589" height="1" fill="#000"/>
<rect x="96" y="318" width="589" height="1" fill="#000"/>
<rect x="96" y="224" width="1" height="95" fill="#000"/>
<rect x="684" y="224" width="1" height="95" fill="#000"/>
<rect x="121" y="225" width="1" height="1" fill="#000"/>
<rect x="121" y="317" width="1" height="1" fill="#000"/>
<rect x="145" y="225" width="1" height="1" fill="#000"/>
<rect x="145" y="317" width="1" height="1" fill="#000"/>
<rect x="170" y="225" width="1" height="1" fill="#000"/>
<rect x="170" y="317" width="1" height="1" fill="#000"/>
<rect x="194" y="225" width="1" height="1" fill="#000"/>
<rect x="194" y="317" width="1" height="1" fill="#000"/>
<rect x="218" y="225" width="1" height="1" fill="#000"/>
<rect x="218" y="317" width="1" height="1" fill="#000"/>
<rect x="243" y="225" width="1" height="1" fill="#000"/>
<rect x="243" y="317" width="1" height="1" fill="#000"/>
<rect x="268" y="225" width="1" height="1" fill="#000"/>
<rect x="268" y="317" width="1" height="1" fill="#000"/>
<rect x="292" y="225" width="1" height="2" fill="#000"/>
<rect x="292" y="316" width="1" height="2" fill="#000"/>
<rect x="317" y="225" width="1" height="1" fill="#000"/>
<rect x="317" y="317" width="1" height="1" fill="#000"/>
<rect x="341" y="225" width="1" height="1" fill="#000"/>
<rect x="341" y="317" width="1" height="1" fill="#000"/>
<rect x="366" y="225" width="1" height="1" fill="#000"/>
<rect x="366" y="317" width="1" height="1" fill="#000"/>
<rect x="390" y="225" width="1" height="1" fill="#000"/>
<rect x="390" y="317" width="1" height="1" fill="#000"/>
<rect x="415" y="225" width="1" height="1" fill="#000"/>
<rect x="415" y="317" width="1" height="1" fill="#000"/>
<rect x="439" y="225" width="1" height="1" fill="#000"/>
<rect x="439" y="317" width="1" height="1" fill="#000"/>
<rect x="464" y="225" width="1" height="1" fill="#000"/>
<rect x="464" y="317" width="1" height="1" fill="#000"/>
<rect x="488" y="225" width="1" height="2" fill="#000"/>
<rect x="488" y="316" width="1" height="2" fill="#000"/>
<rect x="513" y="225" width="1" height="1" fill="#000"/>
<rect x="513" y="317" width="1" height="1" fill="#000"/>
<rect x="537" y="225" width="1" height="1" fill="#000"/>
<rect x="537" y="317" width="1" height="1" fill="#000"/>
<rect x="562" y="225" width="1" height="1" fill="#000"/>
<rect x="562" y="317" width="1" height="1" fill="#000"/>
<rect x="586" y="225" width="1" height="1" fill="#000"/>
<rect x="586" y="317" width="1" height="1" fill="#000"/>
<rect x="611" y="225" width="1" height="1" fill="#000"/>
<rect x="611" y="317" width="1" height="1" fill="#000"/>
<rect x="635" y="225" width="1" height="1" fill="#000"/>
<rect x="635" y="317" width="1" height="1" fill="#000"/>
<rect x="660" y="225" width="1" height="1" fill="#000"/>
<rect x="660" y="317" width="1" height="1" fill="#000"/>
<rect x="96" y="324" width="589" height="1" fill="#000"/>
<rect x="96" y="418" width="589" height="1" fill="#000"/>
<rect x="96" y="324" width="1" height="95" fill="#000"/>
<rect x="684" y="324" width="1" height="95" fill="#000"/>
<rect x="121" y="325" width="1" height="1" fill="#000"/>
<rect x="121" y="417" width="1" height="1" fill="#000"/>
<rect x="145" y="325" width="1" height="1" fill="#000"/>
<rect x="145" y="417" width="1" height="1" fill="#000"/>
<rect x="170" y="325" width="1" height="1" fill="#000"/>
<rect x="170" y="417" width="1" height="1" fill="#000"/>
<rect x="194" y="325" width="1" height="1" fill="#000"/>
<rect x="194" y="417" width="1" height="1" fill="#000"/>
<rect x="218" y="325" width="1" height="1" fill="#000"/>
<rect x="218" y="417" width="1" height="1" fill="#000"/>
<rect x="243" y="325" width="1" height="1" fill="#000"/>
<rect x="243" y="417" width="1" height="1" fill="#000"/>
<rect x="268" y="325" width="1" height="1" fill="#000"/>
<rect x="268" y="417" width="1" height="1" fill="#000"/>
<rect x="292" y="325" width="1" height="2" fill="#000"/>
<rect x="292" y="416" width="1" height="2" fill="#000"/>
<rect x="317" y="325" width="1" height="1" fill="#000"/>
<rect x="317" y="417" width="1" height="1" fill="#000"/>
<rect x="341" y="325" width="1" height="1" fill="#000"/>
<rect x="341" y="417" width="1" height="1" fill="#000"/>
<rect x="366" y="325" width="1" height="1" fill="#000"/>
<rect x="366" y="417" width="1" height="1" fill="#000"/>
<rect x="390" y="325" width="1" height="1" fill="#000"/>
<rect x="390" y="417" width="1" height="1" fill="#000"/>
<rect x="415" y="325" width="1" height="1" fill="#000"/>
<rect x="415" y="417" width="1" height="1" fill="#000"/>
<rect x="439" y="325" width="1" height="1" fill="#000"/>
<rect x="439" y="417" width="1" height="1" fill="#000"/>
<rect x="464" y="325" width="1" height="1" fill="#000"/>
<rect x="464" y="417" width="1" height="1" fill="#000"/>
<rect x="488" y="325" width="1" height="2" fill="#000"/>
<rect x="488" y="416" width="1" height="2" fill="#000"/>
<rect x="513" y="325" width="1" height="1" fill="#000"/>
<rect x="513" y="417" width="1" height="1" fill="#000"/>
<rect x="537" y="325" width="1" height="1" fill="#000"/>
<rect x="537" y="417" width="1" height="1" fill="#000"/>
<rect x="562" y="325" width="1" height="1" fill="#000"/>
<rect x="562" y="417" width="1" height="1" fill="#000"/>
<rect x="586" y="325" width="1" height="1" fill="#000"/>
<rect x="586" y="417" width="1" height="1" fill="#000"/>
<rect x="611" y="325" width="1" height="1" fill="#000"/>
<rect x="611" y="417" width="1" height="1" fill="#000"/>
<rect x="635" y="325" width="1" height="1" fill="#000"/>
<rect x="635" y="417" width="1" height="1" fill="#000"/>
<rect x="660" y="325" width="1" height="1" fill="#000"/>
<rect x="660" y="417" width="1" height="1" fill="#000"/>
<rect x="96" y="424" width="589" height="1" fill="#000"/>
<rect x="96" y="518" width="589" height="1" fill="#000"/>
<rect x="96" y="424" width="1" height="95" fill="#000"/>
<rect x="684" y="424" width="1" height="95" fill="#000"/>
<rect x="121" y="425" width="1" height="1" fill="#000"/>
<rect x="121" y="517" width="1" height="1" fill="#000"/>
<rect x="145" y="425" width="1" height="1" fill="#000"/>
<rect x="145" y="517" width="1" height="1" fill="#000"/>
<rect x="170" y="425" width="1" height="1" fill="#000"/>
<rect x="170" y="517" width="1" height="1" fill="#000"/>
<rect x="194" y="425" width="1" height="1" fill="#000"/>
<rect x="194" y="517" width="1" height="1" fill="#000"/>
<rect x="218" y="425" width="1" height="1" fill="#000"/>
<rect x="218" y="517" width="1" height="1" fill="#000"/>
<rect x="243" y="425" width="1" height="1" fill="#000"/>
<rect x="243" y="517" width="1" height="1" fill="#000"/>
<rect x="268" y="425" width="1" height="1" fill="#000"/>
<rect x="268" y="517" width="1" height="1" fill="#000"/>
<rect x="292" y="425" width="1" height="2" fill="#000"/>
<rect x="292" y="516" width="1" height="2" fill="#000"/>
<rect x="317" y="425" width="1" height="1" fill="#000"/>
<rect x="317" y="517" width="1" height="1" fill="#000"/>
<rect x="341" y="425" width="1" height="1" fill="#000"/>
<rect x="341" y="517" width="1" height="1" fill="#000"/>
<rect x="366" y="425" width="1" height="1" fill="#000"/>
<rect x="366" y="517" width="1" height="1" fill="#000"/>
<rect x="390" y="425" width="1" height="1" fill="#000"/>
<rect x="390" y="517" width="1" height="1" fill="#000"/>
<rect x="415" y="425" width="1" height="1" fill="#000"/>
<rect x="415" y="517" width="1" height="1" fill="#000"/>
<rect x="439" y="425" width="1" height="1" fill="#000"/>
<rect x="439" y="517" width="1" height="1" fill="#000"/>
<rect x="464" y="425" width="1" height="1" fill="#000"/>
<rect x="464" y="517" width="1" height="1" fill="#000"/>
<rect x="488" y="425" width="1" height="2" fill="#000"/>
<rect x="488" y="516" width="1" height="2" fill="#000"/>
<rect x="513" y="425" width="1" height="1" fill="#000"/>
<rect x="513" y="517" width="1" height="1" fill="#000"/>
<rect x="537" y="425" width="1" height="1" fill="#000"/>
<rect x="537" y="517" width="1" height="1" fill="#000"/>
<rect x="562" y="425" width="1" height="1" fill="#000"/>
<rect x="562" y="517" width="1" height="1" fill="#000"/>
<rect x="586" y="425" width="1" height="1" fill="#000"/>
<rect x="586" y="517" width="1" height="1" fill="#000"/>
<rect x="611" y="425" width="1" height="1" fill="#000"/>
<rect x="611" y="517" width="1" height="1" fill="#000"/>
<rect x="635" y="425" width="1" height="1" fill="#000"/>
<rect x="635" y="517" width="1" height="1" fill="#000"/>
<rect x="660" y="425" width="1" height="1" fill="#000"/>
<rect x="660" y="517" width="1" height="1" fill="#000"/>
<rect x="96" y="524" width="589" height="1" fill="#000"/>
<rect x="96" y="619" width="589" height="1" fill="#000"/>
<rect x="96" y="524" width="1" height="96" fill="#000"/>
<rect x="684" y="524" width="1" height="96" fill="#000"/>
<rect x="121" y="525" width="1" height="1" fill="#000"/>
<rect x="121" y="618" width="1" height="1" fill="#000"/>
<rect x="145" y="525" width="1" height="1" fill="#000"/>
<rect x="145" y="618" width="1" height="1" fill="#000"/>
<rect x="170" y="525" width="1" height="1" fill="#000"/>
<rect x="170" y="618" width="1" height="1" fill="#000"/>
<rect x="194" y="525" width="1" height="1" fill="#000"/>
<rect x="194" y="618" width="1" height="1" fill="#000"/>
<rect x="218" y="525" width="1" height="1" fill="#000"/>
<rect x="218" y="618" width="1" height="1" fill="#000"/>
<rect x="243" y="525" width="1" height="1" fill="#000"/>
<rect x="243" y="618" width="1" height="1" fill="#000"/>
<rect x="268" y="525" width="1" height="1" fill="#000"/>
<rect x="268" y="618" width="1" height="1" fill="#000"/>
<rect x="292" y="525" width="1" height="2" fill="#000"/>
<rect x="292" y="617" width="1" height="2" fill="#000"/>
<rect x="317" y="525" width="1" height="1" fill="#000"/>
<rect x="317" y="618" width="1" height="1" fill="#000"/>
<rect x="341" y="525" width="1" height="1" fill="#000"/>
<rect x="341" y="618" width="1" height="1" fill="#000"/>
<rect x="366" y="525" width="1" height="1" fill="#000"/>
<rect x="366" y="618" width="1" height="1" fill="#000"/>
<rect x="390" y="525" width="1" height="1" fill="#000"/>
<rect x="390" y="618" width="1" height="1" fill="#000"/>
<rect x="415" y="525" width="1" height="1" fill="#000"/>
<rect x="415" y="618" width="1" height="1" fill="#000"/>
<rect x="439" y="525" width="1" height="1" fill="#000"/>
<rect x="439" y="618" width="1" height="1" fill="#000"/>
<rect x="464" y="525" width="1" height="1" fill="#000"/>
<rect x="464" y="618" width="1" height="1" fill="#000"/>
<rect x="488" y="525" width="1" height="2" fill="#000"/>
<rect x="488" y="617" width="1" height="2" fill="#000"/>
<rect x="513" y="525" width="1" height="1" fill="#000"/>
<rect x="513" y="618" width="1" height="1" fill="#000"/>
<rect x="537" y="525" width="1" height="1" fill="#000"/>
<rect x="537" y="618" width="1" height="1" fill="#000"/>
<rect x="562" y="525" width="1" height="1" fill="#000"/>
<rect x="562" y="618" width="1" height="1" fill="#000"/>
<rect x="586" y="525" width="1" height="1" fill="#000"/>
<rect x="586" y="618" width="1" height="1" fill="#000"/>
<rect x="611" y="525" width="1" height="1" fill="#000"/>
<rect x="611" y="618" width="1" height="1" fill="#000"/>
<rect x="635" y="525" width="1" height="1" fill="#000"/>
<rect x="635" y="618" width="1" height="1" fill="#000"/>
<rect x="660" y="525" width="1" height="1" fill="#000"/>
<rect x="660" y="618" width="1" height="1" fill="#000"/>
<rect x="96" y="625" width="589" height="1" fill="#000"/>
<rect x="96" y="719" width="589" height="1" fill="#000"/>
<rect x="96" y="625" width="1" height="95" fill="#000"/>
<rect x="684" y="625" width="1" height="95" fill="#000"/>
<rect x="121" y="626" width="1" height="1" fill="#000"/>
<rect x="121" y="718" width="1" height="1" fill="#000"/>
<rect x="145" y="626" width="1" height="1" fill="#000"/>
<rect x="145" y="718" width="1" height="1" fill="#000"/>
<rect x="170" y="626" width="1" height="1" fill="#000"/>
<rect x="170" y="718" width="1" height="1" fill="#000"/>
<rect x="194" y="626" width="1" height="1" fill="#000"/>
<rect x="194" y="718" width="1" height="1" fill="#000"/>
<rect x="218" y="626" width="1" height="1" fill="#000"/>
<rect x="218" y="718" width="1" height="1" fill="#000"/>
<rect x="243" y="626" width="1" height="1" fill="#000"/>
<rect x="243" y="718" width="1" height="1" fill="#000"/>
<rect x="268" y="626" width="1" height="1" fill="#000"/>
<rect x="268" y="718" width="1" height="1" fill="#000"/>
<rect x="292" y="626" width="1" height="2" fill="#000"/>
<rect x="292" y="717" width="1" height="2" fill="#000"/>
<rect x="317" y="626" width="1" height="1" fill="#000"/>
<rect x="317" y="718" width="1" height="1" fill="#000"/>
<rect x="341" y="626" width="1" height="1" fill="#000"/>
<rect x="341" y="718" width="1" height="1" fill="#000"/>
<rect x="366" y="626" width="1" height="1" fill="#000"/>
<rect x="366" y="718" width="1" height="1" fill="#000"/>
<rect x="390" y="626" width="1" height="1" fill="#000"/>
<rect x="390" y="718" width="1" height="1" fill="#000"/>
<rect x="415" y="626" width="1" height="1" fill="#000"/>
<rect x="415" y="718" width="1" height="1" fill="#000"/>
<rect x="439" y="626" width="1" height="1" fill="#000"/>
<rect x="439" y="718" width="1" height="1" fill="#000"/>
<rect x="464" y="626" width="1" height="1" fill="#000"/>
<rect x="464" y="718" width="1" height="1" fill="#000"/>
<rect x="488" y="626" width="1" height="2" fill="#000"/>
<rect x="488" y="717" width="1" height="2" fill="#000"/>
<rect x="513" y="626" width="1" height="1" fill="#000"/>
<rect x="513" y="718" width="1" height="1" fill="#000"/>
<rect x="537" y="626" width="1" height="1" fill="#000"/>
<rect x="537" y="718" width="1" height="1" fill="#000"/>
<rect x="562" y="626" width="1" height="1" fill="#000"/>
<rect x="562" y="718" width="1" height="1" fill="#000"/>
<rect x="586" y="626" width="1" height="1" fill="#000"/>
<rect x="586" y="718" width="1" height="1" fill="#000"/>
<rect x="611" y="626" width="1" height="1" fill="#000"/>
<rect x="611" y="718" width="1" height="1" fill="#000"/>
<rect x="635" y="626" width="1" height="1" fill="#000"/>
<rect x="635" y="718" width="1" height="1" fill="#000"/>
<rect x="660" y="626" width="1" height="1" fill="#000"/>
<rect x="660" y="718" width="1" height="1" fill="#000"/>
<rect x="96" y="45" width="13" height="1" fill="#000"/>
<rect x="672" y="45" width="13" height="1" fill="#000"/>
<rect x="96" y="95" width="7" height="1" fill="#000"/>
<rect x="678" y="95" width="7" height="1" fill="#000"/>
<rect x="96" y="83" width="7" height="1" fill="#000"/>
<rect x="678" y="83" width="7" height="1" fill="#000"/>
<rect x="96" y="74" width="7" height="1" fill="#000"/>
<rect x="678" y="74" width="7" height="1" fill="#000"/>
<rect x="96" y="67" width="7" height="1" fill="#000"/>
<rect x="678" y="67" width="7" height="1" fill="#000"/>
<rect x="96" y="61" width="7" height="1" fill="#000"/>
<rect x="678" y="61" width="7" height="1" fill="#000"/>
<rect x="96" y="56" width="7" height="1" fill="#000"/>
<rect x="678" y="56" width="7" height="1" fill="#000"/>
<rect x="96" y="52" width="7" height="1" fill="#000"/>
<rect x="678" y="52" width="7" height="1" fill="#000"/>
<rect x="96" y="48" width="7" height="1" fill="#000"/>
<rect x="678" y="48" width="7" height="1" fill="#000"/>
<rect x="96" y="191" width="13" height="1" fill="#000"/>
<rect x="672" y="191" width="13" height="1" fill="#000"/>
<rect x="96" y="165" width="13" height="1" fill="#000"/>
<rect x="672" y="165" width="13" height="1" fill="#000"/>
<rect x="96" y="139" width="13" height="1" fill="#000"/>
<rect x="672" y="139" width="13" height="1" fill="#000"/>
<rect x="96" y="212" width="7" height="1" fill="#000"/>
<rect x="678" y="212" width="7" height="1" fill="#000"/>
<rect x="96" y="207" width="7" height="1" fill="#000"/>
<rect x="678" y="207" width="7" height="1" fill="#000"/>
<rect x="96" y="202" width="7" height="1" fill="#000"/>
<rect x="678" y="202" width="7" height="1" fill="#000"/>
<rect x="96" y="197" width="7" height="1" fill="#000"/>
<rect x="678" y="197" width="7" height="1" fill="#000"/>
<rect x="96" y="186" width="7" height="1" fill="#000"/>
<rect x="678" y="186" width="7" height="1" fill="#000"/>
<rect x="96" y="181" width="7" height="1" fill="#000"/>
<rect x="678" y="181" width="7" height="1" fill="#000"/>
<rect x="96" y="176" width="7" height="1" fill="#000"/>
<rect x="678" y="176" width="7" height="1" fill="#000"/>
<rect x="96" y="170" width="7" height="1" fill="#000"/>
<rect x="678" y="170" width="7" height="1" fill="#000"/>
<rect x="96" y="160" width="7" height="1" fill="#000"/>
<rect x="678" y="160" width="7" height="1" fill="#000"/>
<rect x="96" y="155" width="7" height="1" fill="#000"/>
<rect x="678" y="155" width="7" height="1" fill="#000"/>
<rect x="96" y="149" width="7" height="1" fill="#000"/>
<rect x="678" y="149" width="7" height="1" fill="#000"/>
<rect x="96" y="144" width="7" height="1" fill="#000"/>
<rect x="678" y="144" width="7" height="1" fill="#000"/>
<rect x="96" y="134" width="7" height="1" fill="#000"/>
<rect x="678" y="134" width="7" height="1" fill="#000"/>
<rect x="96" y="129" width="7" height="1" fill="#000"/>
<rect x="678" y="129" width="7" height="1" fill="#000"/>
<rect x="96" y="292" width="13" height="1" fill="#000"/>
<rect x="672" y="292" width="13" height="1" fill="#000"/>
<rect x="96" y="265" width="13" height="1" fill="#000"/>
<rect x="672" y="265" width="13" height="1" fill="#000"/>
<rect x="96" y="239" width="13" height="1" fill="#000"/>
<rect x="672" y="239" width="13" height="1" fill="#000"/>
<rect x="96" y="313" width="7" height="1" fill="#000"/>
<rect x="678" y="313" width="7" height="1" fill="#000"/>
<rect x="96" y="307" width="7" height="1" fill="#000"/>
<rect x="678" y="307" width="7" height="1" fill="#000"/>
<rect x="96" y="302" width="7" height="1" fill="#000"/>
<rect x="678" y="302" width="7" height="1" fill="#000"/>
<rect x="96" y="297" width="7" height="1" fill="#000"/>
<rect x="678" y="297" width="7" height="1" fill="#000"/>
<rect x="96" y="286" width="7" height="1" fill="#000"/>
<rect x="678" y="286" width="7" height="1" fill="#000"/>
<rect x="96" y="281" width="7" height="1" fill="#000"/>
<rect x="678" y="281" width="7" height="1" fill="#000"/>
<rect x="96" y="276" width="7" height="1" fill="#000"/>
<rect x="678" y="276" width="7" height="1" fill="#000"/>
<rect x="96" y="271" width="7" height="1" fill="#000"/>
<rect x="678" y="271" width="7" height="1" fill="#000"/>
<rect x="96" y="260" width="7" height="1" fill="#000"/>
<rect x="678" y="260" width="7" height="1" fill="#000"/>
<rect x="96" y="255" width="7" height="1" fill="#000"/>
<rect x="678" y="255" width="7" height="1" fill="#000"/>
<rect x="96" y="250" width="7" height="1" fill="#000"/>
<rect x="678" y="250" width="7" height="1" fill="#000"/>
<rect x="96" y="245" width="7" height="1" fill="#000"/>
<rect x="678" y="245" width="7" height="1" fill="#000"/>
<rect x="96" y="234" width="7" height="1" fill="#000"/>
<rect x="678" y="234" width="7" height="1" fill="#000"/>
<rect x="96" y="229" width="7" height="1" fill="#000"/>
<rect x="678" y="229" width="7" height="1" fill="#000"/>
<rect x="96" y="347" width="13" height="1" fill="#000"/>
<rect x="672" y="347" width="13" height="1" fill="#000"/>
<rect x="96" y="371" width="13" height="1" fill="#000"/>
<rect x="672" y="371" width="13" height="1" fill="#000"/>
<rect x="96" y="395" width="13" height="1" fill="#000"/>
<rect x="672" y="395" width="13" height="1" fill="#000"/>
<rect x="96" y="329" width="7" height="1" fill="#000"/>
<rect x="678" y="329" width="7" height="1" fill="#000"/>
<rect x="96" y="333" width="7" height="1" fill="#000"/>
<rect x="678" y="333" width="7" height="1" fill="#000"/>
<rect x="96" y="338" width="7" height="1" fill="#000"/>
<rect x="678" y="338" width="7" height="1" fill="#000"/>
<rect x="96" y="343" width="7" height="1" fill="#000"/>
<rect x="678" y="343" width="7" height="1" fill="#000"/>
<rect x="96" y="352" width="7" height="1" fill="#000"/>
<rect x="678" y="352" width="7" height="1" fill="#000"/>
<rect x="96" y="357" width="7" height="1" fill="#000"/>
<rect x="678" y="357" width="7" height="1" fill="#000"/>
<rect x="96" y="362" width="7" height="1" fill="#000"/>
<rect x="678" y="362" width="7" height="1" fill="#000"/>
<rect x="96" y="366" width="7" height="1" fill="#000"/>
<rect x="678" y="366" width="7" height="1" fill="#000"/>
<rect x="96" y="376" width="7" height="1" fill="#000"/>
<rect x="678" y="376" width="7" height="1" fill="#000"/>
<rect x="96" y="380" width="7" height="1" fill="#000"/>
<rect x="678" y="380" width="7" height="1" fill="#000"/>
<rect x="96" y="385" width="7" height="1" fill="#000"/>
<rect x="678" y="385" width="7" height="1" fill="#000"/>
<rect x="96" y="390" width="7" height="1" fill="#000"/>
<rect x="678" y="390" width="7" height="1" fill="#000"/>
<rect x="96" y="399" width="7" height="1" fill="#000"/>
<rect x="678" y="399" width="7" height="1" fill="#000"/>
<rect x="96" y="404" width="7" height="1" fill="#000"/>
<rect x="678" y="404" width="7" height="1" fill="#000"/>
<rect x="96" y="409" width="7" height="1" fill="#000"/>
<rect x="678" y="409" width="7" height="1" fill="#000"/>
<rect x="96" y="413" width="7" height="1" fill="#000"/>
<rect x="678" y="413" width="7" height="1" fill="#000"/>
<rect x="96" y="448" width="13" height="1" fill="#000"/>
<rect x="672" y="448" width="13" height="1" fill="#000"/>
<rect x="96" y="471" width="13" height="1" fill="#000"/>
<rect x="672" y="471" width="13" height="1" fill="#000"/>
<rect x="96" y="495" width="13" height="1" fill="#000"/>
<rect x="672" y="495" width="13" height="1" fill="#000"/>
<rect x="96" y="429" width="7" height="1" fill="#000"/>
<rect x="678" y="429" width="7" height="1" fill="#000"/>
<rect x="96" y="434" width="7" height="1" fill="#000"/>
<rect x="678" y="434" width="7" height="1" fill="#000"/>
<rect x="96" y="438" width="7" height="1" fill="#000"/>
<rect x="678" y="438" width="7" height="1" fill="#000"/>
<rect x="96" y="443" width="7" height="1" fill="#000"/>
<rect x="678" y="443" width="7" height="1" fill="#000"/>
<rect x="96" y="452" width="7" height="1" fill="#000"/>
<rect x="678" y="452" width="7" height="1" fill="#000"/>
<rect x="96" y="457" width="7" height="1" fill="#000"/>
<rect x="678" y="457" width="7" height="1" fill="#000"/>
<rect x="96" y="462" width="7" height="1" fill="#000"/>
<rect x="678" y="462" width="7" height="1" fill="#000"/>
<rect x="96" y="467" width="7" height="1" fill="#000"/>
<rect x="678" y="467" width="7" height="1" fill="#000"/>
<rect x="96" y="476" width="7" height="1" fill="#000"/>
<rect x="678" y="476" width="7" height="1" fill="#000"/>
<rect x="96" y="481" width="7" height="1" fill="#000"/>
<rect x="678" y="481" width="7" height="1" fill="#000"/>
<rect x="96" y="485" width="7" height="1" fill="#000"/>
<rect x="678" y="485" width="7" height="1" fill="#000"/>
<rect x="96" y="490" width="7" height="1" fill="#000"/>
<rect x="678" y="490" width="7" height="1" fill="#000"/>
<rect x="96" y="500" width="7" height="1" fill="#000"/>
<rect x="678" y="500" width="7" height="1" fill="#000"/>
<rect x="96" y="504" width="7" height="1" fill="#000"/>
<rect x="678" y="504" width="7" height="1" fill="#000"/>
<rect x="96" y="509" width="7" height="1" fill="#000"/>
<rect x="678" y="509" width="7" height="1" fill="#000"/>
<rect x="96" y="514" width="7" height="1" fill="#000"/>
<rect x="678" y="514" width="7" height="1" fill="#000"/>
<rect x="96" y="548" width="13" height="1" fill="#000"/>
<rect x="672" y="548" width="13" height="1" fill="#000"/>
<rect x="96" y="572" width="13" height="1" fill="#000"/>
<rect x="672" y="572" width="13" height="1" fill="#000"/>
<rect x="96" y="595" width="13" height="1" fill="#000"/>
<rect x="672" y="595" width="13" height="1" fill="#000"/>
<rect x="96" y="529" width="7" height="1" fill="#000"/>
<rect x="678" y="529" width="7" height="1" fill="#000"/>
<rect x="96" y="534" width="7" height="1" fill="#000"/>
<rect x="678" y="534" width="7" height="1" fill="#000"/>
<rect x="96" y="539" width="7" height="1" fill="#000"/>
<rect x="678" y="539" width="7" height="1" fill="#000"/>
<rect x="96" y="543" width="7" height="1" fill="#000"/>
<rect x="678" y="543" width="7" height="1" fill="#000"/>
<rect x="96" y="553" width="7" height="1" fill="#000"/>
<rect x="678" y="553" width="7" height="1" fill="#000"/>
<rect x="96" y="557" width="7" height="1" fill="#000"/>
<rect x="678" y="557" width="7" height="1" fill="#000"/>
<rect x="96" y="562" width="7" height="1" fill="#000"/>
<rect x="678" y="562" width="7" height="1" fill="#000"/>
<rect x="96" y="567" width="7" height="1" fill="#000"/>
<rect x="678" y="567" width="7" height="1" fill="#000"/>
<rect x="96" y="576" width="7" height="1" fill="#000"/>
<rect x="678" y="576" width="7" height="1" fill="#000"/>
<rect x="96" y="581" width="7" height="1" fill="#000"/>
<rect x="678" y="581" width="7" height="1" fill="#000"/>
<rect x="96" y="586" width="7" height="1" fill="#000"/>
<rect x="678" y="586" width="7" height="1" fill="#000"/>
<rect x="96" y="590" width="7" height="1" fill="#000"/>
<rect x="678" y="590" width="7" height="1" fill="#000"/>
<rect x="96" y="600" width="7" height="1" fill="#000"/>
<rect x="678" y="600" width="7" height="1" fill="#000"/>
<rect x="96" y="605" width="7" height="1" fill="#000"/>
<rect x="678" y="605" width="7" height="1" fill="#000"/>
<rect x="96" y="609" width="7" height="1" fill="#000"/>
<rect x="678" y="609" width="7" height="1" fill="#000"/>
<rect x="96" y="614" width="7" height="1" fill="#000"/>
<rect x="678" y="614" width="7" height="1" fill="#000"/>
<rect x="96" y="648" width="13" height="1" fill="#000"/>
<rect x="672" y="648" width="13" height="1" fill="#000"/>
<rect x="96" y="672" width="13" height="1" fill="#000"/>
<rect x="672" y="672" width="13" height="1" fill="#000"/>
<rect x="96" y="695" width="13" height="1" fill="#000"/>
<rect x="672" y="695" width="13" height="1" fill="#000"/>
<rect x="96" y="629" width="7" height="1" fill="#000"/>
<rect x="678" y="629" width="7" height="1" fill="#000"/>
<rect x="96" y="634" width="7" height="1" fill="#000"/>
<rect x="678" y="634" width="7" height="1" fill="#000"/>
<rect x="96" y="639" width="7" height="1" fill="#000"/>
<rect x="678" y="639" width="7" height="1" fill="#000"/>
<rect x="96" y="644" width="7" height="1" fill="#000"/>
<rect x="678" y="644" width="7" height="1" fill="#000"/>
<rect x="96" y="653" width="7" height="1" fill="#000"/>
<rect x="678" y="653" width="7" height="1" fill="#000"/>
<rect x="96" y="658" width="7" height="1" fill="#000"/>
<rect x="678" y="658" width="7" height="1" fill="#000"/>
<rect x="96" y="662" width="7" height="1" fill="#000"/>
<rect x="678" y="662" width="7" height="1" fill="#000"/>
<rect x="96" y="667" width="7" height="1" fill="#000"/>
<rect x="678" y="667" width="7" height="1" fill="#000"/>
<rect x="96" y="677" width="7" height="1" fill="#000"/>
<rect x="678" y="677" width="7" height="1" fill="#000"/>
<rect x="96" y="681" width="7" height="1" fill="#000"/>
<rect x="678" y="681" width="7" height="1" fill="#000"/>
<rect x="96" y="686" width="7" height="1" fill="#000"/>
<rect x="678" y="686" width="7" height="1" fill="#000"/>
<rect x="96" y="691" width="7" height="1" fill="#000"/>
<rect x="678" y="691" width="7" height="1" fill="#000"/>
<rect x="96" y="700" width="7" height="1" fill="#000"/>
<rect x="678" y="700" width="7" height="1" fill="#000"/>
<rect x="96" y="705" width="7" height="1" fill="#000"/>
<rect x="678" y="705" width="7" height="1" fill="#000"/>
<rect x="96" y="710" width="7" height="1" fill="#000"/>
<rect x="678" y="710" width="7" height="1" fill="#000"/>
<rect x="96" y="714" width="7" height="1" fill="#000"/>
<rect x="678" y="714" width="7" height="1" fill="#000"/>
<rect x="692" y="23" width="9" height="1" fill="#000"/>
<rect x="692" y="117" width="9" height="1" fill="#000"/>
<rect x="692" y="23" width="1" height="95" fill="#000"/>
<rect x="700" y="23" width="1" height="95" fill="#000"/>
<rect x="692" y="123" width="9" height="1" fill="#000"/>
<rect x="692" y="218" width="9" height="1" fill="#000"/>
<rect x="692" y="123" width="1" height="96" fill="#000"/>
<rect x="700" y="123" width="1" height="96" fill="#000"/>
<rect x="692" y="224" width="9" height="1" fill="#000"/>
<rect x="692" y="318" width="9" height="1" fill="#000"/>
<rect x="692" y="224" width="1" height="95" fill="#000"/>
<rect x="700" y="224" width="1" height="95" fill="#000"/>
</g>
<text y="17" font-size="17"><tspan x="248.0" textLength="61.2" lengthAdjust="spacingAndGlyphs">STEREO</tspan><tspan x="307.3" textLength="17.0" lengthAdjust="spacingAndGlyphs">-</tspan><tspan x="322.6" textLength="11.2" lengthAdjust="spacingAndGlyphs">A</tspan> <tspan x="342.3" textLength="56.2" lengthAdjust="spacingAndGlyphs">IMPACT</tspan> <tspan x="406.5" textLength="76.5" lengthAdjust="spacingAndGlyphs">Summary</tspan> <tspan x="493.6" textLength="29.8" lengthAdjust="spacingAndGlyphs">Plot</tspan></text>
<text y="51"><tspan x="59.9" textLength="31.6" lengthAdjust="spacingAndGlyphs">1000</tspan></text>
<text y="118"><tspan x="67.8" textLength="23.7" lengthAdjust="spacingAndGlyphs">100</tspan></text>
<text y="145"><tspan x="67.8" textLength="23.7" lengthAdjust="spacingAndGlyphs">150</tspan></text>
<text y="171"><tspan x="67.8" textLength="23.7" lengthAdjust="spacingAndGlyphs">100</tspan></text>
<text y="197"><tspan x="75.7" textLength="15.8" lengthAdjust="spacingAndGlyphs">50</tspan></text>
<text y="219"><tspan x="83.6" textLength="7.9" lengthAdjust="spacingAndGlyphs">0</tspan></text>
<text y="245"><tspan x="67.8" textLength="23.7" lengthAdjust="spacingAndGlyphs">150</tspan></text>
<text y="271"><tspan x="67.8" textLength="23.7" lengthAdjust="spacingAndGlyphs">100</tspan></text>
<text y="297.5"><tspan x="75.7" textLength="15.8" lengthAdjust="spacingAndGlyphs">50</tspan></text>
<text y="319"><tspan x="83.6" textLength="7.9" lengthAdjust="spacingAndGlyphs">0</tspan></text>
<text y="332.8"><tspan x="75.7" textLength="15.8" lengthAdjust="spacingAndGlyphs">10</tspan></text>
<text y="352.7"><tspan x="83.6" textLength="7.9" lengthAdjust="spacingAndGlyphs">5</tspan></text>
<text y="376.4"><tspan x="83.6" textLength="7.9" lengthAdjust="spacingAndGlyphs">0</tspan></text>
<text y="400"><tspan x="71.4" textLength="11.6" lengthAdjust="spacingAndGlyphs">-</tspan><tspan x="83.6" textLength="7.9" lengthAdjust="spacingAndGlyphs">5</tspan></text>
<text y="418.7"><tspan x="63.5" textLength="11.6" lengthAdjust="spacingAndGlyphs">-</tspan><tspan x="75.7" textLength="15.8" lengthAdjust="spacingAndGlyphs">10</tspan></text>
<text y="433.6"><tspan x="75.7" textLength="15.8" lengthAdjust="spacingAndGlyphs">10</tspan></text>
<text y="454"><tspan x="83.6" textLength="7.9" lengthAdjust="spacingAndGlyphs">5</tspan></text>
<text y="477"><tspan x="83.6" textLength="7.9" lengthAdjust="spacingAndGlyphs">0</tspan></text>
<text y="501"><tspan x="71.4" textLength="11.6" lengthAdjust="spacingAndGlyphs">-</tspan><tspan x="83.6" textLength="7.9" lengthAdjust="spacingAndGlyphs">5</tspan></text>
<text y="519"><tspan x="63.5" textLength="11.6" lengthAdjust="spacingAndGlyphs">-</tspan><tspan x="75.7" textLength="15.8" lengthAdjust="spacingAndGlyphs">10</tspan></text>
<text y="533.8"><tspan x="75.7" textLength="15.8" lengthAdjust="spacingAndGlyphs">10</tspan></text>
<text y="554"><tspan x="83.6" textLength="7.9" lengthAdjust="spacingAndGlyphs">5</tspan></text>
<text y="577.3"><tspan x="83.6" textLength="7.9" lengthAdjust="spacingAndGlyphs">0</tspan></text>
<text y="601"><tspan x="71.4" textLength="11.6" lengthAdjust="spacingAndGlyphs">-</tspan><tspan x="83.6" textLength="7.9" lengthAdjust="spacingAndGlyphs">5</tspan></text>
<text y="619.7"><tspan x="63.5" textLength="11.6" lengthAdjust="spacingAndGlyphs">-</tspan><tspan x="75.7" textLength="15.8" lengthAdjust="spacingAndGlyphs">10</tspan></text>
<text y="633.8"><tspan x="75.7" textLength="15.8" lengthAdjust="spacingAndGlyphs">20</tspan></text>
<text y="654"><tspan x="75.7" textLength="15.8" lengthAdjust="spacingAndGlyphs">15</tspan></text>
<text y="678"><tspan x="75.7" textLength="15.8" lengthAdjust="spacingAndGlyphs">10</tspan></text>
<text y="701"><tspan x="83.6" textLength="7.9" lengthAdjust="spacingAndGlyphs">5</tspan></text>
<text y="720"><tspan x="83.6" textLength="7.9" lengthAdjust="spacingAndGlyphs">0</tspan></text>
<text y="37.8"><tspan x="705.3" textLength="39.6" lengthAdjust="spacingAndGlyphs">10000</tspan></text>
<text y="62.8"><tspan x="705.3" textLength="31.6" lengthAdjust="spacingAndGlyphs">1000</tspan></text>
<text y="88.5"><tspan x="705.3" textLength="23.6" lengthAdjust="spacingAndGlyphs">100</tspan></text>
<text y="114.8"><tspan x="705.3" textLength="15.6" lengthAdjust="spacingAndGlyphs">10</tspan></text>
<text y="133"><tspan x="704.7" textLength="35.8" lengthAdjust="spacingAndGlyphs">0.100</tspan></text>
<text y="176.5"><tspan x="704.7" textLength="35.8" lengthAdjust="spacingAndGlyphs">0.010</tspan></text>
<text y="219"><tspan x="704.7" textLength="35.8" lengthAdjust="spacingAndGlyphs">0.001</tspan></text>
<text y="233"><tspan x="705.3" textLength="27.8" lengthAdjust="spacingAndGlyphs">10.0</tspan></text>
<text y="277"><tspan x="705.3" textLength="19.8" lengthAdjust="spacingAndGlyphs">1.0</tspan></text>
<text y="319"><tspan x="704.7" textLength="19.8" lengthAdjust="spacingAndGlyphs">0.1</tspan></text>
<text transform="translate(47 104.6) rotate(-90)"><tspan x="0.0" textLength="33.6" lengthAdjust="spacingAndGlyphs">SWEA</tspan> <tspan x="41.3" textLength="25.7" lengthAdjust="spacingAndGlyphs">(eV)</tspan></text>
<text transform="translate(56.3 197.4) rotate(-90)"><tspan x="0.0" textLength="37.0" lengthAdjust="spacingAndGlyphs">650.7</tspan> <tspan x="45.6" textLength="14.2" lengthAdjust="spacingAndGlyphs">eV</tspan></text>
<text transform="translate(56.3 297.6) rotate(-90)"><tspan x="0.0" textLength="37.0" lengthAdjust="spacingAndGlyphs">246.6</tspan> <tspan x="45.4" textLength="14.4" lengthAdjust="spacingAndGlyphs">eV</tspan></text>
<text transform="translate(53 395.3) rotate(-90)"><tspan x="0.0" textLength="7.3" lengthAdjust="spacingAndGlyphs">B</tspan><tspan x="8.7" textLength="5.0" lengthAdjust="spacingAndGlyphs" font-size="10" dy="4.2">R</tspan> <tspan x="21.8" textLength="25.0" lengthAdjust="spacingAndGlyphs" dy="-4.2">(nT)</tspan></text>
<text transform="translate(53 495.70000000000005) rotate(-90)"><tspan x="0.0" textLength="7.3" lengthAdjust="spacingAndGlyphs">B</tspan><tspan x="8.7" textLength="5.0" lengthAdjust="spacingAndGlyphs" font-size="10" dy="4.2">T</tspan> <tspan x="21.8" textLength="25.0" lengthAdjust="spacingAndGlyphs" dy="-4.2">(nT)</tspan></text>
<text transform="translate(53 595.9) rotate(-90)"><tspan x="0.0" textLength="7.3" lengthAdjust="spacingAndGlyphs">B</tspan><tspan x="8.7" textLength="5.0" lengthAdjust="spacingAndGlyphs" font-size="10" dy="4.2">N</tspan> <tspan x="21.8" textLength="25.0" lengthAdjust="spacingAndGlyphs" dy="-4.2">(nT)</tspan></text>
<text transform="translate(64 696.6) rotate(-90)"><tspan x="0.0" textLength="15.1" lengthAdjust="spacingAndGlyphs">|B|</tspan> <tspan x="23.6" textLength="24.5" lengthAdjust="spacingAndGlyphs">(nT)</tspan></text>
<text transform="translate(761.5 96.2) rotate(-90)"><tspan x="0.0" textLength="7.6" lengthAdjust="spacingAndGlyphs">e</tspan><tspan x="7.0" textLength="11.6" lengthAdjust="spacingAndGlyphs">-</tspan> <tspan x="25.9" textLength="24.5" lengthAdjust="spacingAndGlyphs">Flux</tspan></text>
<text transform="translate(756.5 220.8) rotate(-90)"><tspan x="0.0" textLength="7.6" lengthAdjust="spacingAndGlyphs">e</tspan><tspan x="6.9" textLength="11.3" lengthAdjust="spacingAndGlyphs">-</tspan> <tspan x="25.0" textLength="14.5" lengthAdjust="spacingAndGlyphs">Ph</tspan> <tspan x="48.0" textLength="16.0" lengthAdjust="spacingAndGlyphs">Sp</tspan> <tspan x="72.0" textLength="29.0" lengthAdjust="spacingAndGlyphs">Dens</tspan></text>
<text transform="translate(748 322.3) rotate(-90)"><tspan x="0.0" textLength="7.6" lengthAdjust="spacingAndGlyphs">e</tspan><tspan x="6.9" textLength="11.3" lengthAdjust="spacingAndGlyphs">-</tspan> <tspan x="25.0" textLength="14.5" lengthAdjust="spacingAndGlyphs">Ph</tspan> <tspan x="48.0" textLength="16.0" lengthAdjust="spacingAndGlyphs">Sp</tspan> <tspan x="72.0" textLength="29.0" lengthAdjust="spacingAndGlyphs">Dens</tspan></text>
<text transform="translate(691.4 718.9) rotate(-90)" font-size="7" stroke="#000" stroke-width=".3"><tspan x="0.0" textLength="7.3" lengthAdjust="spacingAndGlyphs">Fri</tspan> <tspan x="11.0" textLength="10.9" lengthAdjust="spacingAndGlyphs">Jun</tspan> <tspan x="25.7" textLength="7.4" lengthAdjust="spacingAndGlyphs"> 7</tspan> <tspan x="36.6" textLength="30.0" lengthAdjust="spacingAndGlyphs">10:33:10</tspan> <tspan x="70.0" textLength="15.8" lengthAdjust="spacingAndGlyphs">2013</tspan></text>
<text y="738"><tspan x="8.4" textLength="40.2" lengthAdjust="spacingAndGlyphs">hhmm</tspan></text>
<text y="750"><tspan x="8.4" textLength="32.6" lengthAdjust="spacingAndGlyphs">2013</tspan></text>
<text y="738"><tspan x="79.6" textLength="32.4" lengthAdjust="spacingAndGlyphs">0000</tspan></text>
<text y="738"><tspan x="275.6" textLength="32.4" lengthAdjust="spacingAndGlyphs">0800</tspan></text>
<text y="738"><tspan x="471.6" textLength="32.4" lengthAdjust="spacingAndGlyphs">1600</tspan></text>
<text y="738"><tspan x="667.6" textLength="32.4" lengthAdjust="spacingAndGlyphs">0000</tspan></text>
<text y="750"><tspan x="73.5" textLength="24.5" lengthAdjust="spacingAndGlyphs">Feb</tspan> <tspan x="103.0" textLength="16.0" lengthAdjust="spacingAndGlyphs">15</tspan></text>
<text y="750"><tspan x="661.5" textLength="24.5" lengthAdjust="spacingAndGlyphs">Feb</tspan> <tspan x="691.0" textLength="16.0" lengthAdjust="spacingAndGlyphs">16</tspan></text>
</svg>
</div>
</body></html>
